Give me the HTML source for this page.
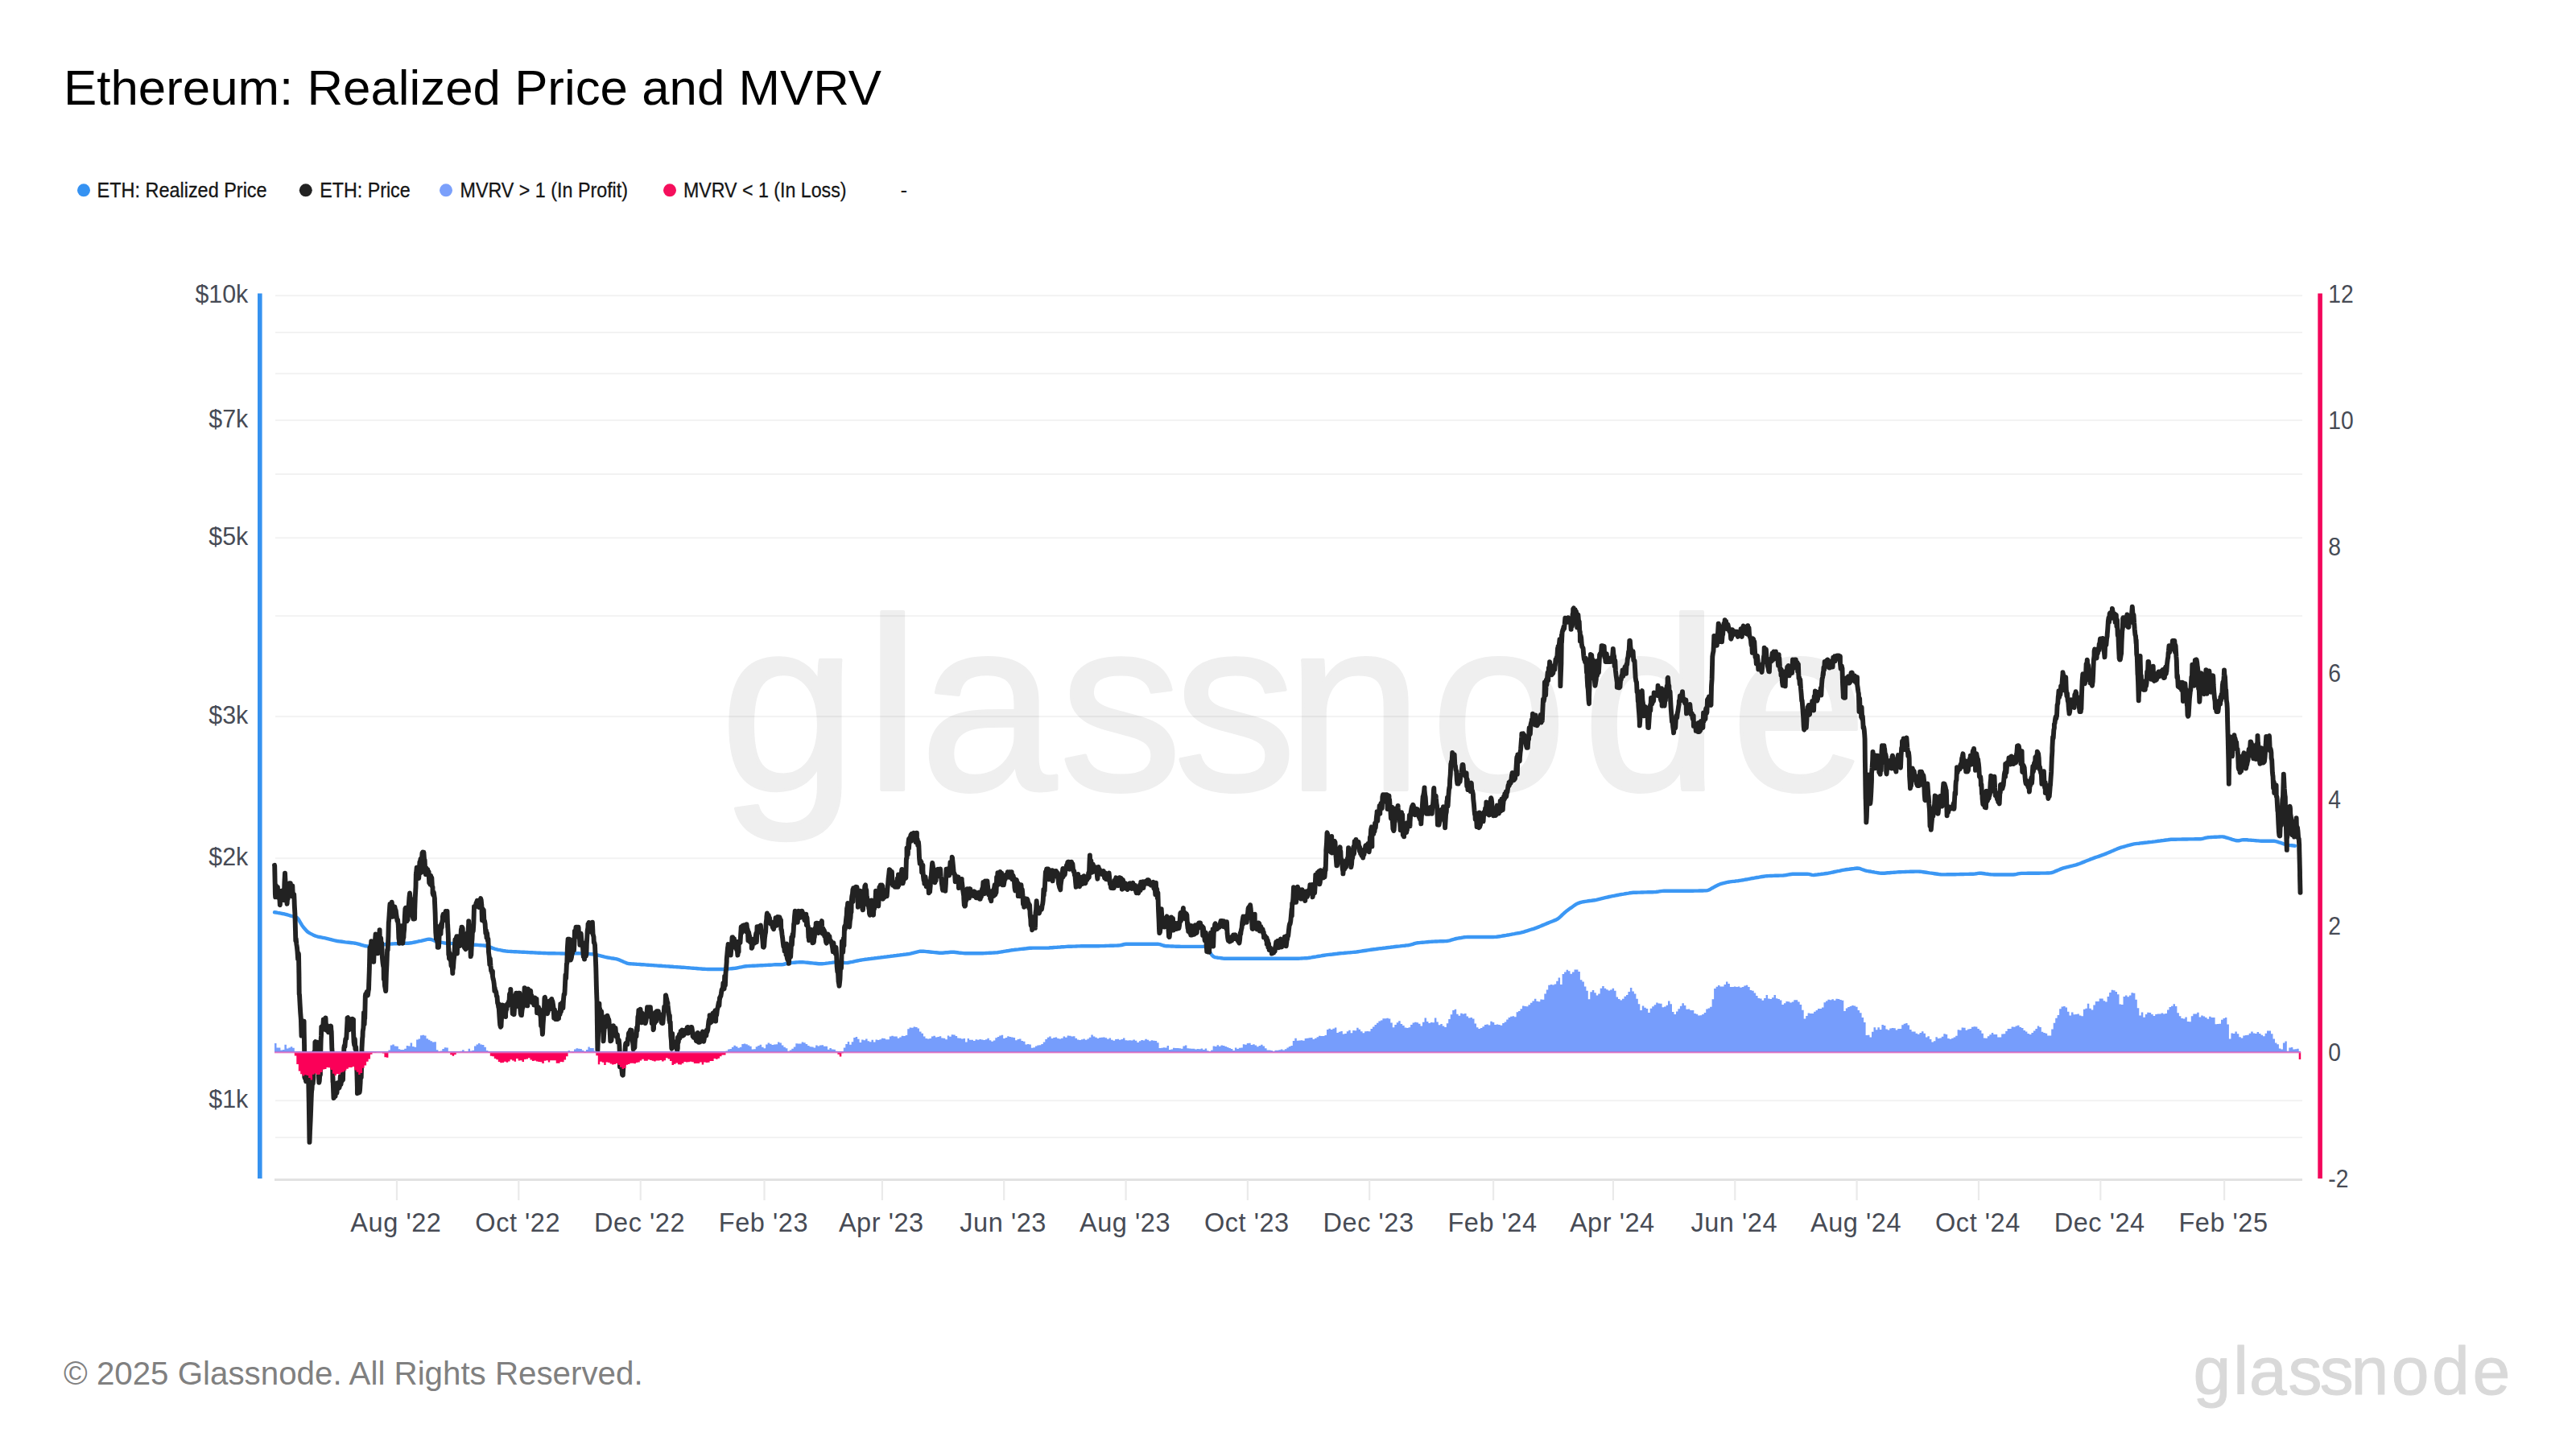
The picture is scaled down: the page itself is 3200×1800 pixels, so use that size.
<!DOCTYPE html>
<html lang="en"><head><meta charset="utf-8"><title>Ethereum: Realized Price and MVRV</title>
<style>html,body{margin:0;padding:0;background:#fff;}body{width:3200px;height:1800px;overflow:hidden;font-family:"Liberation Sans", sans-serif;}svg{display:block;}text{font-family:"Liberation Sans", sans-serif;}</style></head><body>
<svg width="3200" height="1800" viewBox="0 0 3200 1800">
<rect width="3200" height="1800" fill="#ffffff"/>
<text x="79" y="129.6" font-size="62" fill="#000" textLength="1016" lengthAdjust="spacingAndGlyphs">Ethereum: Realized Price and MVRV</text>
<circle cx="104.0" cy="236.3" r="8" fill="#3592f2"/>
<text x="120.6" y="244.9" font-size="26.5" fill="#151515" stroke="#151515" stroke-width="0.3" textLength="211.0" lengthAdjust="spacingAndGlyphs">ETH: Realized Price</text>
<circle cx="379.8" cy="236.3" r="8" fill="#222222"/>
<text x="397.3" y="244.9" font-size="26.5" fill="#151515" stroke="#151515" stroke-width="0.3" textLength="112.3" lengthAdjust="spacingAndGlyphs">ETH: Price</text>
<circle cx="554.0" cy="236.3" r="8" fill="#7ba0fb"/>
<text x="571.5" y="244.9" font-size="26.5" fill="#151515" stroke="#151515" stroke-width="0.3" textLength="208.5" lengthAdjust="spacingAndGlyphs">MVRV &gt; 1 (In Profit)</text>
<circle cx="832.0" cy="236.3" r="8" fill="#f50f5c"/>
<text x="849.0" y="244.9" font-size="26.5" fill="#151515" stroke="#151515" stroke-width="0.3" textLength="202.5" lengthAdjust="spacingAndGlyphs">MVRV &lt; 1 (In Loss)</text>
<text x="1118.5" y="245" font-size="26" fill="#1a1a1a">-</text>
<text x="894.5 1074.8 1142.8 1316 1458 1597.8 1777.2 1965.9 2149.8" y="981" font-size="305" fill="#efefef" stroke="#efefef" stroke-width="4" stroke-linejoin="round">glassnode</text>
<rect x="342" y="366.2" width="2518" height="2" fill="#000" fill-opacity="0.05"/>
<rect x="342" y="412.0" width="2518" height="2" fill="#000" fill-opacity="0.05"/>
<rect x="342" y="463.1" width="2518" height="2" fill="#000" fill-opacity="0.05"/>
<rect x="342" y="521.1" width="2518" height="2" fill="#000" fill-opacity="0.05"/>
<rect x="342" y="588.0" width="2518" height="2" fill="#000" fill-opacity="0.05"/>
<rect x="342" y="667.2" width="2518" height="2" fill="#000" fill-opacity="0.05"/>
<rect x="342" y="764.1" width="2518" height="2" fill="#000" fill-opacity="0.05"/>
<rect x="342" y="889.1" width="2518" height="2" fill="#000" fill-opacity="0.05"/>
<rect x="342" y="1065.2" width="2518" height="2" fill="#000" fill-opacity="0.05"/>
<rect x="342" y="1366.2" width="2518" height="2" fill="#000" fill-opacity="0.05"/>
<rect x="342" y="1412.0" width="2518" height="2" fill="#000" fill-opacity="0.05"/>
<rect x="341" y="1464" width="2519" height="3" fill="#e2e2e2"/>
<rect x="491.9" y="1466" width="2.2" height="25" fill="#eaeaea"/>
<text x="491.9" y="1529.8" font-size="32.5" fill="#474b55" text-anchor="middle" letter-spacing="0.55">Aug '22</text>
<rect x="643.2" y="1466" width="2.2" height="25" fill="#eaeaea"/>
<text x="643.2" y="1529.8" font-size="32.5" fill="#474b55" text-anchor="middle" letter-spacing="0.55">Oct '22</text>
<rect x="794.6" y="1466" width="2.2" height="25" fill="#eaeaea"/>
<text x="794.6" y="1529.8" font-size="32.5" fill="#474b55" text-anchor="middle" letter-spacing="0.55">Dec '22</text>
<rect x="948.4" y="1466" width="2.2" height="25" fill="#eaeaea"/>
<text x="948.4" y="1529.8" font-size="32.5" fill="#474b55" text-anchor="middle" letter-spacing="0.55">Feb '23</text>
<rect x="1094.8" y="1466" width="2.2" height="25" fill="#eaeaea"/>
<text x="1094.8" y="1529.8" font-size="32.5" fill="#474b55" text-anchor="middle" letter-spacing="0.55">Apr '23</text>
<rect x="1246.1" y="1466" width="2.2" height="25" fill="#eaeaea"/>
<text x="1246.1" y="1529.8" font-size="32.5" fill="#474b55" text-anchor="middle" letter-spacing="0.55">Jun '23</text>
<rect x="1397.5" y="1466" width="2.2" height="25" fill="#eaeaea"/>
<text x="1397.5" y="1529.8" font-size="32.5" fill="#474b55" text-anchor="middle" letter-spacing="0.55">Aug '23</text>
<rect x="1548.8" y="1466" width="2.2" height="25" fill="#eaeaea"/>
<text x="1548.8" y="1529.8" font-size="32.5" fill="#474b55" text-anchor="middle" letter-spacing="0.55">Oct '23</text>
<rect x="1700.1" y="1466" width="2.2" height="25" fill="#eaeaea"/>
<text x="1700.1" y="1529.8" font-size="32.5" fill="#474b55" text-anchor="middle" letter-spacing="0.55">Dec '23</text>
<rect x="1854.0" y="1466" width="2.2" height="25" fill="#eaeaea"/>
<text x="1854.0" y="1529.8" font-size="32.5" fill="#474b55" text-anchor="middle" letter-spacing="0.55">Feb '24</text>
<rect x="2002.8" y="1466" width="2.2" height="25" fill="#eaeaea"/>
<text x="2002.8" y="1529.8" font-size="32.5" fill="#474b55" text-anchor="middle" letter-spacing="0.55">Apr '24</text>
<rect x="2154.2" y="1466" width="2.2" height="25" fill="#eaeaea"/>
<text x="2154.2" y="1529.8" font-size="32.5" fill="#474b55" text-anchor="middle" letter-spacing="0.55">Jun '24</text>
<rect x="2305.5" y="1466" width="2.2" height="25" fill="#eaeaea"/>
<text x="2305.5" y="1529.8" font-size="32.5" fill="#474b55" text-anchor="middle" letter-spacing="0.55">Aug '24</text>
<rect x="2456.9" y="1466" width="2.2" height="25" fill="#eaeaea"/>
<text x="2456.9" y="1529.8" font-size="32.5" fill="#474b55" text-anchor="middle" letter-spacing="0.55">Oct '24</text>
<rect x="2608.2" y="1466" width="2.2" height="25" fill="#eaeaea"/>
<text x="2608.2" y="1529.8" font-size="32.5" fill="#474b55" text-anchor="middle" letter-spacing="0.55">Dec '24</text>
<rect x="2762.0" y="1466" width="2.2" height="25" fill="#eaeaea"/>
<text x="2762.0" y="1529.8" font-size="32.5" fill="#474b55" text-anchor="middle" letter-spacing="0.55">Feb '25</text>
<rect x="320" y="364.5" width="5.6" height="1099.5" fill="#3692f0"/>
<rect x="2879.3" y="364.5" width="5.6" height="1099.5" fill="#f2075b"/>
<text x="308.3" y="375.8" font-size="31.5" fill="#474b55" text-anchor="end" textLength="65.9" lengthAdjust="spacingAndGlyphs">$10k</text>
<text x="308.3" y="530.7" font-size="31.5" fill="#474b55" text-anchor="end" textLength="49.0" lengthAdjust="spacingAndGlyphs">$7k</text>
<text x="308.3" y="676.8" font-size="31.5" fill="#474b55" text-anchor="end" textLength="49.0" lengthAdjust="spacingAndGlyphs">$5k</text>
<text x="308.3" y="898.7" font-size="31.5" fill="#474b55" text-anchor="end" textLength="49.0" lengthAdjust="spacingAndGlyphs">$3k</text>
<text x="308.3" y="1074.8" font-size="31.5" fill="#474b55" text-anchor="end" textLength="49.0" lengthAdjust="spacingAndGlyphs">$2k</text>
<text x="308.3" y="1375.8" font-size="31.5" fill="#474b55" text-anchor="end" textLength="49.0" lengthAdjust="spacingAndGlyphs">$1k</text>
<text x="2892.3" y="376.1" font-size="31.5" fill="#474b55" textLength="31.4" lengthAdjust="spacingAndGlyphs">12</text>
<text x="2892.3" y="533.1" font-size="31.5" fill="#474b55" textLength="31.4" lengthAdjust="spacingAndGlyphs">10</text>
<text x="2892.3" y="690.1" font-size="31.5" fill="#474b55" textLength="15.7" lengthAdjust="spacingAndGlyphs">8</text>
<text x="2892.3" y="847.1" font-size="31.5" fill="#474b55" textLength="15.7" lengthAdjust="spacingAndGlyphs">6</text>
<text x="2892.3" y="1004.1" font-size="31.5" fill="#474b55" textLength="15.7" lengthAdjust="spacingAndGlyphs">4</text>
<text x="2892.3" y="1161.1" font-size="31.5" fill="#474b55" textLength="15.7" lengthAdjust="spacingAndGlyphs">2</text>
<text x="2892.3" y="1318.1" font-size="31.5" fill="#474b55" textLength="15.7" lengthAdjust="spacingAndGlyphs">0</text>
<text x="2892.3" y="1475.1" font-size="31.5" fill="#474b55" textLength="25.1" lengthAdjust="spacingAndGlyphs">-2</text>
<defs><filter id="soft" x="-1%" y="-1%" width="102%" height="102%"><feGaussianBlur stdDeviation="0.55"/></filter></defs><g filter="url(#soft)">
<path d="M341.0 1133.3 L343.0 1133.5 L345.0 1133.9 L347.0 1134.2 L349.0 1134.6 L351.0 1135.0 L353.0 1135.3 L355.0 1135.8 L357.0 1136.4 L359.0 1137.0 L361.0 1137.7 L363.0 1138.2 L365.0 1138.6 L367.0 1138.9 L369.0 1140.0 L371.0 1142.3 L373.0 1145.8 L375.0 1149.2 L377.0 1152.0 L379.0 1154.3 L381.0 1156.5 L383.0 1158.2 L385.0 1159.4 L387.0 1160.4 L389.0 1161.4 L391.0 1162.3 L393.0 1163.0 L395.0 1163.6 L397.0 1164.0 L399.0 1164.4 L401.0 1164.8 L403.0 1165.2 L405.0 1165.6 L407.0 1166.1 L409.0 1166.6 L411.0 1167.1 L413.0 1167.7 L415.0 1168.2 L417.0 1168.6 L419.0 1169.0 L421.0 1169.3 L423.0 1169.5 L425.0 1169.8 L427.0 1170.1 L429.0 1170.4 L431.0 1170.6 L433.0 1170.8 L435.0 1171.0 L437.0 1171.2 L439.0 1171.4 L441.0 1171.7 L443.0 1172.1 L445.0 1172.6 L447.0 1173.2 L449.0 1173.8 L451.0 1174.4 L453.0 1175.0 L455.0 1175.3 L457.0 1175.4 L459.0 1175.3 L461.0 1175.2 L463.0 1174.9 L465.0 1174.7 L467.0 1174.4 L469.0 1174.2 L471.0 1173.9 L473.0 1173.7 L475.0 1173.4 L477.0 1173.2 L479.0 1173.0 L481.0 1172.8 L483.0 1172.7 L485.0 1172.6 L487.0 1172.5 L489.0 1172.4 L491.0 1172.3 L493.0 1172.2 L495.0 1172.1 L497.0 1172.1 L499.0 1172.0 L501.0 1171.9 L503.0 1171.9 L505.0 1171.8 L507.0 1171.7 L509.0 1171.5 L511.0 1171.3 L513.0 1170.9 L515.0 1170.5 L517.0 1170.1 L519.0 1169.7 L521.0 1169.2 L523.0 1168.8 L525.0 1168.3 L527.0 1167.8 L529.0 1167.3 L531.0 1166.9 L533.0 1166.7 L535.0 1166.9 L537.0 1167.5 L539.0 1168.3 L541.0 1169.0 L543.0 1169.5 L545.0 1170.0 L547.0 1170.4 L549.0 1170.8 L551.0 1171.2 L553.0 1171.5 L555.0 1171.7 L557.0 1171.8 L559.0 1171.9 L561.0 1172.0 L563.0 1172.1 L565.0 1172.2 L567.0 1172.3 L569.0 1172.4 L571.0 1172.5 L573.0 1172.6 L575.0 1172.7 L577.0 1172.9 L579.0 1173.0 L581.0 1173.1 L583.0 1173.2 L585.0 1173.4 L587.0 1173.5 L589.0 1173.7 L591.0 1173.8 L593.0 1173.9 L595.0 1174.1 L597.0 1174.2 L599.0 1174.4 L601.0 1174.5 L603.0 1174.8 L605.0 1175.3 L607.0 1176.0 L609.0 1176.7 L611.0 1177.4 L613.0 1178.2 L615.0 1178.8 L617.0 1179.3 L619.0 1179.8 L621.0 1180.2 L623.0 1180.6 L625.0 1181.0 L627.0 1181.3 L629.0 1181.6 L631.0 1181.8 L633.0 1181.9 L635.0 1182.0 L637.0 1182.1 L639.0 1182.2 L641.0 1182.3 L643.0 1182.4 L645.0 1182.5 L647.0 1182.6 L649.0 1182.7 L651.0 1182.8 L653.0 1182.9 L655.0 1183.0 L657.0 1183.1 L659.0 1183.2 L661.0 1183.3 L663.0 1183.4 L665.0 1183.5 L667.0 1183.6 L669.0 1183.7 L671.0 1183.8 L673.0 1183.9 L675.0 1184.0 L677.0 1184.0 L679.0 1184.1 L681.0 1184.2 L683.0 1184.2 L685.0 1184.2 L687.0 1184.3 L689.0 1184.3 L691.0 1184.4 L693.0 1184.4 L695.0 1184.4 L697.0 1184.5 L699.0 1184.5 L701.0 1184.6 L703.0 1184.5 L705.0 1184.5 L707.0 1184.4 L709.0 1184.3 L711.0 1184.3 L713.0 1184.2 L715.0 1184.2 L717.0 1184.2 L719.0 1184.3 L721.0 1184.4 L723.0 1184.5 L725.0 1184.6 L727.0 1184.8 L729.0 1184.9 L731.0 1185.0 L733.0 1185.1 L735.0 1185.2 L737.0 1185.4 L739.0 1185.8 L741.0 1186.2 L743.0 1186.7 L745.0 1187.2 L747.0 1187.7 L749.0 1188.2 L751.0 1188.7 L753.0 1189.1 L755.0 1189.5 L757.0 1189.8 L759.0 1190.2 L761.0 1190.5 L763.0 1190.8 L765.0 1191.2 L767.0 1191.7 L769.0 1192.3 L771.0 1193.2 L773.0 1194.1 L775.0 1195.0 L777.0 1195.8 L779.0 1196.6 L781.0 1197.0 L783.0 1197.2 L785.0 1197.4 L787.0 1197.5 L789.0 1197.6 L791.0 1197.8 L793.0 1197.9 L795.0 1198.0 L797.0 1198.2 L799.0 1198.3 L801.0 1198.4 L803.0 1198.6 L805.0 1198.7 L807.0 1198.9 L809.0 1199.0 L811.0 1199.1 L813.0 1199.3 L815.0 1199.4 L817.0 1199.6 L819.0 1199.7 L821.0 1199.8 L823.0 1200.0 L825.0 1200.1 L827.0 1200.3 L829.0 1200.4 L831.0 1200.5 L833.0 1200.7 L835.0 1200.8 L837.0 1201.0 L839.0 1201.1 L841.0 1201.2 L843.0 1201.4 L845.0 1201.5 L847.0 1201.7 L849.0 1201.8 L851.0 1201.9 L853.0 1202.1 L855.0 1202.2 L857.0 1202.4 L859.0 1202.6 L861.0 1202.7 L863.0 1202.9 L865.0 1203.0 L867.0 1203.2 L869.0 1203.4 L871.0 1203.5 L873.0 1203.7 L875.0 1203.8 L877.0 1203.9 L879.0 1204.0 L881.0 1204.0 L883.0 1204.0 L885.0 1204.0 L887.0 1204.0 L889.0 1204.0 L891.0 1204.0 L893.0 1204.0 L895.0 1204.0 L897.0 1204.0 L899.0 1204.0 L901.0 1203.9 L903.0 1203.8 L905.0 1203.6 L907.0 1203.4 L909.0 1203.2 L911.0 1203.0 L913.0 1202.8 L915.0 1202.5 L917.0 1202.1 L919.0 1201.7 L921.0 1201.3 L923.0 1200.9 L925.0 1200.5 L927.0 1200.3 L929.0 1200.1 L931.0 1200.0 L933.0 1199.9 L935.0 1199.8 L937.0 1199.7 L939.0 1199.6 L941.0 1199.5 L943.0 1199.4 L945.0 1199.3 L947.0 1199.2 L949.0 1199.1 L951.0 1199.0 L953.0 1198.9 L955.0 1198.8 L957.0 1198.7 L959.0 1198.6 L961.0 1198.4 L963.0 1198.3 L965.0 1198.2 L967.0 1198.2 L969.0 1198.3 L971.0 1198.3 L973.0 1198.0 L975.0 1197.5 L977.0 1197.0 L979.0 1196.6 L981.0 1196.2 L983.0 1196.0 L985.0 1195.9 L987.0 1195.7 L989.0 1195.5 L991.0 1195.4 L993.0 1195.2 L995.0 1195.2 L997.0 1195.2 L999.0 1195.4 L1001.0 1195.6 L1003.0 1195.8 L1005.0 1196.0 L1007.0 1196.2 L1009.0 1196.4 L1011.0 1196.6 L1013.0 1196.8 L1015.0 1197.0 L1017.0 1197.2 L1019.0 1197.3 L1021.0 1197.3 L1023.0 1197.1 L1025.0 1196.9 L1027.0 1196.6 L1029.0 1196.4 L1031.0 1196.1 L1033.0 1195.9 L1035.0 1195.6 L1037.0 1195.4 L1039.0 1195.2 L1041.0 1195.2 L1043.0 1195.4 L1045.0 1195.6 L1047.0 1195.8 L1049.0 1196.0 L1051.0 1196.1 L1053.0 1196.0 L1055.0 1195.6 L1057.0 1195.2 L1059.0 1194.8 L1061.0 1194.3 L1063.0 1193.9 L1065.0 1193.5 L1067.0 1193.1 L1069.0 1192.7 L1071.0 1192.4 L1073.0 1192.1 L1075.0 1191.8 L1077.0 1191.6 L1079.0 1191.3 L1081.0 1191.1 L1083.0 1190.8 L1085.0 1190.6 L1087.0 1190.3 L1089.0 1190.1 L1091.0 1189.8 L1093.0 1189.6 L1095.0 1189.3 L1097.0 1189.1 L1099.0 1188.8 L1101.0 1188.6 L1103.0 1188.3 L1105.0 1188.1 L1107.0 1187.8 L1109.0 1187.6 L1111.0 1187.3 L1113.0 1187.1 L1115.0 1186.8 L1117.0 1186.6 L1119.0 1186.3 L1121.0 1186.1 L1123.0 1185.8 L1125.0 1185.6 L1127.0 1185.3 L1129.0 1185.0 L1131.0 1184.6 L1133.0 1184.1 L1135.0 1183.6 L1137.0 1183.1 L1139.0 1182.6 L1141.0 1182.1 L1143.0 1181.7 L1145.0 1181.6 L1147.0 1181.7 L1149.0 1181.9 L1151.0 1182.1 L1153.0 1182.3 L1155.0 1182.5 L1157.0 1182.7 L1159.0 1182.9 L1161.0 1183.1 L1163.0 1183.3 L1165.0 1183.5 L1167.0 1183.7 L1169.0 1183.7 L1171.0 1183.7 L1173.0 1183.5 L1175.0 1183.3 L1177.0 1183.2 L1179.0 1183.0 L1181.0 1182.8 L1183.0 1182.8 L1185.0 1182.8 L1187.0 1183.0 L1189.0 1183.2 L1191.0 1183.5 L1193.0 1183.7 L1195.0 1183.9 L1197.0 1184.1 L1199.0 1184.3 L1201.0 1184.3 L1203.0 1184.3 L1205.0 1184.3 L1207.0 1184.3 L1209.0 1184.3 L1211.0 1184.3 L1213.0 1184.3 L1215.0 1184.3 L1217.0 1184.3 L1219.0 1184.3 L1221.0 1184.2 L1223.0 1184.1 L1225.0 1184.0 L1227.0 1183.9 L1229.0 1183.8 L1231.0 1183.7 L1233.0 1183.6 L1235.0 1183.5 L1237.0 1183.4 L1239.0 1183.2 L1241.0 1182.9 L1243.0 1182.6 L1245.0 1182.3 L1247.0 1181.9 L1249.0 1181.6 L1251.0 1181.3 L1253.0 1181.0 L1255.0 1180.6 L1257.0 1180.3 L1259.0 1180.1 L1261.0 1179.8 L1263.0 1179.6 L1265.0 1179.4 L1267.0 1179.1 L1269.0 1178.9 L1271.0 1178.7 L1273.0 1178.5 L1275.0 1178.3 L1277.0 1178.0 L1279.0 1177.8 L1281.0 1177.7 L1283.0 1177.6 L1285.0 1177.6 L1287.0 1177.6 L1289.0 1177.6 L1291.0 1177.6 L1293.0 1177.6 L1295.0 1177.6 L1297.0 1177.6 L1299.0 1177.6 L1301.0 1177.6 L1303.0 1177.5 L1305.0 1177.3 L1307.0 1177.2 L1309.0 1177.0 L1311.0 1176.9 L1313.0 1176.8 L1315.0 1176.6 L1317.0 1176.5 L1319.0 1176.3 L1321.0 1176.2 L1323.0 1176.1 L1325.0 1175.9 L1327.0 1175.8 L1329.0 1175.8 L1331.0 1175.7 L1333.0 1175.6 L1335.0 1175.6 L1337.0 1175.5 L1339.0 1175.4 L1341.0 1175.4 L1343.0 1175.3 L1345.0 1175.2 L1347.0 1175.2 L1349.0 1175.2 L1351.0 1175.2 L1353.0 1175.2 L1355.0 1175.2 L1357.0 1175.2 L1359.0 1175.2 L1361.0 1175.2 L1363.0 1175.2 L1365.0 1175.2 L1367.0 1175.1 L1369.0 1175.1 L1371.0 1175.1 L1373.0 1175.0 L1375.0 1174.9 L1377.0 1174.9 L1379.0 1174.8 L1381.0 1174.8 L1383.0 1174.7 L1385.0 1174.6 L1387.0 1174.6 L1389.0 1174.5 L1391.0 1174.4 L1393.0 1174.0 L1395.0 1173.5 L1397.0 1173.0 L1399.0 1172.7 L1401.0 1172.7 L1403.0 1172.7 L1405.0 1172.7 L1407.0 1172.7 L1409.0 1172.7 L1411.0 1172.7 L1413.0 1172.7 L1415.0 1172.7 L1417.0 1172.7 L1419.0 1172.7 L1421.0 1172.7 L1423.0 1172.7 L1425.0 1172.7 L1427.0 1172.7 L1429.0 1172.7 L1431.0 1172.7 L1433.0 1172.7 L1435.0 1172.7 L1437.0 1172.7 L1439.0 1172.8 L1441.0 1173.2 L1443.0 1173.8 L1445.0 1174.5 L1447.0 1175.0 L1449.0 1175.2 L1451.0 1175.3 L1453.0 1175.4 L1455.0 1175.5 L1457.0 1175.5 L1459.0 1175.6 L1461.0 1175.7 L1463.0 1175.8 L1465.0 1175.8 L1467.0 1175.9 L1469.0 1175.9 L1471.0 1175.9 L1473.0 1175.9 L1475.0 1175.9 L1477.0 1175.9 L1479.0 1175.9 L1481.0 1175.9 L1483.0 1175.9 L1485.0 1175.9 L1487.0 1175.9 L1489.0 1175.9 L1491.0 1175.9 L1493.0 1175.9 L1495.0 1175.9 L1497.0 1175.9 L1499.0 1177.0 L1501.0 1179.3 L1503.0 1182.7 L1505.0 1185.9 L1507.0 1188.0 L1509.0 1189.1 L1511.0 1189.4 L1513.0 1189.7 L1515.0 1189.9 L1517.0 1190.2 L1519.0 1190.5 L1521.0 1190.7 L1523.0 1190.8 L1525.0 1190.8 L1527.0 1190.8 L1529.0 1190.8 L1531.0 1190.8 L1533.0 1190.8 L1535.0 1190.8 L1537.0 1190.8 L1539.0 1190.8 L1541.0 1190.8 L1543.0 1190.8 L1545.0 1190.8 L1547.0 1190.8 L1549.0 1190.8 L1551.0 1190.8 L1553.0 1190.8 L1555.0 1190.8 L1557.0 1190.8 L1559.0 1190.8 L1561.0 1190.8 L1563.0 1190.8 L1565.0 1190.8 L1567.0 1190.8 L1569.0 1190.8 L1571.0 1190.8 L1573.0 1190.8 L1575.0 1190.8 L1577.0 1190.8 L1579.0 1190.8 L1581.0 1190.8 L1583.0 1190.8 L1585.0 1190.8 L1587.0 1190.8 L1589.0 1190.8 L1591.0 1190.8 L1593.0 1190.8 L1595.0 1190.8 L1597.0 1190.8 L1599.0 1190.8 L1601.0 1190.8 L1603.0 1190.8 L1605.0 1190.8 L1607.0 1190.8 L1609.0 1190.8 L1611.0 1190.7 L1613.0 1190.7 L1615.0 1190.6 L1617.0 1190.5 L1619.0 1190.4 L1621.0 1190.3 L1623.0 1190.2 L1625.0 1190.0 L1627.0 1189.7 L1629.0 1189.4 L1631.0 1189.0 L1633.0 1188.7 L1635.0 1188.4 L1637.0 1188.0 L1639.0 1187.7 L1641.0 1187.4 L1643.0 1187.0 L1645.0 1186.7 L1647.0 1186.4 L1649.0 1186.1 L1651.0 1185.9 L1653.0 1185.7 L1655.0 1185.5 L1657.0 1185.2 L1659.0 1185.0 L1661.0 1184.8 L1663.0 1184.5 L1665.0 1184.3 L1667.0 1184.1 L1669.0 1184.0 L1671.0 1183.8 L1673.0 1183.6 L1675.0 1183.4 L1677.0 1183.3 L1679.0 1183.1 L1681.0 1182.9 L1683.0 1182.7 L1685.0 1182.5 L1687.0 1182.2 L1689.0 1181.9 L1691.0 1181.6 L1693.0 1181.3 L1695.0 1181.0 L1697.0 1180.7 L1699.0 1180.4 L1701.0 1180.1 L1703.0 1179.8 L1705.0 1179.5 L1707.0 1179.2 L1709.0 1179.0 L1711.0 1178.7 L1713.0 1178.4 L1715.0 1178.2 L1717.0 1178.0 L1719.0 1177.7 L1721.0 1177.5 L1723.0 1177.2 L1725.0 1177.0 L1727.0 1176.8 L1729.0 1176.5 L1731.0 1176.3 L1733.0 1176.0 L1735.0 1175.8 L1737.0 1175.6 L1739.0 1175.4 L1741.0 1175.1 L1743.0 1174.9 L1745.0 1174.7 L1747.0 1174.4 L1749.0 1174.2 L1751.0 1173.9 L1753.0 1173.4 L1755.0 1172.8 L1757.0 1172.1 L1759.0 1171.6 L1761.0 1171.3 L1763.0 1171.1 L1765.0 1170.9 L1767.0 1170.7 L1769.0 1170.6 L1771.0 1170.4 L1773.0 1170.2 L1775.0 1170.0 L1777.0 1169.9 L1779.0 1169.7 L1781.0 1169.6 L1783.0 1169.5 L1785.0 1169.5 L1787.0 1169.4 L1789.0 1169.3 L1791.0 1169.2 L1793.0 1169.2 L1795.0 1169.1 L1797.0 1169.0 L1799.0 1168.7 L1801.0 1168.3 L1803.0 1167.7 L1805.0 1167.1 L1807.0 1166.5 L1809.0 1166.0 L1811.0 1165.6 L1813.0 1165.3 L1815.0 1165.0 L1817.0 1164.6 L1819.0 1164.3 L1821.0 1164.1 L1823.0 1164.0 L1825.0 1164.0 L1827.0 1164.0 L1829.0 1164.0 L1831.0 1164.0 L1833.0 1164.0 L1835.0 1164.0 L1837.0 1164.0 L1839.0 1164.0 L1841.0 1164.0 L1843.0 1164.0 L1845.0 1164.0 L1847.0 1164.0 L1849.0 1164.0 L1851.0 1164.0 L1853.0 1164.0 L1855.0 1164.0 L1857.0 1163.9 L1859.0 1163.8 L1861.0 1163.5 L1863.0 1163.2 L1865.0 1162.9 L1867.0 1162.5 L1869.0 1162.2 L1871.0 1161.9 L1873.0 1161.5 L1875.0 1161.2 L1877.0 1160.8 L1879.0 1160.4 L1881.0 1160.1 L1883.0 1159.7 L1885.0 1159.3 L1887.0 1159.0 L1889.0 1158.6 L1891.0 1158.1 L1893.0 1157.6 L1895.0 1156.9 L1897.0 1156.3 L1899.0 1155.7 L1901.0 1155.0 L1903.0 1154.4 L1905.0 1153.8 L1907.0 1153.1 L1909.0 1152.4 L1911.0 1151.6 L1913.0 1150.8 L1915.0 1149.9 L1917.0 1149.1 L1919.0 1148.3 L1921.0 1147.4 L1923.0 1146.6 L1925.0 1145.8 L1927.0 1145.0 L1929.0 1144.2 L1931.0 1143.4 L1933.0 1142.6 L1935.0 1141.5 L1937.0 1140.0 L1939.0 1138.1 L1941.0 1136.1 L1943.0 1134.3 L1945.0 1132.6 L1947.0 1131.1 L1949.0 1129.6 L1951.0 1128.1 L1953.0 1126.7 L1955.0 1125.3 L1957.0 1123.9 L1959.0 1122.7 L1961.0 1121.8 L1963.0 1121.1 L1965.0 1120.6 L1967.0 1120.2 L1969.0 1119.9 L1971.0 1119.6 L1973.0 1119.3 L1975.0 1119.0 L1977.0 1118.8 L1979.0 1118.5 L1981.0 1118.2 L1983.0 1117.9 L1985.0 1117.4 L1987.0 1116.9 L1989.0 1116.4 L1991.0 1115.9 L1993.0 1115.4 L1995.0 1114.9 L1997.0 1114.5 L1999.0 1114.0 L2001.0 1113.6 L2003.0 1113.2 L2005.0 1112.8 L2007.0 1112.4 L2009.0 1112.0 L2011.0 1111.6 L2013.0 1111.2 L2015.0 1110.9 L2017.0 1110.6 L2019.0 1110.2 L2021.0 1109.9 L2023.0 1109.6 L2025.0 1109.2 L2027.0 1109.0 L2029.0 1108.8 L2031.0 1108.7 L2033.0 1108.7 L2035.0 1108.6 L2037.0 1108.6 L2039.0 1108.5 L2041.0 1108.5 L2043.0 1108.4 L2045.0 1108.4 L2047.0 1108.3 L2049.0 1108.3 L2051.0 1108.2 L2053.0 1108.2 L2055.0 1108.1 L2057.0 1108.0 L2059.0 1107.8 L2061.0 1107.4 L2063.0 1107.1 L2065.0 1106.9 L2067.0 1106.8 L2069.0 1106.8 L2071.0 1106.8 L2073.0 1106.8 L2075.0 1106.8 L2077.0 1106.8 L2079.0 1106.8 L2081.0 1106.8 L2083.0 1106.8 L2085.0 1106.8 L2087.0 1106.8 L2089.0 1106.8 L2091.0 1106.8 L2093.0 1106.8 L2095.0 1106.8 L2097.0 1106.8 L2099.0 1106.7 L2101.0 1106.7 L2103.0 1106.7 L2105.0 1106.6 L2107.0 1106.6 L2109.0 1106.6 L2111.0 1106.5 L2113.0 1106.5 L2115.0 1106.5 L2117.0 1106.4 L2119.0 1106.4 L2121.0 1106.1 L2123.0 1105.5 L2125.0 1104.4 L2127.0 1103.2 L2129.0 1102.1 L2131.0 1101.0 L2133.0 1100.0 L2135.0 1099.0 L2137.0 1098.2 L2139.0 1097.6 L2141.0 1097.1 L2143.0 1096.6 L2145.0 1096.1 L2147.0 1095.7 L2149.0 1095.4 L2151.0 1095.1 L2153.0 1094.9 L2155.0 1094.7 L2157.0 1094.4 L2159.0 1094.2 L2161.0 1093.9 L2163.0 1093.6 L2165.0 1093.3 L2167.0 1092.9 L2169.0 1092.5 L2171.0 1092.2 L2173.0 1091.8 L2175.0 1091.4 L2177.0 1091.0 L2179.0 1090.7 L2181.0 1090.3 L2183.0 1090.0 L2185.0 1089.7 L2187.0 1089.3 L2189.0 1089.0 L2191.0 1088.7 L2193.0 1088.4 L2195.0 1088.2 L2197.0 1088.1 L2199.0 1088.0 L2201.0 1088.0 L2203.0 1087.9 L2205.0 1087.8 L2207.0 1087.8 L2209.0 1087.7 L2211.0 1087.6 L2213.0 1087.6 L2215.0 1087.5 L2217.0 1087.3 L2219.0 1087.0 L2221.0 1086.6 L2223.0 1086.3 L2225.0 1086.0 L2227.0 1085.8 L2229.0 1085.7 L2231.0 1085.7 L2233.0 1085.7 L2235.0 1085.7 L2237.0 1085.7 L2239.0 1085.7 L2241.0 1085.7 L2243.0 1085.7 L2245.0 1085.7 L2247.0 1085.9 L2249.0 1086.4 L2251.0 1086.9 L2253.0 1087.1 L2255.0 1086.8 L2257.0 1086.6 L2259.0 1086.3 L2261.0 1086.1 L2263.0 1085.8 L2265.0 1085.6 L2267.0 1085.3 L2269.0 1085.0 L2271.0 1084.7 L2273.0 1084.3 L2275.0 1083.9 L2277.0 1083.5 L2279.0 1083.0 L2281.0 1082.6 L2283.0 1082.2 L2285.0 1081.8 L2287.0 1081.3 L2289.0 1080.9 L2291.0 1080.6 L2293.0 1080.3 L2295.0 1080.0 L2297.0 1079.8 L2299.0 1079.5 L2301.0 1079.2 L2303.0 1079.0 L2305.0 1078.7 L2307.0 1078.5 L2309.0 1078.7 L2311.0 1079.2 L2313.0 1080.0 L2315.0 1080.7 L2317.0 1081.3 L2319.0 1081.8 L2321.0 1082.2 L2323.0 1082.5 L2325.0 1082.9 L2327.0 1083.2 L2329.0 1083.6 L2331.0 1083.9 L2333.0 1084.3 L2335.0 1084.6 L2337.0 1084.8 L2339.0 1084.8 L2341.0 1084.7 L2343.0 1084.5 L2345.0 1084.3 L2347.0 1084.2 L2349.0 1084.0 L2351.0 1083.9 L2353.0 1083.7 L2355.0 1083.6 L2357.0 1083.4 L2359.0 1083.3 L2361.0 1083.2 L2363.0 1083.1 L2365.0 1083.1 L2367.0 1083.0 L2369.0 1082.9 L2371.0 1082.9 L2373.0 1082.8 L2375.0 1082.8 L2377.0 1082.7 L2379.0 1082.6 L2381.0 1082.6 L2383.0 1082.6 L2385.0 1082.7 L2387.0 1082.9 L2389.0 1083.2 L2391.0 1083.5 L2393.0 1083.8 L2395.0 1084.1 L2397.0 1084.4 L2399.0 1084.6 L2401.0 1084.9 L2403.0 1085.2 L2405.0 1085.5 L2407.0 1085.8 L2409.0 1086.1 L2411.0 1086.3 L2413.0 1086.4 L2415.0 1086.4 L2417.0 1086.4 L2419.0 1086.3 L2421.0 1086.3 L2423.0 1086.3 L2425.0 1086.2 L2427.0 1086.2 L2429.0 1086.2 L2431.0 1086.1 L2433.0 1086.1 L2435.0 1086.0 L2437.0 1086.0 L2439.0 1086.0 L2441.0 1085.9 L2443.0 1085.9 L2445.0 1085.9 L2447.0 1085.8 L2449.0 1085.8 L2451.0 1085.8 L2453.0 1085.6 L2455.0 1085.3 L2457.0 1084.9 L2459.0 1084.7 L2461.0 1084.8 L2463.0 1085.0 L2465.0 1085.3 L2467.0 1085.6 L2469.0 1085.8 L2471.0 1086.1 L2473.0 1086.3 L2475.0 1086.4 L2477.0 1086.5 L2479.0 1086.5 L2481.0 1086.5 L2483.0 1086.5 L2485.0 1086.5 L2487.0 1086.5 L2489.0 1086.5 L2491.0 1086.5 L2493.0 1086.5 L2495.0 1086.5 L2497.0 1086.5 L2499.0 1086.5 L2501.0 1086.5 L2503.0 1086.3 L2505.0 1085.9 L2507.0 1085.4 L2509.0 1085.1 L2511.0 1084.9 L2513.0 1084.9 L2515.0 1084.9 L2517.0 1084.9 L2519.0 1084.8 L2521.0 1084.8 L2523.0 1084.8 L2525.0 1084.8 L2527.0 1084.7 L2529.0 1084.7 L2531.0 1084.7 L2533.0 1084.7 L2535.0 1084.6 L2537.0 1084.6 L2539.0 1084.6 L2541.0 1084.6 L2543.0 1084.5 L2545.0 1084.5 L2547.0 1084.4 L2549.0 1084.0 L2551.0 1083.3 L2553.0 1082.4 L2555.0 1081.6 L2557.0 1080.8 L2559.0 1079.9 L2561.0 1079.1 L2563.0 1078.4 L2565.0 1077.8 L2567.0 1077.3 L2569.0 1076.8 L2571.0 1076.3 L2573.0 1075.8 L2575.0 1075.4 L2577.0 1074.9 L2579.0 1074.4 L2581.0 1073.7 L2583.0 1073.0 L2585.0 1072.2 L2587.0 1071.4 L2589.0 1070.6 L2591.0 1069.8 L2593.0 1069.0 L2595.0 1068.2 L2597.0 1067.4 L2599.0 1066.7 L2601.0 1065.9 L2603.0 1065.2 L2605.0 1064.5 L2607.0 1063.8 L2609.0 1063.1 L2611.0 1062.4 L2613.0 1061.7 L2615.0 1060.9 L2617.0 1060.1 L2619.0 1059.2 L2621.0 1058.4 L2623.0 1057.5 L2625.0 1056.7 L2627.0 1055.8 L2629.0 1055.0 L2631.0 1054.1 L2633.0 1053.4 L2635.0 1052.7 L2637.0 1052.2 L2639.0 1051.6 L2641.0 1051.0 L2643.0 1050.4 L2645.0 1049.9 L2647.0 1049.3 L2649.0 1048.8 L2651.0 1048.4 L2653.0 1048.1 L2655.0 1047.9 L2657.0 1047.7 L2659.0 1047.4 L2661.0 1047.2 L2663.0 1047.0 L2665.0 1046.8 L2667.0 1046.6 L2669.0 1046.3 L2671.0 1046.1 L2673.0 1045.9 L2675.0 1045.6 L2677.0 1045.4 L2679.0 1045.1 L2681.0 1044.8 L2683.0 1044.6 L2685.0 1044.3 L2687.0 1044.1 L2689.0 1043.8 L2691.0 1043.5 L2693.0 1043.3 L2695.0 1043.0 L2697.0 1042.8 L2699.0 1042.7 L2701.0 1042.7 L2703.0 1042.7 L2705.0 1042.6 L2707.0 1042.6 L2709.0 1042.6 L2711.0 1042.5 L2713.0 1042.5 L2715.0 1042.5 L2717.0 1042.5 L2719.0 1042.4 L2721.0 1042.4 L2723.0 1042.4 L2725.0 1042.4 L2727.0 1042.3 L2729.0 1042.3 L2731.0 1042.3 L2733.0 1042.2 L2735.0 1042.0 L2737.0 1041.6 L2739.0 1041.0 L2741.0 1040.6 L2743.0 1040.3 L2745.0 1040.1 L2747.0 1040.0 L2749.0 1039.9 L2751.0 1039.8 L2753.0 1039.7 L2755.0 1039.6 L2757.0 1039.5 L2759.0 1039.4 L2761.0 1039.4 L2763.0 1039.7 L2765.0 1040.3 L2767.0 1040.9 L2769.0 1041.5 L2771.0 1042.1 L2773.0 1042.8 L2775.0 1043.4 L2777.0 1044.0 L2779.0 1044.3 L2781.0 1044.3 L2783.0 1043.8 L2785.0 1043.4 L2787.0 1043.2 L2789.0 1043.2 L2791.0 1043.3 L2793.0 1043.5 L2795.0 1043.6 L2797.0 1043.8 L2799.0 1043.9 L2801.0 1044.1 L2803.0 1044.3 L2805.0 1044.4 L2807.0 1044.6 L2809.0 1044.7 L2811.0 1044.7 L2813.0 1044.7 L2815.0 1044.7 L2817.0 1044.7 L2819.0 1044.7 L2821.0 1044.7 L2823.0 1044.7 L2825.0 1044.8 L2827.0 1045.1 L2829.0 1045.6 L2831.0 1046.3 L2833.0 1046.9 L2835.0 1047.6 L2837.0 1048.3 L2839.0 1048.9 L2841.0 1049.5 L2843.0 1049.9 L2845.0 1050.1 L2847.0 1050.3 L2849.0 1050.5 L2851.0 1050.7" fill="none" stroke="#3b97f4" stroke-width="4.4" stroke-linejoin="round" stroke-linecap="round"/>
<path d="M341.0 1074.8 L341.2 1075.9 L341.6 1095.1 L341.9 1110.7 L342.2 1114.4 L342.9 1099.9 L343.5 1106.4 L344.1 1110.5 L344.7 1102.3 L344.9 1102.0 L345.3 1114.6 L346.0 1112.0 L346.6 1113.4 L347.2 1113.7 L347.8 1124.2 L347.9 1123.0 L348.4 1115.1 L349.1 1116.7 L349.7 1106.7 L350.3 1107.5 L350.9 1107.8 L351.1 1114.5 L351.5 1108.2 L352.2 1110.6 L352.8 1118.3 L353.4 1096.3 L354.0 1084.7 L354.1 1087.2 L354.6 1096.8 L355.3 1106.5 L355.9 1108.7 L356.5 1120.8 L356.6 1122.9 L357.1 1115.8 L357.7 1116.3 L358.4 1104.0 L359.0 1102.1 L359.3 1100.3 L359.6 1097.1 L360.2 1101.4 L360.8 1097.1 L361.5 1105.5 L362.1 1100.8 L362.3 1107.3 L362.7 1113.3 L363.3 1100.5 L363.9 1113.8 L364.6 1110.6 L365.2 1111.0 L365.5 1116.6 L365.8 1124.8 L366.4 1135.2 L367.0 1156.5 L367.3 1168.5 L367.7 1166.0 L368.3 1172.6 L368.9 1176.4 L369.5 1182.3 L370.1 1191.2 L370.8 1184.4 L371.0 1186.4 L371.4 1209.1 L371.7 1235.1 L372.0 1235.3 L372.6 1247.2 L373.2 1257.6 L373.9 1266.6 L374.5 1286.6 L374.7 1272.4 L375.1 1274.3 L375.7 1282.0 L376.3 1268.3 L377.0 1276.2 L377.6 1268.7 L377.7 1279.5 L378.2 1308.1 L378.3 1338.0 L378.8 1339.4 L379.4 1338.6 L380.1 1343.2 L380.4 1336.3 L380.7 1334.9 L381.3 1339.5 L381.9 1340.0 L382.5 1340.0 L383.1 1339.7 L383.2 1341.7 L383.8 1371.6 L384.4 1413.4 L384.5 1418.9 L385.0 1405.3 L385.6 1393.1 L386.3 1374.6 L386.9 1358.6 L387.3 1353.6 L387.5 1353.7 L388.1 1342.4 L388.7 1346.2 L389.4 1338.7 L389.4 1333.4 L390.0 1313.4 L390.0 1307.2 L390.6 1306.5 L391.2 1308.8 L391.4 1294.7 L391.8 1294.2 L392.5 1300.4 L393.1 1301.5 L393.7 1296.6 L393.8 1294.6 L394.3 1305.2 L394.9 1307.8 L394.9 1303.8 L395.6 1326.2 L396.2 1343.4 L396.3 1344.8 L396.8 1342.5 L397.4 1333.8 L397.9 1335.1 L398.0 1324.5 L398.3 1306.3 L398.7 1291.0 L399.0 1286.9 L399.3 1275.7 L399.9 1275.8 L400.5 1279.5 L401.1 1273.4 L401.1 1277.6 L401.8 1266.5 L402.4 1273.2 L403.0 1266.6 L403.6 1272.7 L404.2 1268.0 L404.5 1264.5 L404.9 1273.4 L405.5 1279.8 L406.1 1273.8 L406.7 1274.3 L407.3 1275.2 L407.3 1276.5 L408.0 1282.4 L408.6 1276.6 L409.2 1279.3 L409.8 1276.8 L410.4 1277.7 L411.1 1274.6 L411.4 1279.7 L411.7 1281.3 L412.3 1302.5 L412.8 1307.9 L412.9 1310.2 L413.5 1343.9 L413.5 1338.0 L414.2 1357.2 L414.5 1364.0 L414.8 1363.9 L415.4 1359.0 L416.0 1356.4 L416.6 1361.8 L417.3 1349.2 L417.7 1349.7 L417.9 1352.5 L418.5 1357.5 L419.1 1345.2 L419.7 1349.6 L420.4 1346.3 L421.0 1351.7 L421.6 1350.9 L422.2 1348.0 L422.8 1337.2 L423.2 1346.2 L423.5 1347.1 L424.1 1341.8 L424.7 1343.1 L425.3 1336.2 L425.9 1333.4 L426.0 1341.2 L426.6 1318.6 L426.6 1320.3 L427.2 1307.7 L427.3 1302.1 L427.8 1299.1 L428.4 1300.2 L429.0 1293.0 L429.4 1290.6 L429.7 1290.2 L430.3 1290.0 L430.9 1278.6 L431.5 1267.4 L431.5 1264.5 L432.1 1264.1 L432.8 1267.7 L433.4 1279.3 L434.0 1265.7 L434.6 1269.3 L434.9 1270.3 L435.2 1271.4 L435.9 1269.9 L436.5 1267.1 L437.1 1274.5 L437.7 1265.8 L438.3 1278.2 L439.0 1266.6 L439.0 1280.0 L439.6 1294.2 L440.2 1298.3 L440.4 1295.3 L440.8 1290.8 L441.4 1303.0 L442.1 1300.4 L442.5 1307.3 L442.7 1318.7 L443.3 1328.9 L443.9 1350.6 L443.9 1358.2 L444.5 1355.5 L445.2 1355.3 L445.8 1357.5 L446.4 1352.9 L446.6 1357.1 L447.0 1354.6 L447.6 1345.3 L448.3 1327.3 L448.7 1338.4 L448.9 1330.6 L449.4 1307.7 L449.5 1302.3 L450.1 1290.7 L450.5 1287.4 L450.7 1281.2 L451.4 1276.7 L452.0 1257.9 L452.6 1272.4 L453.0 1263.5 L453.2 1265.5 L453.8 1237.7 L454.2 1234.7 L454.5 1235.4 L455.1 1236.8 L455.7 1232.0 L456.3 1234.8 L456.9 1236.4 L457.6 1230.9 L458.0 1228.9 L458.2 1222.3 L458.8 1205.5 L459.2 1188.9 L459.4 1177.2 L460.0 1176.2 L460.7 1177.5 L461.3 1169.2 L461.7 1170.2 L461.9 1176.8 L462.5 1178.9 L463.1 1179.3 L463.8 1187.0 L464.2 1194.9 L464.4 1189.6 L465.0 1180.9 L465.6 1172.9 L466.2 1165.4 L466.6 1160.4 L466.9 1165.3 L467.5 1170.1 L468.1 1171.0 L468.7 1181.4 L469.1 1179.4 L469.3 1184.3 L470.0 1166.8 L470.6 1167.2 L471.2 1162.0 L471.6 1155.1 L471.8 1165.9 L472.4 1168.9 L473.1 1165.2 L473.7 1174.3 L474.1 1179.2 L474.3 1171.8 L474.9 1189.2 L475.5 1195.8 L476.2 1200.7 L476.6 1199.0 L476.8 1216.2 L477.4 1213.8 L478.0 1224.6 L478.6 1227.6 L479.1 1231.1 L479.3 1230.0 L479.9 1208.8 L480.5 1196.8 L481.1 1180.1 L481.6 1180.3 L481.7 1179.8 L482.4 1162.9 L482.8 1145.4 L483.0 1144.6 L483.6 1135.6 L484.2 1126.1 L484.5 1123.0 L484.8 1123.1 L485.5 1130.2 L486.1 1124.3 L486.7 1120.7 L487.3 1125.8 L487.8 1128.7 L487.9 1138.9 L488.6 1134.8 L489.2 1133.3 L489.8 1131.1 L490.4 1126.5 L491.0 1130.2 L491.5 1132.4 L491.7 1130.7 L492.3 1136.2 L492.9 1140.0 L493.5 1144.0 L494.0 1142.5 L494.1 1142.8 L494.8 1149.8 L495.4 1165.8 L496.0 1168.9 L496.0 1171.7 L496.6 1171.7 L497.2 1161.2 L497.9 1155.6 L498.5 1156.6 L498.9 1152.3 L499.1 1150.3 L499.7 1154.2 L500.3 1171.7 L501.0 1163.8 L501.4 1165.0 L501.6 1159.7 L502.2 1154.0 L502.8 1138.9 L503.4 1129.0 L503.9 1133.0 L504.1 1127.6 L504.7 1138.8 L505.3 1144.4 L505.9 1137.5 L506.4 1139.8 L506.5 1142.7 L507.2 1128.4 L507.8 1123.9 L508.4 1115.0 L509.0 1109.5 L509.4 1113.5 L509.6 1119.3 L510.3 1116.2 L510.9 1118.5 L511.5 1128.0 L512.1 1135.7 L512.6 1138.6 L512.7 1138.9 L513.4 1141.6 L514.0 1138.1 L514.6 1138.5 L515.1 1141.4 L515.2 1131.6 L515.8 1114.3 L516.5 1101.7 L516.8 1086.5 L517.1 1084.2 L517.7 1077.8 L518.3 1085.7 L518.9 1086.5 L519.6 1079.5 L520.1 1090.0 L520.2 1091.1 L520.8 1082.9 L521.4 1070.7 L522.0 1069.9 L522.5 1066.9 L522.7 1071.0 L523.3 1084.0 L523.9 1068.2 L524.5 1059.7 L525.1 1058.6 L525.8 1060.9 L526.3 1060.4 L526.4 1058.6 L527.0 1067.4 L527.6 1068.5 L528.2 1081.5 L528.8 1079.2 L528.9 1086.3 L529.5 1078.1 L530.1 1083.6 L530.7 1082.5 L531.2 1079.8 L531.3 1082.7 L532.0 1082.2 L532.6 1083.0 L533.2 1096.7 L533.7 1092.5 L533.8 1095.2 L534.4 1098.7 L535.1 1087.6 L535.7 1093.9 L536.3 1090.2 L536.9 1101.3 L537.5 1102.1 L537.5 1109.5 L538.2 1111.8 L538.8 1108.3 L539.4 1112.7 L539.9 1116.0 L540.0 1120.5 L540.6 1133.6 L541.2 1155.7 L541.3 1158.3 L541.9 1166.4 L542.5 1163.1 L543.1 1168.5 L543.7 1173.0 L543.7 1176.7 L544.4 1170.9 L545.0 1176.7 L545.6 1163.4 L546.2 1150.6 L546.8 1154.1 L547.4 1158.3 L547.5 1160.2 L548.1 1147.9 L548.7 1152.5 L549.3 1144.7 L549.9 1142.3 L549.9 1138.6 L550.6 1135.8 L551.2 1137.1 L551.8 1136.3 L552.4 1134.7 L553.0 1134.3 L553.6 1133.2 L553.7 1131.9 L554.3 1134.1 L554.9 1144.2 L555.5 1132.0 L556.1 1151.7 L556.1 1148.1 L556.8 1161.7 L557.3 1185.8 L557.4 1178.5 L558.0 1190.6 L558.6 1183.9 L559.2 1192.0 L559.8 1193.3 L559.9 1189.2 L560.5 1199.7 L561.1 1200.6 L561.7 1199.1 L562.3 1209.1 L562.3 1205.6 L563.0 1202.3 L563.6 1193.5 L564.2 1188.5 L564.8 1177.8 L564.8 1177.2 L565.4 1167.3 L566.1 1175.5 L566.7 1165.6 L567.3 1163.3 L567.3 1167.3 L567.9 1184.5 L568.5 1163.3 L569.2 1164.4 L569.8 1167.8 L570.4 1168.6 L571.0 1175.1 L571.0 1173.3 L571.6 1168.2 L572.3 1166.7 L572.9 1154.7 L573.5 1154.8 L573.5 1151.8 L574.1 1151.8 L574.7 1153.4 L575.4 1171.3 L576.0 1171.0 L576.0 1173.5 L576.6 1176.5 L577.2 1177.5 L577.8 1178.0 L578.4 1179.1 L578.5 1169.2 L579.1 1178.2 L579.7 1161.2 L580.3 1159.3 L580.9 1161.6 L581.6 1156.8 L582.2 1146.5 L582.2 1144.3 L582.8 1155.1 L583.4 1169.1 L584.0 1160.0 L584.7 1188.1 L584.7 1181.6 L585.3 1186.7 L585.9 1172.6 L586.5 1166.9 L587.1 1152.9 L587.1 1157.9 L587.8 1156.5 L588.4 1146.8 L589.0 1126.2 L589.6 1127.1 L589.6 1127.2 L590.2 1126.2 L590.9 1125.2 L591.5 1121.8 L592.1 1123.1 L592.7 1118.7 L593.3 1122.6 L594.0 1124.2 L594.6 1127.0 L594.6 1119.4 L595.2 1118.9 L595.8 1124.9 L596.4 1118.2 L597.1 1116.1 L597.7 1118.1 L598.3 1124.8 L598.3 1123.7 L598.9 1143.1 L599.5 1128.7 L600.2 1130.8 L600.8 1130.8 L600.8 1130.9 L601.4 1144.6 L602.0 1143.9 L602.6 1147.7 L603.3 1159.1 L603.3 1156.8 L603.9 1155.8 L604.5 1164.9 L605.1 1159.2 L605.7 1166.0 L605.8 1168.1 L606.4 1166.4 L607.0 1183.0 L607.6 1187.7 L608.2 1196.1 L608.3 1198.0 L608.8 1190.6 L609.5 1199.7 L610.1 1205.6 L610.7 1205.6 L611.3 1209.3 L611.9 1206.3 L612.0 1213.0 L612.6 1216.1 L613.2 1218.3 L613.8 1222.6 L614.4 1231.1 L614.5 1226.4 L615.0 1229.5 L615.7 1231.0 L616.3 1232.7 L616.9 1237.7 L617.0 1237.2 L617.5 1237.8 L618.1 1245.7 L618.8 1247.7 L619.4 1251.7 L619.4 1246.9 L620.0 1256.6 L620.6 1265.9 L621.2 1273.3 L621.9 1275.8 L621.9 1272.5 L622.5 1275.1 L623.1 1262.9 L623.7 1248.4 L624.3 1253.6 L624.4 1249.0 L625.0 1248.7 L625.6 1249.1 L626.2 1258.0 L626.8 1251.8 L627.4 1254.5 L628.1 1263.0 L628.1 1259.5 L628.7 1254.4 L629.3 1254.0 L629.9 1247.3 L630.5 1247.0 L630.6 1249.6 L631.2 1247.4 L631.8 1244.2 L632.4 1246.9 L633.0 1235.1 L633.6 1233.5 L634.3 1232.4 L634.3 1228.9 L634.9 1239.1 L635.5 1241.6 L636.1 1245.9 L636.7 1259.2 L636.8 1257.1 L637.4 1249.8 L638.0 1256.5 L638.6 1260.2 L639.2 1250.2 L639.8 1236.7 L640.5 1237.9 L640.6 1236.4 L641.1 1233.8 L641.7 1233.8 L642.3 1241.9 L642.9 1248.0 L643.6 1250.2 L644.2 1233.8 L644.3 1245.7 L644.8 1247.4 L645.4 1233.8 L646.0 1249.3 L646.7 1259.2 L647.3 1261.1 L647.9 1261.1 L648.0 1260.2 L648.5 1255.2 L649.1 1251.5 L649.8 1251.1 L650.4 1242.9 L651.0 1243.5 L651.6 1227.1 L652.2 1244.6 L652.9 1233.4 L653.0 1232.9 L653.5 1233.5 L654.1 1237.8 L654.7 1230.3 L655.3 1249.3 L656.0 1228.4 L656.6 1231.8 L656.7 1229.7 L657.2 1237.9 L657.8 1238.6 L658.4 1239.4 L659.1 1230.6 L659.7 1237.4 L660.3 1236.5 L660.4 1237.8 L660.9 1245.3 L661.5 1242.3 L662.2 1243.4 L662.8 1241.6 L663.4 1248.4 L664.0 1246.0 L664.2 1244.8 L664.6 1239.5 L665.3 1242.8 L665.9 1249.6 L666.5 1240.9 L667.1 1258.1 L667.7 1254.6 L667.9 1252.5 L668.4 1253.7 L669.0 1251.2 L669.6 1258.9 L670.2 1253.6 L670.8 1255.3 L671.5 1262.6 L671.6 1260.8 L672.1 1274.1 L672.7 1267.5 L673.3 1276.1 L673.9 1284.7 L674.1 1282.7 L674.6 1272.3 L675.2 1264.4 L675.8 1259.2 L676.4 1240.7 L676.6 1239.2 L677.0 1238.9 L677.7 1245.3 L678.3 1245.6 L678.9 1250.7 L679.5 1253.4 L680.1 1259.2 L680.3 1257.8 L680.8 1256.6 L681.4 1248.3 L682.0 1249.7 L682.6 1243.5 L683.2 1253.5 L683.9 1246.0 L684.5 1242.0 L685.1 1242.5 L685.3 1241.0 L685.7 1248.3 L686.3 1243.5 L687.0 1247.8 L687.6 1252.1 L688.2 1264.5 L688.8 1260.6 L689.0 1254.5 L689.4 1261.4 L690.1 1266.1 L690.7 1257.6 L691.3 1259.0 L691.9 1266.1 L692.5 1266.1 L693.2 1265.8 L693.8 1260.2 L694.0 1265.0 L694.4 1257.8 L695.0 1260.9 L695.6 1260.0 L696.3 1247.3 L696.9 1256.8 L697.5 1252.3 L697.7 1252.1 L698.1 1253.0 L698.7 1245.2 L699.4 1252.3 L700.0 1241.6 L700.6 1235.2 L701.2 1234.3 L701.4 1235.0 L701.8 1227.3 L702.5 1211.2 L703.1 1215.6 L703.7 1202.6 L703.9 1197.4 L704.3 1196.9 L704.9 1177.2 L705.6 1166.7 L705.7 1168.0 L706.2 1166.7 L706.8 1173.2 L707.4 1166.7 L708.0 1176.6 L708.7 1192.5 L708.9 1188.5 L709.3 1191.6 L709.9 1189.4 L710.5 1185.5 L711.1 1184.0 L711.4 1179.3 L711.8 1177.5 L712.4 1167.2 L713.0 1180.3 L713.6 1169.2 L713.9 1156.8 L714.2 1161.8 L714.9 1158.1 L715.5 1151.8 L716.1 1151.8 L716.7 1152.8 L717.3 1151.8 L717.6 1156.6 L718.0 1159.6 L718.6 1151.8 L719.2 1164.6 L719.8 1160.0 L720.4 1173.9 L721.1 1170.8 L721.3 1163.4 L721.7 1159.7 L722.3 1167.4 L722.9 1172.5 L723.5 1170.6 L724.2 1179.8 L724.8 1188.4 L725.0 1188.3 L725.4 1183.2 L726.0 1191.6 L726.6 1173.6 L727.3 1177.4 L727.9 1187.7 L728.5 1183.8 L728.8 1172.8 L729.1 1167.6 L729.7 1156.5 L730.4 1151.9 L730.5 1148.0 L731.0 1154.2 L731.6 1145.9 L732.2 1156.1 L732.8 1154.6 L733.5 1155.9 L733.7 1157.6 L734.1 1154.3 L734.7 1151.4 L735.3 1158.3 L735.9 1145.8 L736.6 1160.6 L737.2 1162.8 L737.5 1163.9 L737.8 1170.9 L738.4 1171.1 L739.0 1173.9 L739.4 1183.1 L739.7 1186.8 L740.3 1202.4 L740.9 1226.3 L741.2 1235.3 L741.5 1243.3 L742.1 1287.8 L742.4 1304.6 L742.8 1293.1 L743.4 1276.4 L744.0 1260.4 L744.4 1246.7 L744.6 1253.6 L745.2 1253.1 L745.9 1259.3 L746.5 1261.1 L747.1 1256.4 L747.4 1260.8 L747.7 1267.7 L748.3 1276.7 L749.0 1278.5 L749.6 1293.4 L749.9 1289.2 L750.2 1284.4 L750.8 1276.2 L751.4 1276.5 L752.1 1271.0 L752.4 1267.8 L752.7 1263.0 L753.3 1266.8 L753.9 1269.5 L754.5 1261.8 L755.2 1264.1 L755.8 1267.4 L756.1 1266.1 L756.4 1267.2 L757.0 1275.2 L757.6 1280.1 L758.3 1293.4 L758.6 1290.2 L758.9 1291.6 L759.5 1292.6 L760.1 1285.5 L760.7 1287.0 L761.4 1285.7 L762.0 1274.2 L762.3 1278.2 L762.6 1278.9 L763.2 1281.6 L763.8 1281.8 L764.5 1276.8 L765.1 1283.3 L765.7 1288.0 L766.0 1284.5 L766.3 1286.6 L766.9 1285.2 L767.6 1294.8 L768.2 1293.2 L768.8 1291.9 L769.4 1298.0 L769.8 1307.5 L770.0 1325.1 L770.7 1321.9 L771.3 1321.2 L771.9 1320.2 L772.5 1330.3 L773.1 1335.1 L773.5 1335.7 L773.8 1335.7 L774.4 1324.5 L775.0 1319.9 L775.6 1315.1 L776.2 1311.8 L776.9 1299.0 L777.2 1296.2 L777.5 1296.4 L778.1 1295.3 L778.7 1295.2 L779.3 1297.5 L780.0 1289.7 L780.6 1289.6 L780.9 1284.1 L781.2 1283.0 L781.8 1286.6 L782.4 1282.9 L783.1 1279.4 L783.7 1281.0 L784.3 1290.5 L784.7 1279.9 L784.9 1284.7 L785.5 1291.9 L786.2 1295.7 L786.8 1303.4 L787.4 1302.3 L788.0 1300.1 L788.4 1301.3 L788.6 1296.5 L789.3 1286.8 L789.9 1286.6 L790.5 1287.6 L791.1 1276.5 L791.6 1278.2 L791.7 1280.0 L792.4 1263.2 L793.0 1261.2 L793.4 1255.0 L793.6 1260.6 L794.2 1263.4 L794.8 1262.1 L795.5 1253.6 L796.1 1259.8 L796.7 1260.7 L797.1 1258.0 L797.3 1270.4 L797.9 1258.8 L798.6 1267.7 L799.2 1262.5 L799.8 1267.3 L800.4 1263.9 L800.8 1267.7 L801.0 1268.6 L801.7 1271.1 L802.3 1269.1 L802.9 1265.2 L803.5 1257.9 L804.1 1251.2 L804.8 1260.3 L805.4 1261.1 L805.8 1254.7 L806.0 1251.2 L806.6 1261.7 L807.2 1251.2 L807.9 1251.2 L808.3 1257.9 L808.5 1263.3 L809.1 1257.4 L809.7 1271.2 L810.3 1267.1 L811.0 1265.9 L811.6 1279.2 L812.0 1277.9 L812.2 1269.3 L812.8 1270.7 L813.4 1271.0 L814.1 1268.6 L814.7 1257.5 L815.3 1268.4 L815.7 1261.5 L815.9 1256.1 L816.5 1264.7 L817.2 1256.1 L817.8 1256.1 L818.4 1261.8 L819.0 1264.0 L819.4 1264.0 L819.6 1263.7 L820.3 1265.0 L820.9 1260.4 L821.5 1269.9 L822.1 1270.8 L822.7 1271.1 L823.2 1269.0 L823.4 1271.1 L824.0 1263.9 L824.6 1260.0 L825.2 1250.6 L825.8 1254.8 L826.5 1250.2 L826.9 1236.4 L827.1 1236.3 L827.7 1239.3 L828.3 1241.4 L828.9 1244.8 L829.4 1245.5 L829.6 1248.7 L830.2 1254.3 L830.8 1258.2 L831.4 1267.2 L831.9 1261.8 L832.0 1269.9 L832.7 1269.6 L833.3 1286.6 L833.9 1292.5 L834.3 1302.0 L834.5 1302.7 L835.1 1284.0 L835.8 1295.9 L836.4 1293.2 L837.0 1295.7 L837.6 1298.1 L838.1 1295.0 L838.2 1297.7 L838.9 1300.6 L839.5 1296.7 L840.1 1298.6 L840.7 1303.4 L841.3 1304.6 L841.8 1302.4 L842.0 1288.6 L842.6 1295.0 L843.2 1290.4 L843.8 1285.0 L844.4 1289.9 L845.1 1283.2 L845.5 1284.1 L845.7 1281.0 L846.3 1285.4 L846.9 1283.2 L847.5 1279.6 L848.2 1286.7 L848.8 1280.5 L849.4 1285.9 L850.0 1284.5 L850.5 1279.8 L850.6 1279.9 L851.3 1282.5 L851.9 1279.5 L852.5 1280.2 L853.1 1280.1 L853.7 1276.3 L854.2 1283.5 L854.4 1276.0 L855.0 1283.5 L855.6 1281.2 L856.2 1280.8 L856.8 1281.1 L857.5 1280.0 L858.1 1276.0 L858.7 1276.0 L859.2 1277.8 L859.3 1276.0 L859.9 1279.6 L860.6 1287.3 L861.2 1283.5 L861.8 1288.8 L862.4 1285.5 L862.9 1289.0 L863.0 1289.5 L863.7 1288.6 L864.3 1290.8 L864.9 1293.0 L865.5 1290.1 L866.1 1291.7 L866.8 1283.0 L867.4 1294.4 L867.9 1291.9 L868.0 1294.7 L868.6 1290.2 L869.2 1294.7 L869.9 1284.5 L870.5 1288.8 L871.1 1292.7 L871.7 1288.7 L872.3 1285.8 L872.9 1289.1 L873.0 1281.4 L873.6 1286.6 L874.2 1293.7 L874.8 1290.4 L875.4 1285.0 L876.1 1283.0 L876.7 1283.1 L877.3 1286.6 L877.8 1282.4 L877.9 1279.7 L878.5 1282.1 L879.2 1279.5 L879.8 1274.0 L880.4 1268.6 L881.0 1266.0 L881.6 1267.9 L881.6 1261.1 L882.3 1270.8 L882.9 1261.7 L883.5 1263.9 L884.1 1269.4 L884.7 1265.1 L885.4 1258.6 L886.0 1265.7 L886.5 1264.4 L886.6 1259.7 L887.2 1257.6 L887.8 1261.2 L888.5 1255.2 L889.1 1268.5 L889.7 1255.0 L890.2 1261.1 L890.3 1259.8 L890.9 1254.5 L891.6 1251.8 L892.2 1248.6 L892.8 1245.2 L893.4 1249.2 L894.0 1239.6 L894.0 1241.5 L894.7 1238.2 L895.3 1237.8 L895.9 1234.4 L896.5 1230.1 L897.1 1228.4 L897.7 1229.5 L897.8 1229.4 L898.4 1221.1 L899.0 1227.1 L899.6 1228.3 L900.2 1212.6 L900.2 1217.6 L900.9 1224.1 L901.5 1208.8 L902.1 1203.3 L902.7 1194.6 L902.7 1191.9 L903.3 1185.6 L904.0 1177.6 L904.4 1175.2 L904.6 1172.9 L905.2 1175.7 L905.8 1174.3 L906.4 1178.8 L907.1 1177.6 L907.6 1181.5 L907.7 1186.5 L908.3 1179.7 L908.9 1175.8 L909.5 1164.4 L910.1 1164.2 L910.2 1164.2 L910.8 1165.9 L911.4 1170.9 L912.0 1166.3 L912.6 1176.6 L913.3 1172.3 L913.9 1169.4 L913.9 1171.1 L914.5 1174.5 L915.1 1179.8 L915.7 1179.3 L916.4 1186.6 L917.0 1181.3 L917.6 1182.4 L917.6 1172.9 L918.2 1169.5 L918.8 1170.6 L919.5 1171.1 L920.1 1161.4 L920.7 1151.4 L921.3 1151.2 L921.3 1158.7 L921.9 1153.6 L922.6 1150.1 L923.2 1152.9 L923.8 1149.4 L923.8 1152.2 L924.4 1149.3 L925.0 1151.8 L925.7 1155.3 L926.3 1151.9 L926.9 1157.4 L927.5 1151.3 L927.5 1148.3 L928.1 1153.6 L928.8 1154.8 L929.4 1168.4 L930.0 1157.8 L930.6 1161.0 L931.2 1164.4 L931.2 1162.9 L931.9 1170.1 L932.5 1168.0 L933.1 1169.3 L933.7 1170.6 L933.7 1177.8 L934.3 1177.2 L935.0 1173.1 L935.6 1166.8 L936.2 1169.0 L936.8 1170.6 L937.4 1171.7 L938.1 1166.3 L938.7 1166.0 L938.7 1162.9 L939.3 1159.2 L939.9 1170.2 L940.5 1151.3 L941.2 1156.8 L941.8 1157.5 L942.4 1152.8 L943.0 1150.7 L943.6 1152.6 L943.7 1152.2 L944.3 1154.0 L944.9 1149.4 L945.5 1158.5 L946.1 1156.6 L946.7 1162.2 L947.4 1168.7 L948.0 1176.4 L948.6 1176.7 L948.6 1174.4 L949.2 1175.6 L949.8 1166.7 L950.5 1160.8 L951.1 1157.9 L951.7 1146.1 L952.3 1141.3 L952.4 1138.4 L952.9 1134.4 L953.6 1145.3 L954.2 1140.0 L954.8 1137.0 L955.4 1140.5 L956.0 1140.2 L956.1 1141.7 L956.7 1146.5 L957.3 1147.7 L957.9 1145.2 L958.5 1147.7 L959.1 1147.5 L959.8 1152.1 L960.4 1150.8 L961.0 1154.3 L961.1 1153.8 L961.6 1150.7 L962.2 1145.2 L962.9 1147.0 L963.5 1140.3 L964.1 1141.8 L964.7 1149.8 L965.3 1141.8 L966.0 1139.1 L966.0 1141.7 L966.6 1142.0 L967.2 1139.1 L967.8 1139.1 L968.4 1139.4 L969.1 1141.9 L969.7 1143.2 L970.0 1142.9 L970.3 1154.6 L970.9 1155.0 L971.5 1160.9 L972.2 1165.7 L972.5 1169.2 L972.8 1171.7 L973.4 1176.1 L974.0 1174.2 L974.6 1181.5 L975.3 1176.4 L975.9 1175.8 L976.2 1180.8 L976.5 1186.1 L977.1 1172.5 L977.7 1189.5 L978.4 1192.4 L979.0 1191.1 L979.6 1181.1 L979.9 1196.9 L980.2 1191.5 L980.8 1183.7 L981.5 1186.2 L982.1 1188.9 L982.7 1178.8 L983.3 1164.4 L983.7 1174.4 L983.9 1173.0 L984.6 1160.6 L985.2 1163.6 L985.8 1155.0 L986.1 1147.9 L986.4 1148.8 L987.0 1138.8 L987.7 1131.7 L988.3 1136.7 L988.9 1139.5 L989.4 1133.6 L989.5 1137.3 L990.1 1136.6 L990.8 1145.8 L991.4 1133.5 L992.0 1131.7 L992.6 1136.6 L993.2 1137.8 L993.6 1136.5 L993.9 1139.9 L994.5 1139.4 L995.1 1133.9 L995.7 1131.7 L996.3 1131.7 L997.0 1134.0 L997.3 1134.3 L997.6 1136.9 L998.2 1134.8 L998.8 1139.9 L999.4 1143.3 L1000.1 1141.1 L1000.7 1137.8 L1001.1 1142.7 L1001.3 1135.8 L1001.9 1149.1 L1002.5 1139.8 L1003.2 1149.5 L1003.8 1150.6 L1004.4 1164.5 L1004.8 1154.7 L1005.0 1168.1 L1005.6 1155.8 L1006.3 1155.3 L1006.9 1156.4 L1007.5 1154.8 L1007.8 1158.7 L1008.1 1167.7 L1008.7 1160.5 L1009.4 1171.4 L1010.0 1165.8 L1010.6 1170.8 L1011.0 1169.6 L1011.2 1166.0 L1011.8 1163.9 L1012.5 1153.2 L1013.1 1157.4 L1013.7 1146.9 L1014.2 1149.3 L1014.3 1146.6 L1014.9 1146.6 L1015.6 1147.6 L1016.2 1152.8 L1016.8 1159.0 L1017.2 1158.5 L1017.4 1155.7 L1018.0 1146.9 L1018.7 1157.8 L1019.3 1156.5 L1019.9 1149.5 L1020.5 1146.3 L1020.9 1144.1 L1021.1 1150.9 L1021.8 1159.8 L1022.4 1153.3 L1023.0 1157.3 L1023.6 1155.4 L1024.2 1157.2 L1024.2 1162.8 L1024.9 1158.4 L1025.5 1165.8 L1026.1 1170.2 L1026.6 1171.6 L1026.7 1166.4 L1027.3 1167.0 L1028.0 1162.2 L1028.6 1160.5 L1029.2 1165.1 L1029.8 1163.7 L1030.4 1163.1 L1030.9 1169.0 L1031.1 1169.7 L1031.7 1168.9 L1032.3 1168.9 L1032.9 1169.9 L1033.5 1173.8 L1034.2 1177.4 L1034.8 1182.3 L1035.1 1172.0 L1035.4 1171.3 L1036.0 1176.5 L1036.6 1176.3 L1037.3 1176.7 L1037.9 1184.8 L1038.3 1178.2 L1038.5 1177.0 L1039.1 1185.8 L1039.7 1200.8 L1040.3 1206.9 L1040.4 1201.3 L1041.0 1207.5 L1041.6 1219.5 L1042.2 1222.5 L1042.5 1224.8 L1042.8 1222.8 L1043.5 1215.9 L1044.1 1200.2 L1044.7 1200.5 L1045.0 1202.9 L1045.3 1194.8 L1045.9 1169.5 L1046.6 1183.0 L1047.2 1182.9 L1047.5 1176.3 L1047.8 1165.9 L1048.4 1174.7 L1049.0 1151.8 L1049.5 1150.2 L1049.7 1154.5 L1050.3 1150.5 L1050.9 1143.6 L1051.5 1138.1 L1051.5 1141.5 L1052.1 1128.6 L1052.8 1125.8 L1053.2 1121.9 L1053.4 1122.8 L1054.0 1139.8 L1054.6 1141.1 L1055.0 1150.8 L1055.2 1151.6 L1055.9 1143.3 L1056.5 1140.6 L1057.1 1132.0 L1057.5 1133.3 L1057.7 1119.9 L1058.3 1113.3 L1059.0 1110.2 L1059.4 1105.3 L1059.6 1119.8 L1060.2 1103.1 L1060.8 1112.7 L1061.4 1109.1 L1062.1 1103.3 L1062.7 1109.0 L1063.2 1103.6 L1063.3 1101.8 L1063.9 1108.5 L1064.5 1102.0 L1065.2 1107.6 L1065.7 1113.1 L1065.8 1126.7 L1066.4 1125.5 L1067.0 1106.5 L1067.4 1124.6 L1067.6 1121.4 L1068.3 1111.4 L1068.9 1106.8 L1069.4 1106.9 L1069.5 1119.6 L1070.1 1118.8 L1070.7 1118.0 L1071.4 1129.3 L1071.9 1129.1 L1072.0 1130.4 L1072.6 1121.5 L1073.2 1113.3 L1073.8 1107.7 L1074.3 1101.1 L1074.5 1100.5 L1075.1 1099.4 L1075.7 1107.9 L1076.3 1105.4 L1076.8 1116.4 L1076.9 1113.7 L1077.6 1118.0 L1078.2 1124.4 L1078.8 1119.2 L1079.3 1128.7 L1079.4 1120.6 L1080.0 1134.7 L1080.7 1136.7 L1081.3 1132.0 L1081.9 1122.5 L1082.3 1121.6 L1082.5 1118.5 L1083.1 1132.0 L1083.8 1127.6 L1084.4 1123.7 L1084.8 1136.7 L1085.0 1136.7 L1085.6 1126.4 L1086.2 1128.6 L1086.9 1122.2 L1087.5 1117.7 L1088.0 1106.8 L1088.1 1106.8 L1088.7 1110.9 L1089.3 1114.2 L1090.0 1112.6 L1090.6 1120.4 L1091.2 1125.5 L1091.7 1116.8 L1091.8 1115.1 L1092.4 1102.1 L1093.1 1104.9 L1093.7 1099.4 L1094.3 1102.1 L1094.9 1104.9 L1095.5 1101.2 L1095.5 1099.4 L1096.2 1100.4 L1096.8 1116.7 L1097.4 1105.4 L1098.0 1111.5 L1098.6 1114.9 L1099.2 1112.2 L1099.3 1109.3 L1099.9 1111.6 L1100.5 1106.2 L1101.1 1108.2 L1101.7 1113.4 L1102.4 1104.0 L1102.9 1099.2 L1103.0 1099.5 L1103.6 1091.3 L1104.2 1086.3 L1104.8 1080.2 L1105.5 1080.8 L1106.1 1081.6 L1106.1 1083.1 L1106.7 1083.9 L1107.3 1087.2 L1107.9 1082.9 L1108.6 1098.3 L1109.1 1095.2 L1109.2 1099.7 L1109.8 1095.7 L1110.4 1100.4 L1111.0 1096.5 L1111.7 1101.9 L1112.3 1101.9 L1112.9 1096.4 L1112.9 1101.9 L1113.5 1101.9 L1114.1 1100.6 L1114.8 1091.1 L1115.4 1101.9 L1116.0 1086.4 L1116.6 1099.5 L1116.6 1094.0 L1117.2 1090.4 L1117.9 1089.7 L1118.5 1090.8 L1119.1 1087.8 L1119.7 1085.6 L1120.3 1079.9 L1120.3 1086.0 L1121.0 1084.9 L1121.6 1097.3 L1122.2 1094.6 L1122.8 1084.5 L1123.4 1089.7 L1124.0 1091.7 L1124.1 1083.4 L1124.7 1088.4 L1125.3 1090.6 L1125.9 1066.7 L1126.5 1066.0 L1126.5 1053.4 L1127.2 1061.5 L1127.8 1061.5 L1128.4 1047.1 L1129.0 1042.0 L1129.0 1053.7 L1129.6 1045.3 L1130.3 1040.4 L1130.9 1041.0 L1131.5 1037.0 L1132.1 1044.8 L1132.7 1035.8 L1133.4 1041.0 L1134.0 1035.3 L1134.0 1037.6 L1134.6 1036.8 L1135.2 1034.8 L1135.8 1040.0 L1136.5 1037.3 L1137.1 1037.5 L1137.7 1046.4 L1138.3 1034.8 L1138.9 1034.8 L1138.9 1042.1 L1139.6 1042.3 L1140.2 1049.9 L1140.8 1046.0 L1140.9 1045.7 L1141.4 1050.9 L1142.0 1065.6 L1142.7 1072.7 L1142.7 1068.9 L1143.3 1069.1 L1143.9 1071.4 L1144.5 1070.9 L1145.1 1083.5 L1145.8 1078.2 L1146.4 1074.6 L1146.4 1080.8 L1147.0 1088.9 L1147.6 1093.7 L1148.2 1094.6 L1148.4 1097.9 L1148.9 1095.4 L1149.5 1089.3 L1150.1 1093.4 L1150.7 1101.2 L1151.3 1096.1 L1152.0 1097.2 L1152.6 1098.4 L1152.6 1095.2 L1153.2 1098.3 L1153.8 1109.3 L1154.4 1107.5 L1155.1 1106.5 L1155.1 1107.7 L1155.7 1100.5 L1156.3 1090.3 L1156.9 1087.2 L1157.5 1079.3 L1158.1 1072.6 L1158.2 1072.0 L1158.8 1075.3 L1159.4 1080.3 L1160.0 1080.0 L1160.6 1089.2 L1161.3 1096.3 L1161.3 1095.6 L1161.9 1090.4 L1162.5 1094.4 L1163.1 1085.5 L1163.7 1083.6 L1163.8 1083.9 L1164.4 1080.1 L1165.0 1079.9 L1165.6 1088.2 L1166.2 1083.7 L1166.8 1086.2 L1167.5 1080.9 L1167.5 1085.6 L1168.1 1079.5 L1168.7 1088.3 L1169.3 1091.3 L1169.9 1097.9 L1170.6 1102.4 L1170.7 1104.1 L1171.2 1105.8 L1171.8 1099.4 L1172.4 1101.4 L1173.0 1103.2 L1173.7 1100.8 L1174.2 1100.0 L1174.3 1106.8 L1174.9 1097.7 L1175.5 1079.8 L1176.1 1086.2 L1176.8 1079.5 L1177.4 1084.2 L1177.5 1086.9 L1178.0 1081.8 L1178.6 1083.8 L1179.2 1087.5 L1179.9 1079.9 L1180.5 1071.3 L1180.7 1076.8 L1181.1 1074.4 L1181.7 1070.5 L1182.3 1078.1 L1182.7 1064.8 L1183.0 1065.5 L1183.6 1071.6 L1184.2 1077.8 L1184.8 1085.1 L1184.9 1084.0 L1185.4 1084.9 L1186.1 1086.4 L1186.7 1095.2 L1187.3 1091.4 L1187.9 1089.9 L1188.1 1089.8 L1188.5 1089.0 L1189.2 1092.0 L1189.8 1095.0 L1190.4 1089.4 L1191.0 1103.0 L1191.1 1101.2 L1191.6 1098.2 L1192.3 1094.2 L1192.9 1093.8 L1193.5 1095.0 L1194.1 1091.9 L1194.7 1091.9 L1194.8 1094.5 L1195.4 1099.6 L1196.0 1104.7 L1196.6 1108.7 L1197.2 1112.7 L1197.3 1116.6 L1197.8 1124.2 L1198.5 1118.3 L1198.6 1125.6 L1199.1 1125.1 L1199.7 1116.6 L1200.3 1118.5 L1200.9 1107.9 L1201.6 1107.7 L1201.6 1104.3 L1202.2 1106.9 L1202.8 1105.4 L1203.4 1104.3 L1204.0 1115.6 L1204.7 1104.3 L1204.8 1106.4 L1205.3 1104.3 L1205.9 1108.5 L1206.5 1112.6 L1207.1 1108.4 L1207.8 1107.9 L1208.4 1109.0 L1208.5 1109.0 L1209.0 1113.0 L1209.6 1111.2 L1210.2 1107.3 L1210.9 1108.4 L1211.5 1108.2 L1212.1 1113.1 L1212.2 1109.2 L1212.7 1115.3 L1213.3 1112.5 L1214.0 1110.4 L1214.6 1111.8 L1215.2 1115.4 L1215.8 1114.1 L1216.0 1115.3 L1216.4 1108.5 L1217.1 1116.8 L1217.7 1116.8 L1218.3 1111.2 L1218.9 1114.2 L1219.5 1108.2 L1219.7 1106.9 L1220.2 1103.6 L1220.8 1104.2 L1221.4 1096.0 L1222.0 1103.0 L1222.6 1110.4 L1223.3 1109.0 L1223.4 1109.4 L1223.9 1094.5 L1224.5 1095.7 L1225.1 1096.1 L1225.4 1094.7 L1225.7 1094.4 L1226.4 1094.4 L1227.0 1101.0 L1227.6 1105.1 L1228.2 1111.5 L1228.4 1106.7 L1228.8 1110.1 L1229.5 1108.6 L1230.1 1116.3 L1230.7 1112.0 L1230.9 1116.2 L1231.3 1119.3 L1231.9 1107.1 L1232.6 1107.2 L1233.2 1107.5 L1233.8 1105.9 L1234.4 1113.0 L1234.6 1109.0 L1235.0 1103.5 L1235.7 1099.3 L1236.3 1111.5 L1236.9 1109.2 L1237.5 1108.9 L1237.8 1101.5 L1238.1 1089.7 L1238.8 1095.8 L1239.4 1084.1 L1239.6 1084.3 L1240.0 1092.2 L1240.6 1098.8 L1241.2 1096.3 L1241.9 1085.2 L1242.5 1083.1 L1243.1 1087.4 L1243.3 1087.9 L1243.7 1088.6 L1244.3 1084.6 L1245.0 1092.7 L1245.6 1099.4 L1246.2 1093.8 L1246.3 1095.6 L1246.8 1099.4 L1247.4 1095.9 L1248.1 1091.9 L1248.7 1092.2 L1249.3 1088.4 L1249.5 1089.7 L1249.9 1086.5 L1250.5 1088.5 L1251.2 1089.0 L1251.8 1083.2 L1252.4 1088.2 L1253.0 1089.3 L1253.2 1086.1 L1253.6 1089.9 L1254.3 1083.2 L1254.9 1083.2 L1255.5 1087.6 L1256.1 1083.2 L1256.7 1083.2 L1257.4 1092.4 L1258.0 1087.2 L1258.2 1089.2 L1258.6 1087.8 L1259.2 1091.0 L1259.8 1092.8 L1260.5 1102.7 L1261.1 1106.4 L1261.2 1104.1 L1261.7 1104.8 L1262.3 1092.7 L1262.9 1093.1 L1263.6 1103.3 L1264.2 1100.5 L1264.4 1097.0 L1264.8 1113.1 L1265.4 1098.2 L1266.0 1103.5 L1266.7 1113.2 L1267.3 1108.3 L1267.9 1102.0 L1268.1 1103.4 L1268.5 1099.2 L1269.1 1109.1 L1269.8 1104.8 L1270.4 1111.4 L1271.0 1123.2 L1271.1 1118.9 L1271.6 1117.4 L1272.2 1126.8 L1272.9 1121.6 L1273.5 1117.6 L1274.1 1116.4 L1274.3 1122.4 L1274.7 1124.4 L1275.3 1125.1 L1276.0 1116.8 L1276.6 1118.2 L1277.2 1122.7 L1277.8 1121.9 L1278.1 1125.2 L1278.4 1128.3 L1279.1 1124.1 L1279.7 1136.8 L1280.3 1141.9 L1280.6 1148.8 L1280.9 1150.0 L1281.5 1146.7 L1282.2 1155.2 L1282.8 1150.8 L1283.0 1150.3 L1283.4 1144.5 L1284.0 1144.6 L1284.6 1145.7 L1285.3 1138.4 L1285.5 1144.0 L1285.9 1152.9 L1286.5 1133.9 L1287.1 1130.0 L1287.5 1121.3 L1287.7 1119.2 L1288.4 1129.2 L1289.0 1127.1 L1289.6 1131.8 L1290.2 1130.8 L1290.5 1133.0 L1290.8 1134.5 L1291.5 1132.3 L1292.1 1130.8 L1292.7 1129.4 L1293.3 1127.6 L1293.9 1129.6 L1294.2 1128.1 L1294.6 1125.0 L1295.2 1123.0 L1295.8 1117.8 L1296.4 1105.0 L1296.7 1112.2 L1297.0 1106.3 L1297.7 1106.3 L1298.3 1092.9 L1298.9 1083.1 L1299.2 1084.1 L1299.5 1084.6 L1300.1 1079.5 L1300.8 1084.7 L1301.4 1079.5 L1302.0 1079.5 L1302.6 1084.9 L1302.9 1080.7 L1303.2 1092.5 L1303.9 1084.8 L1304.5 1091.4 L1305.1 1088.2 L1305.7 1086.7 L1306.3 1091.1 L1306.6 1091.2 L1307.0 1081.2 L1307.6 1094.4 L1308.2 1087.3 L1308.8 1083.9 L1309.4 1082.0 L1310.1 1087.0 L1310.4 1084.0 L1310.7 1085.8 L1311.3 1087.9 L1311.9 1082.0 L1312.5 1087.5 L1313.2 1083.6 L1313.8 1086.3 L1314.1 1090.9 L1314.4 1088.1 L1315.0 1097.6 L1315.6 1099.8 L1316.3 1102.7 L1316.9 1103.7 L1317.3 1105.4 L1317.5 1100.7 L1318.1 1095.7 L1318.7 1092.3 L1319.4 1084.1 L1320.0 1081.8 L1320.3 1079.0 L1320.6 1089.4 L1321.2 1087.1 L1321.8 1081.9 L1322.5 1080.8 L1322.8 1086.5 L1323.1 1083.4 L1323.7 1080.0 L1324.3 1078.7 L1324.9 1075.1 L1325.6 1078.9 L1326.2 1071.4 L1326.5 1074.5 L1326.8 1070.8 L1327.4 1072.5 L1328.0 1070.8 L1328.7 1079.8 L1329.3 1072.6 L1329.9 1072.8 L1330.2 1075.4 L1330.5 1078.2 L1331.1 1070.8 L1331.8 1074.8 L1332.4 1073.0 L1333.0 1079.6 L1333.6 1082.6 L1334.0 1082.3 L1334.2 1081.8 L1334.9 1087.2 L1335.5 1088.0 L1336.1 1095.6 L1336.7 1101.9 L1337.2 1098.1 L1337.3 1098.6 L1338.0 1098.0 L1338.6 1100.2 L1339.2 1086.0 L1339.8 1100.1 L1340.4 1097.5 L1341.1 1101.3 L1341.4 1097.8 L1341.7 1098.6 L1342.3 1098.5 L1342.9 1098.0 L1343.5 1089.7 L1344.2 1098.2 L1344.8 1094.8 L1345.2 1091.6 L1345.4 1096.8 L1346.0 1096.3 L1346.6 1088.3 L1347.3 1090.1 L1347.9 1097.4 L1348.5 1096.9 L1348.9 1093.7 L1349.1 1090.7 L1349.7 1092.3 L1350.4 1093.0 L1351.0 1088.7 L1351.6 1091.0 L1352.2 1084.5 L1352.6 1087.9 L1352.8 1090.0 L1353.5 1069.8 L1353.9 1062.5 L1354.1 1068.2 L1354.7 1070.1 L1355.3 1069.1 L1355.9 1074.4 L1356.3 1077.9 L1356.6 1083.8 L1357.2 1080.6 L1357.8 1073.8 L1358.4 1079.5 L1359.0 1081.3 L1359.7 1078.9 L1360.1 1080.6 L1360.3 1082.7 L1360.9 1077.1 L1361.5 1081.5 L1362.1 1078.6 L1362.8 1085.6 L1363.0 1089.0 L1363.4 1091.9 L1364.0 1083.5 L1364.6 1077.0 L1365.2 1081.7 L1365.9 1079.8 L1366.3 1083.8 L1366.5 1082.1 L1367.1 1083.0 L1367.7 1085.5 L1368.3 1083.5 L1369.0 1082.5 L1369.6 1086.2 L1370.0 1085.6 L1370.2 1083.8 L1370.8 1082.0 L1371.4 1085.5 L1372.1 1090.6 L1372.7 1084.2 L1373.3 1090.4 L1373.7 1092.0 L1373.9 1090.7 L1374.5 1091.2 L1375.2 1086.3 L1375.8 1092.5 L1376.4 1089.6 L1377.0 1085.7 L1377.5 1084.5 L1377.6 1084.5 L1378.3 1091.1 L1378.9 1098.0 L1379.5 1097.4 L1380.1 1103.0 L1380.4 1100.1 L1380.7 1100.4 L1381.4 1102.0 L1382.0 1103.1 L1382.6 1098.3 L1383.2 1102.2 L1383.8 1103.1 L1384.5 1093.6 L1384.9 1095.7 L1385.1 1096.8 L1385.7 1093.1 L1386.3 1090.3 L1386.9 1097.4 L1387.6 1093.9 L1388.2 1092.2 L1388.8 1100.3 L1389.4 1093.2 L1389.9 1093.0 L1390.0 1093.3 L1390.7 1090.2 L1391.3 1090.9 L1391.9 1092.1 L1392.5 1090.9 L1393.1 1092.1 L1393.8 1104.7 L1394.4 1094.8 L1394.8 1092.8 L1395.0 1093.4 L1395.6 1096.3 L1396.2 1100.6 L1396.9 1097.8 L1397.5 1103.6 L1398.1 1097.2 L1398.7 1101.5 L1399.3 1103.7 L1399.3 1103.3 L1400.0 1104.0 L1400.6 1105.0 L1401.2 1098.9 L1401.8 1101.2 L1402.4 1100.0 L1403.1 1097.6 L1403.5 1098.6 L1403.7 1099.6 L1404.3 1097.3 L1404.9 1103.4 L1405.5 1103.8 L1406.2 1100.2 L1406.8 1097.7 L1407.4 1096.9 L1408.0 1103.8 L1408.5 1100.4 L1408.6 1103.2 L1409.3 1102.2 L1409.9 1100.5 L1410.5 1100.2 L1411.1 1107.1 L1411.7 1109.2 L1412.4 1104.7 L1413.0 1106.8 L1413.5 1107.6 L1413.6 1108.5 L1414.2 1109.3 L1414.8 1102.8 L1415.5 1103.6 L1416.1 1099.0 L1416.7 1106.0 L1417.2 1099.3 L1417.3 1095.8 L1417.9 1098.5 L1418.6 1096.8 L1419.2 1100.1 L1419.8 1095.3 L1420.4 1103.1 L1420.9 1096.1 L1421.0 1100.2 L1421.7 1095.6 L1422.3 1098.2 L1422.9 1097.9 L1423.5 1094.8 L1424.1 1096.3 L1424.8 1095.6 L1425.4 1093.2 L1426.0 1097.8 L1426.6 1093.2 L1427.1 1098.0 L1427.2 1093.7 L1427.9 1096.4 L1428.5 1095.7 L1429.1 1096.6 L1429.7 1099.7 L1430.3 1099.3 L1431.0 1097.0 L1431.6 1099.8 L1432.1 1098.1 L1432.2 1097.8 L1432.8 1095.8 L1433.4 1103.4 L1434.1 1104.6 L1434.7 1103.5 L1435.3 1111.4 L1435.8 1106.2 L1435.9 1096.7 L1436.5 1111.5 L1437.2 1104.4 L1437.8 1115.9 L1438.3 1116.6 L1438.4 1109.1 L1439.0 1129.8 L1439.6 1143.2 L1440.1 1156.5 L1440.3 1159.0 L1440.9 1158.1 L1441.5 1153.3 L1442.1 1150.7 L1442.7 1129.1 L1443.3 1138.6 L1443.4 1144.0 L1444.0 1144.3 L1444.6 1140.0 L1445.2 1142.1 L1445.8 1147.2 L1446.5 1151.5 L1447.0 1148.6 L1447.1 1144.8 L1447.7 1145.6 L1448.3 1141.2 L1448.9 1140.1 L1449.6 1138.4 L1450.0 1139.8 L1450.2 1140.2 L1450.8 1147.8 L1451.4 1152.8 L1452.0 1163.3 L1452.5 1160.0 L1452.7 1164.0 L1453.3 1157.4 L1453.9 1155.0 L1454.5 1146.9 L1455.1 1139.4 L1455.7 1141.5 L1455.8 1140.6 L1456.4 1148.4 L1457.0 1140.9 L1457.6 1155.6 L1458.2 1150.7 L1458.9 1149.2 L1459.4 1149.4 L1459.5 1147.4 L1460.1 1147.0 L1460.7 1154.1 L1461.3 1154.1 L1462.0 1150.5 L1462.6 1147.3 L1463.2 1148.9 L1463.2 1146.7 L1463.8 1150.9 L1464.4 1153.2 L1465.1 1149.5 L1465.7 1142.9 L1466.3 1134.8 L1466.9 1143.9 L1466.9 1133.6 L1467.5 1142.8 L1468.2 1134.9 L1468.8 1136.2 L1469.4 1131.5 L1469.9 1127.9 L1470.0 1139.1 L1470.6 1132.6 L1471.3 1134.2 L1471.9 1133.8 L1472.5 1141.6 L1473.1 1138.5 L1473.1 1136.0 L1473.7 1135.2 L1474.4 1136.7 L1475.0 1148.1 L1475.6 1153.4 L1475.6 1147.0 L1476.2 1157.1 L1476.8 1156.4 L1477.5 1155.4 L1478.1 1157.6 L1478.1 1158.8 L1478.7 1155.5 L1479.3 1161.5 L1479.9 1149.9 L1480.6 1161.5 L1481.2 1159.0 L1481.8 1153.5 L1481.8 1154.6 L1482.4 1158.9 L1483.0 1159.7 L1483.7 1160.7 L1484.3 1159.3 L1484.9 1149.2 L1485.5 1159.0 L1486.1 1159.0 L1486.8 1158.5 L1486.8 1157.3 L1487.4 1151.3 L1488.0 1152.9 L1488.6 1147.8 L1489.2 1146.6 L1489.9 1148.2 L1490.5 1146.6 L1490.5 1148.3 L1491.1 1146.6 L1491.7 1150.4 L1492.3 1152.9 L1493.0 1151.1 L1493.6 1150.8 L1494.2 1162.0 L1494.2 1153.2 L1494.8 1152.3 L1495.4 1156.3 L1496.1 1162.9 L1496.7 1168.3 L1497.3 1162.0 L1497.9 1158.7 L1498.0 1159.6 L1498.5 1170.9 L1499.2 1182.1 L1499.8 1179.5 L1500.4 1182.4 L1500.4 1174.4 L1501.0 1179.6 L1501.6 1181.8 L1502.2 1182.7 L1502.3 1175.1 L1502.9 1177.2 L1503.5 1167.1 L1504.1 1158.6 L1504.2 1161.8 L1504.7 1161.8 L1505.4 1159.1 L1506.0 1168.9 L1506.6 1154.3 L1507.2 1175.5 L1507.8 1157.3 L1507.9 1153.9 L1508.5 1156.8 L1509.1 1148.6 L1509.7 1147.3 L1510.3 1152.9 L1510.9 1151.1 L1511.6 1151.7 L1512.2 1154.1 L1512.8 1153.1 L1512.9 1150.6 L1513.4 1152.0 L1514.0 1149.6 L1514.7 1151.9 L1515.3 1149.1 L1515.9 1146.8 L1516.5 1144.1 L1517.1 1146.9 L1517.8 1144.1 L1517.8 1146.2 L1518.4 1144.1 L1519.0 1148.7 L1519.6 1151.0 L1520.2 1144.1 L1520.9 1145.4 L1521.5 1147.3 L1522.1 1149.6 L1522.7 1150.4 L1522.8 1151.1 L1523.3 1153.6 L1524.0 1145.3 L1524.6 1159.8 L1525.2 1165.1 L1525.8 1168.4 L1526.4 1166.4 L1526.5 1167.5 L1527.1 1165.8 L1527.7 1169.7 L1528.3 1165.8 L1528.9 1164.6 L1529.5 1164.1 L1530.2 1163.7 L1530.2 1168.6 L1530.8 1165.0 L1531.4 1163.8 L1532.0 1161.5 L1532.6 1161.5 L1533.3 1161.5 L1533.9 1161.5 L1534.0 1163.7 L1534.5 1161.5 L1535.1 1166.3 L1535.7 1163.1 L1536.4 1164.8 L1537.0 1167.2 L1537.6 1167.1 L1537.7 1168.5 L1538.2 1166.3 L1538.8 1170.2 L1539.5 1171.4 L1540.1 1167.3 L1540.7 1159.1 L1541.3 1160.1 L1541.4 1158.2 L1541.9 1155.3 L1542.6 1152.6 L1543.2 1145.6 L1543.8 1141.7 L1544.4 1138.6 L1544.4 1147.5 L1545.0 1139.8 L1545.7 1138.8 L1546.3 1143.8 L1546.9 1142.1 L1547.5 1139.9 L1548.1 1137.9 L1548.8 1145.7 L1548.9 1141.8 L1549.4 1141.8 L1550.0 1135.0 L1550.6 1128.6 L1551.2 1127.0 L1551.9 1128.4 L1552.5 1125.9 L1552.6 1126.5 L1553.1 1124.2 L1553.7 1128.8 L1554.3 1137.2 L1555.0 1136.4 L1555.1 1144.8 L1555.6 1153.9 L1556.2 1154.0 L1556.8 1148.2 L1557.4 1145.4 L1558.1 1145.1 L1558.7 1135.7 L1558.8 1148.4 L1559.3 1146.8 L1559.9 1153.1 L1560.5 1153.4 L1561.2 1154.4 L1561.8 1151.9 L1562.4 1151.7 L1562.5 1154.3 L1563.0 1146.4 L1563.6 1146.6 L1564.3 1147.2 L1564.9 1156.5 L1565.5 1154.6 L1566.1 1153.9 L1566.3 1150.9 L1566.7 1154.4 L1567.4 1153.5 L1568.0 1156.2 L1568.6 1154.4 L1569.2 1159.6 L1569.8 1158.0 L1570.0 1164.4 L1570.5 1162.7 L1571.1 1162.2 L1571.7 1162.9 L1572.3 1164.0 L1572.9 1168.1 L1573.6 1164.8 L1573.7 1172.8 L1574.2 1167.6 L1574.8 1168.1 L1575.4 1176.8 L1576.0 1171.9 L1576.7 1180.1 L1577.3 1179.9 L1577.5 1177.8 L1577.9 1177.3 L1578.5 1181.0 L1579.1 1181.4 L1579.8 1180.0 L1579.9 1184.6 L1580.4 1182.1 L1581.0 1183.9 L1581.6 1180.5 L1582.2 1183.7 L1582.9 1178.7 L1583.5 1180.5 L1583.7 1181.8 L1584.1 1177.3 L1584.7 1174.3 L1585.3 1170.0 L1586.0 1173.5 L1586.6 1174.4 L1587.2 1170.0 L1587.4 1168.8 L1587.8 1172.8 L1588.4 1177.4 L1589.1 1169.4 L1589.7 1171.0 L1590.3 1170.6 L1590.9 1166.4 L1591.1 1173.5 L1591.5 1172.4 L1592.2 1176.4 L1592.8 1174.3 L1593.4 1173.3 L1594.0 1174.7 L1594.6 1174.5 L1594.8 1171.7 L1595.3 1171.9 L1595.9 1163.8 L1596.5 1170.8 L1597.1 1171.1 L1597.7 1175.3 L1598.4 1169.6 L1598.6 1162.6 L1599.0 1167.4 L1599.6 1163.1 L1600.2 1162.8 L1600.8 1156.9 L1601.5 1150.6 L1602.1 1147.6 L1602.3 1148.6 L1602.7 1147.5 L1603.3 1144.0 L1603.9 1137.5 L1604.6 1129.2 L1604.8 1137.7 L1605.2 1122.3 L1605.8 1123.0 L1606.4 1115.3 L1607.0 1102.3 L1607.3 1105.2 L1607.7 1108.4 L1608.3 1109.1 L1608.9 1116.8 L1609.5 1120.7 L1610.0 1117.2 L1610.1 1120.8 L1610.8 1114.9 L1611.4 1111.4 L1612.0 1101.8 L1612.5 1105.1 L1612.6 1104.3 L1613.2 1104.3 L1613.9 1106.7 L1614.5 1108.7 L1615.1 1105.6 L1615.7 1106.9 L1616.2 1116.6 L1616.3 1113.0 L1617.0 1113.8 L1617.6 1105.2 L1618.2 1108.8 L1618.8 1110.0 L1619.4 1110.8 L1619.9 1112.0 L1620.1 1112.8 L1620.7 1109.4 L1621.3 1119.1 L1621.9 1107.4 L1622.5 1110.9 L1623.2 1107.8 L1623.7 1110.6 L1623.8 1114.1 L1624.4 1112.0 L1625.0 1107.6 L1625.6 1106.0 L1626.3 1106.1 L1626.9 1104.8 L1627.4 1099.2 L1627.5 1105.7 L1628.1 1105.0 L1628.7 1109.7 L1629.4 1105.8 L1630.0 1099.0 L1630.6 1114.3 L1631.1 1111.5 L1631.2 1104.2 L1631.8 1100.1 L1632.5 1100.9 L1633.1 1109.2 L1633.7 1100.3 L1634.3 1086.7 L1634.8 1097.5 L1634.9 1095.7 L1635.6 1089.1 L1636.2 1093.4 L1636.8 1083.9 L1637.4 1090.6 L1638.0 1086.1 L1638.6 1087.3 L1638.7 1082.3 L1639.3 1098.4 L1639.9 1095.7 L1640.5 1081.1 L1641.1 1089.9 L1641.8 1081.6 L1642.3 1087.0 L1642.4 1084.6 L1643.0 1086.1 L1643.6 1090.6 L1644.2 1090.2 L1644.9 1087.3 L1645.5 1089.4 L1646.0 1083.6 L1646.1 1078.4 L1646.7 1081.2 L1647.3 1059.5 L1647.3 1055.9 L1648.0 1047.6 L1648.5 1034.7 L1648.6 1034.4 L1649.2 1036.2 L1649.8 1040.9 L1650.4 1048.8 L1651.0 1054.5 L1651.1 1050.7 L1651.7 1057.2 L1652.3 1056.7 L1652.9 1051.3 L1653.5 1058.7 L1654.2 1038.9 L1654.7 1059.5 L1654.8 1059.4 L1655.4 1055.4 L1656.0 1048.2 L1656.6 1050.5 L1657.3 1045.5 L1657.7 1046.0 L1657.9 1044.9 L1658.5 1046.2 L1659.1 1058.8 L1659.7 1065.5 L1660.4 1075.4 L1660.9 1074.4 L1661.0 1075.4 L1661.6 1071.2 L1662.2 1068.8 L1662.8 1062.0 L1663.5 1069.6 L1664.1 1055.6 L1664.7 1052.3 L1664.7 1060.7 L1665.3 1057.1 L1665.9 1069.1 L1666.6 1067.4 L1667.2 1073.4 L1667.8 1079.7 L1668.4 1082.9 L1668.4 1085.4 L1669.0 1078.8 L1669.7 1073.5 L1670.3 1079.8 L1670.9 1073.7 L1671.5 1072.5 L1672.1 1069.3 L1672.1 1077.2 L1672.8 1072.2 L1673.4 1068.9 L1674.0 1065.8 L1674.6 1064.9 L1675.1 1053.2 L1675.2 1059.0 L1675.9 1056.1 L1676.5 1059.8 L1677.1 1068.1 L1677.7 1070.7 L1678.3 1074.1 L1678.3 1077.3 L1679.0 1074.0 L1679.6 1065.6 L1680.2 1065.6 L1680.8 1060.0 L1680.8 1055.1 L1681.4 1051.9 L1682.1 1060.5 L1682.7 1045.2 L1683.3 1048.5 L1683.9 1051.9 L1684.5 1043.7 L1684.5 1042.9 L1685.2 1046.5 L1685.8 1049.1 L1686.4 1051.4 L1687.0 1045.8 L1687.6 1045.9 L1688.3 1054.1 L1688.9 1057.4 L1689.0 1052.0 L1689.5 1053.9 L1690.1 1060.1 L1690.7 1058.2 L1691.4 1062.7 L1692.0 1056.0 L1692.6 1062.8 L1693.2 1065.5 L1693.2 1064.4 L1693.8 1062.5 L1694.5 1061.4 L1695.1 1056.5 L1695.7 1056.5 L1696.3 1050.5 L1696.9 1050.0 L1697.0 1053.1 L1697.6 1054.2 L1698.2 1056.7 L1698.8 1049.8 L1699.4 1048.0 L1700.0 1054.6 L1700.7 1058.3 L1700.7 1057.5 L1701.3 1053.1 L1701.9 1040.1 L1702.5 1041.4 L1703.1 1030.7 L1703.8 1027.3 L1704.4 1051.6 L1704.4 1033.2 L1705.0 1035.6 L1705.6 1032.9 L1706.2 1036.2 L1706.9 1030.3 L1707.5 1032.9 L1708.1 1022.6 L1708.1 1024.7 L1708.7 1028.4 L1709.3 1022.5 L1710.0 1014.6 L1710.6 1009.6 L1710.6 1008.2 L1711.2 1019.9 L1711.8 1012.1 L1712.4 1008.4 L1713.1 1008.8 L1713.7 1001.0 L1714.3 1010.7 L1714.3 1006.3 L1714.9 1006.2 L1715.5 998.0 L1716.2 1000.5 L1716.8 1004.1 L1717.4 989.6 L1718.0 987.2 L1718.1 990.9 L1718.6 996.2 L1719.3 993.4 L1719.9 987.2 L1720.5 987.2 L1721.1 987.2 L1721.7 989.8 L1721.8 991.7 L1722.4 991.3 L1723.0 987.2 L1723.6 1005.0 L1724.2 994.6 L1724.8 993.6 L1725.5 988.5 L1725.5 992.2 L1726.1 993.4 L1726.7 1002.3 L1727.3 1006.1 L1727.9 1016.3 L1728.0 1016.7 L1728.6 1016.2 L1729.2 1002.6 L1729.8 1018.3 L1730.4 1029.6 L1731.0 1031.0 L1731.2 1032.0 L1731.7 1030.8 L1732.3 1021.9 L1732.9 1020.6 L1733.5 1006.3 L1734.1 1004.4 L1734.2 1009.5 L1734.8 1008.1 L1735.4 1004.9 L1736.0 1010.7 L1736.6 1000.9 L1736.7 1003.2 L1737.2 1009.9 L1737.9 1011.2 L1738.5 1012.6 L1739.1 1021.3 L1739.7 1031.4 L1740.3 1022.2 L1740.4 1021.7 L1741.0 1009.3 L1741.6 1025.9 L1742.2 1012.3 L1742.8 1037.1 L1743.4 1030.0 L1744.1 1039.4 L1744.2 1035.6 L1744.7 1034.3 L1745.3 1026.4 L1745.9 1027.3 L1746.5 1030.2 L1747.2 1034.2 L1747.8 1022.1 L1747.9 1031.0 L1748.4 1023.0 L1749.0 1023.2 L1749.6 1024.7 L1750.3 1022.6 L1750.9 1012.7 L1751.5 1026.2 L1751.6 1020.7 L1752.1 1013.8 L1752.7 1008.7 L1753.4 1004.4 L1754.0 1001.8 L1754.6 1010.0 L1755.2 1001.9 L1755.3 999.7 L1755.8 1000.8 L1756.5 1008.8 L1757.1 1003.6 L1757.7 1012.4 L1758.3 1010.9 L1758.9 1011.0 L1759.1 1006.6 L1759.6 1006.0 L1760.2 1005.1 L1760.8 1005.3 L1761.4 1008.8 L1762.0 1011.7 L1762.7 1015.3 L1762.8 1012.0 L1763.3 1014.9 L1763.9 1017.8 L1764.5 1015.4 L1765.1 1016.2 L1765.3 1023.3 L1765.8 1014.7 L1766.4 1008.8 L1767.0 999.1 L1767.6 989.7 L1767.8 992.1 L1768.2 987.8 L1768.9 984.5 L1769.5 978.5 L1769.5 981.1 L1770.1 987.0 L1770.7 990.2 L1771.3 998.8 L1772.0 1010.8 L1772.6 1009.7 L1772.7 1010.6 L1773.2 1010.8 L1773.8 1010.8 L1774.4 1008.4 L1775.1 1010.8 L1775.7 1008.8 L1776.3 1004.3 L1776.5 1003.0 L1776.9 1005.5 L1777.5 1005.0 L1778.2 1006.0 L1778.8 1010.8 L1778.9 1008.7 L1779.4 1000.9 L1780.0 999.4 L1780.6 990.6 L1780.9 982.3 L1781.3 978.9 L1781.9 999.2 L1782.5 989.2 L1783.1 998.3 L1783.7 988.6 L1783.9 991.8 L1784.4 997.6 L1785.0 1000.7 L1785.6 1014.1 L1785.9 1024.5 L1786.2 1022.1 L1786.8 1018.3 L1787.5 1024.8 L1788.1 1022.0 L1788.7 1020.0 L1789.3 1008.1 L1789.4 1007.8 L1789.9 1009.4 L1790.6 1005.8 L1791.2 1005.8 L1791.8 1012.0 L1792.4 1014.1 L1792.6 1011.5 L1793.0 1002.1 L1793.7 1010.2 L1794.3 1017.9 L1794.9 1021.2 L1795.1 1028.2 L1795.5 1021.8 L1796.1 1011.9 L1796.8 1008.4 L1797.4 995.4 L1797.6 997.2 L1798.0 990.7 L1798.6 1001.4 L1799.2 990.9 L1799.9 981.4 L1800.5 977.5 L1800.8 978.6 L1801.1 969.0 L1801.7 962.6 L1802.3 949.1 L1802.5 949.4 L1803.0 945.7 L1803.6 945.5 L1804.2 935.0 L1804.8 940.4 L1805.4 942.0 L1806.1 937.7 L1806.3 938.0 L1806.7 937.3 L1807.3 950.1 L1807.9 951.6 L1808.5 956.6 L1808.8 956.7 L1809.2 957.9 L1809.8 969.1 L1810.4 973.6 L1811.0 973.6 L1811.6 973.6 L1811.7 971.3 L1812.3 969.6 L1812.9 964.9 L1813.5 971.2 L1814.1 966.3 L1814.7 963.1 L1815.0 962.8 L1815.4 960.1 L1816.0 955.0 L1816.6 949.9 L1817.2 957.6 L1817.5 949.9 L1817.8 953.4 L1818.5 961.8 L1819.1 962.7 L1819.7 959.7 L1820.3 964.2 L1820.7 962.4 L1820.9 962.2 L1821.6 960.2 L1822.2 976.4 L1822.8 968.1 L1823.4 981.0 L1823.7 978.2 L1824.0 978.0 L1824.7 978.1 L1825.3 980.2 L1825.9 980.9 L1826.5 982.9 L1827.1 979.5 L1827.4 974.8 L1827.8 972.6 L1828.4 982.7 L1829.0 982.4 L1829.6 985.1 L1829.9 986.5 L1830.2 992.6 L1830.9 998.9 L1831.5 1006.6 L1832.1 1012.2 L1832.4 1009.4 L1832.7 1017.7 L1833.3 1010.6 L1834.0 1015.4 L1834.6 1027.1 L1834.8 1022.8 L1835.2 1020.7 L1835.8 1026.3 L1836.4 1016.2 L1837.1 1028.2 L1837.7 1009.4 L1838.3 1027.0 L1838.6 1024.4 L1838.9 1025.1 L1839.5 1021.7 L1840.2 1020.1 L1840.8 1014.3 L1841.4 1020.6 L1842.0 1012.5 L1842.3 1014.1 L1842.6 1020.3 L1843.3 1008.9 L1843.9 1010.5 L1844.5 1011.7 L1845.1 1004.1 L1845.7 1010.9 L1846.0 1005.5 L1846.4 996.5 L1847.0 1002.3 L1847.6 1003.3 L1848.2 1004.1 L1848.8 1009.1 L1849.5 1009.1 L1849.8 1012.5 L1850.1 1007.8 L1850.7 1010.3 L1851.3 997.5 L1851.9 993.4 L1852.2 991.1 L1852.6 992.3 L1853.2 996.4 L1853.8 1007.2 L1854.4 1011.6 L1855.0 1013.3 L1855.7 1013.3 L1856.0 1010.9 L1856.3 1007.4 L1856.9 1010.1 L1857.5 1006.3 L1858.1 1013.1 L1858.8 1011.2 L1859.4 1002.1 L1859.7 1000.6 L1860.0 1007.7 L1860.6 1005.5 L1861.2 1004.4 L1861.9 1010.6 L1862.5 1006.3 L1863.1 1008.3 L1863.4 1004.7 L1863.7 995.0 L1864.3 1007.5 L1865.0 1000.2 L1865.6 992.5 L1866.2 1001.9 L1866.8 1006.2 L1867.1 1000.9 L1867.4 998.5 L1868.1 989.4 L1868.7 993.2 L1869.3 986.2 L1869.9 991.3 L1870.5 985.8 L1870.9 983.2 L1871.2 989.6 L1871.8 984.9 L1872.4 984.2 L1873.0 979.8 L1873.6 975.3 L1874.3 976.6 L1874.6 972.0 L1874.9 975.8 L1875.5 972.5 L1876.1 970.6 L1876.7 972.8 L1877.4 968.5 L1878.0 962.8 L1878.3 962.6 L1878.6 959.9 L1879.2 968.6 L1879.8 961.9 L1880.5 969.3 L1881.1 968.5 L1881.7 964.1 L1882.1 967.2 L1882.3 963.4 L1882.9 961.9 L1883.6 951.9 L1884.2 942.0 L1884.5 940.0 L1884.8 961.7 L1885.4 937.4 L1886.0 947.2 L1886.7 942.2 L1887.3 941.6 L1887.8 945.4 L1887.9 941.8 L1888.5 935.1 L1889.1 930.3 L1889.8 920.9 L1890.2 916.0 L1890.4 911.4 L1891.0 911.4 L1891.6 911.8 L1892.2 911.4 L1892.9 918.3 L1893.5 913.1 L1893.7 918.2 L1894.1 918.6 L1894.7 919.4 L1895.3 922.7 L1896.0 926.5 L1896.6 928.8 L1897.0 928.1 L1897.2 928.8 L1897.8 928.8 L1898.4 920.1 L1899.1 918.3 L1899.4 908.3 L1899.7 904.2 L1900.3 912.7 L1900.9 911.7 L1901.5 900.5 L1902.2 897.5 L1902.7 895.9 L1902.8 894.3 L1903.4 899.4 L1904.0 886.6 L1904.6 893.6 L1905.3 898.7 L1905.7 888.9 L1905.9 889.6 L1906.5 893.5 L1907.1 900.6 L1907.7 888.4 L1908.4 896.0 L1909.0 896.2 L1909.4 901.3 L1909.6 900.4 L1910.2 900.3 L1910.8 894.4 L1911.5 895.7 L1912.1 892.6 L1912.6 891.8 L1912.7 897.4 L1913.3 896.0 L1913.9 887.9 L1914.6 897.6 L1915.2 889.4 L1915.6 890.0 L1915.8 895.4 L1916.4 880.9 L1917.0 868.8 L1917.7 871.0 L1918.3 868.0 L1918.6 862.2 L1918.9 847.4 L1919.5 859.4 L1920.1 863.6 L1920.8 844.6 L1921.4 850.8 L1921.8 845.8 L1922.0 842.6 L1922.6 835.4 L1923.2 845.2 L1923.9 829.7 L1924.5 832.8 L1925.0 823.8 L1925.1 822.1 L1925.7 826.4 L1926.3 832.6 L1927.0 835.7 L1927.6 838.3 L1928.0 835.4 L1928.2 836.4 L1928.8 836.9 L1929.4 836.1 L1930.1 827.2 L1930.7 827.3 L1931.3 831.9 L1931.7 826.8 L1931.9 826.3 L1932.5 819.1 L1933.2 819.4 L1933.8 816.3 L1934.4 815.4 L1935.0 805.4 L1935.0 815.7 L1935.6 802.9 L1936.3 811.6 L1936.9 800.1 L1937.5 794.2 L1937.5 794.5 L1938.1 823.8 L1938.4 852.1 L1938.7 842.6 L1939.4 824.7 L1939.9 788.9 L1940.0 798.0 L1940.6 785.4 L1941.2 783.5 L1941.7 781.4 L1941.8 783.1 L1942.5 778.5 L1943.1 781.0 L1943.7 775.2 L1944.3 767.8 L1944.9 773.3 L1945.4 770.0 L1945.6 767.9 L1946.2 771.7 L1946.8 772.7 L1947.4 768.6 L1948.0 767.3 L1948.7 770.9 L1949.1 773.0 L1949.3 770.0 L1949.9 771.3 L1950.5 771.5 L1951.1 773.5 L1951.6 781.9 L1951.8 774.9 L1952.4 769.6 L1953.0 777.8 L1953.6 763.0 L1954.1 761.3 L1954.2 756.6 L1954.9 755.4 L1955.5 760.3 L1956.1 761.8 L1956.6 757.2 L1956.7 759.8 L1957.3 760.5 L1958.0 759.6 L1958.6 769.8 L1959.2 779.6 L1959.8 774.6 L1960.3 763.5 L1960.4 763.7 L1961.1 772.3 L1961.7 772.0 L1962.3 784.6 L1962.8 784.8 L1962.9 796.5 L1963.5 789.2 L1964.2 792.2 L1964.8 799.9 L1965.4 803.4 L1966.0 804.3 L1966.5 804.9 L1966.6 805.6 L1967.3 814.5 L1967.9 819.2 L1968.5 819.1 L1969.0 822.2 L1969.1 818.8 L1969.7 817.4 L1970.4 823.9 L1971.0 835.3 L1971.5 832.8 L1971.6 841.7 L1972.2 852.5 L1972.8 856.7 L1973.5 869.7 L1974.0 874.2 L1974.1 865.1 L1974.7 847.5 L1975.3 826.9 L1975.7 816.9 L1975.9 813.0 L1976.6 817.1 L1977.2 813.6 L1977.8 824.3 L1978.4 819.2 L1978.9 820.4 L1979.0 824.0 L1979.7 829.3 L1980.3 842.8 L1980.9 845.2 L1981.4 851.3 L1981.5 851.8 L1982.1 848.3 L1982.8 844.1 L1983.4 821.2 L1984.0 839.4 L1984.6 834.0 L1985.2 831.9 L1985.2 832.0 L1985.9 835.5 L1986.5 825.7 L1987.1 813.4 L1987.6 814.4 L1987.7 812.1 L1988.3 811.6 L1989.0 810.6 L1989.6 802.1 L1990.1 804.5 L1990.2 811.7 L1990.8 802.1 L1991.4 804.2 L1992.1 803.9 L1992.7 802.8 L1993.3 816.7 L1993.9 817.3 L1993.9 815.9 L1994.5 822.0 L1995.2 822.0 L1995.8 812.1 L1996.4 821.5 L1997.0 822.0 L1997.6 820.5 L1997.6 822.0 L1998.3 822.0 L1998.9 822.0 L1999.5 822.0 L2000.1 819.6 L2000.7 822.0 L2001.3 816.9 L2001.4 820.6 L2002.0 819.5 L2002.6 821.7 L2003.2 814.1 L2003.8 806.4 L2003.8 806.0 L2004.5 813.5 L2005.1 815.2 L2005.7 827.7 L2006.3 827.6 L2006.3 820.6 L2006.9 833.0 L2007.6 839.2 L2008.2 843.3 L2008.8 848.0 L2008.8 853.7 L2009.4 845.7 L2010.0 844.0 L2010.7 854.3 L2011.3 849.3 L2011.9 854.3 L2012.5 853.1 L2012.5 852.9 L2013.1 844.6 L2013.8 844.5 L2014.4 839.3 L2015.0 840.2 L2015.6 832.4 L2016.2 838.7 L2016.2 840.0 L2016.9 834.0 L2017.5 836.6 L2018.1 830.3 L2018.7 828.2 L2019.3 831.5 L2019.9 832.9 L2020.0 836.8 L2020.6 825.3 L2021.2 825.6 L2021.8 818.4 L2022.4 816.0 L2022.4 816.8 L2023.1 809.7 L2023.7 807.8 L2024.3 795.9 L2024.4 797.5 L2024.9 795.9 L2025.5 804.4 L2026.2 807.5 L2026.8 809.2 L2027.4 811.5 L2027.4 813.9 L2028.0 809.3 L2028.6 809.2 L2029.3 820.1 L2029.9 821.3 L2029.9 820.5 L2030.5 820.7 L2031.1 831.5 L2031.7 842.0 L2032.4 846.4 L2032.4 846.4 L2033.0 847.3 L2033.6 859.7 L2034.2 857.9 L2034.8 871.0 L2034.8 864.2 L2035.5 878.6 L2036.1 885.7 L2036.7 895.3 L2036.8 901.4 L2037.3 894.7 L2037.9 881.5 L2038.6 876.6 L2039.2 864.6 L2039.3 859.2 L2039.8 858.2 L2040.4 869.6 L2041.0 873.7 L2041.7 888.2 L2042.3 889.2 L2042.3 889.4 L2042.9 885.1 L2043.5 877.8 L2044.1 882.2 L2044.8 878.7 L2044.8 879.7 L2045.4 883.3 L2046.0 883.4 L2046.6 887.6 L2047.2 903.6 L2047.8 900.8 L2047.9 904.0 L2048.5 895.1 L2049.1 886.0 L2049.7 879.3 L2050.2 874.9 L2050.3 882.7 L2051.0 866.9 L2051.6 874.9 L2052.2 874.4 L2052.8 872.8 L2053.4 869.9 L2053.5 868.6 L2054.1 870.8 L2054.7 860.4 L2055.3 861.9 L2055.9 863.2 L2056.5 862.5 L2057.2 863.0 L2057.2 863.4 L2057.8 862.2 L2058.4 863.7 L2059.0 863.9 L2059.6 851.8 L2060.3 859.2 L2060.9 856.0 L2060.9 855.3 L2061.5 857.1 L2062.1 857.9 L2062.7 867.9 L2063.4 870.6 L2064.0 855.3 L2064.6 876.7 L2064.7 870.4 L2065.2 873.5 L2065.8 876.7 L2066.5 871.8 L2067.1 870.6 L2067.7 876.7 L2068.3 870.0 L2068.4 869.9 L2068.9 870.1 L2069.6 856.2 L2070.2 856.3 L2070.8 851.6 L2071.4 854.1 L2071.6 842.4 L2072.0 841.8 L2072.7 850.6 L2073.3 852.0 L2073.9 862.5 L2074.5 862.0 L2074.6 859.2 L2075.1 869.0 L2075.8 881.0 L2076.4 889.1 L2077.0 896.6 L2077.1 896.5 L2077.6 895.3 L2078.2 902.8 L2078.9 908.1 L2079.1 910.4 L2079.5 904.2 L2080.1 896.8 L2080.7 904.9 L2081.3 903.9 L2082.0 891.3 L2082.1 892.9 L2082.6 888.6 L2083.2 891.8 L2083.8 885.9 L2084.4 883.1 L2085.1 878.1 L2085.7 874.8 L2085.8 870.9 L2086.3 871.6 L2086.9 864.4 L2087.5 870.1 L2088.2 866.4 L2088.8 866.3 L2089.4 861.4 L2090.0 862.1 L2090.0 859.2 L2090.6 867.9 L2091.3 867.6 L2091.9 871.1 L2092.5 871.7 L2093.1 873.6 L2093.2 871.1 L2093.7 873.4 L2094.4 869.5 L2095.0 886.4 L2095.6 875.3 L2096.2 877.8 L2096.8 876.9 L2097.0 885.4 L2097.5 877.5 L2098.1 883.2 L2098.7 880.1 L2099.3 875.0 L2099.9 881.9 L2100.6 887.5 L2100.7 885.8 L2101.2 887.7 L2101.8 886.3 L2102.4 891.4 L2103.0 893.6 L2103.7 888.9 L2103.9 901.9 L2104.3 900.7 L2104.9 899.9 L2105.5 899.5 L2106.1 900.9 L2106.8 907.9 L2107.4 899.1 L2108.0 900.9 L2108.1 905.9 L2108.6 904.0 L2109.2 909.0 L2109.9 898.0 L2110.5 906.6 L2111.1 909.0 L2111.7 902.1 L2111.9 906.0 L2112.3 907.2 L2113.0 896.0 L2113.6 899.2 L2114.2 895.4 L2114.8 904.2 L2115.4 904.0 L2115.6 898.1 L2116.1 885.4 L2116.7 895.8 L2117.3 885.9 L2117.9 887.7 L2118.5 893.2 L2118.8 883.2 L2119.2 880.0 L2119.8 886.4 L2120.4 884.9 L2121.0 869.2 L2121.6 868.0 L2121.8 873.2 L2122.3 868.4 L2122.9 865.5 L2123.5 872.3 L2124.1 873.7 L2124.7 875.7 L2125.4 876.0 L2125.5 875.8 L2126.0 852.4 L2126.6 843.9 L2127.2 819.5 L2127.3 815.7 L2127.8 812.0 L2128.5 808.6 L2129.1 796.3 L2129.3 789.9 L2129.7 794.7 L2130.3 794.9 L2130.9 798.1 L2131.6 797.4 L2132.2 793.9 L2132.8 801.9 L2133.0 796.7 L2133.4 788.6 L2134.0 786.8 L2134.7 774.8 L2134.7 777.4 L2135.3 776.0 L2135.9 778.4 L2136.5 793.4 L2137.1 797.1 L2137.2 795.9 L2137.8 792.6 L2138.4 797.2 L2139.0 797.2 L2139.6 789.8 L2140.2 788.1 L2140.4 784.4 L2140.9 781.4 L2141.5 774.8 L2142.1 777.0 L2142.7 770.2 L2143.3 780.3 L2144.0 773.6 L2144.2 771.8 L2144.6 779.5 L2145.2 775.8 L2145.8 781.5 L2146.4 775.6 L2147.1 778.9 L2147.7 780.3 L2147.9 781.1 L2148.3 784.1 L2148.9 785.0 L2149.5 785.1 L2150.2 793.5 L2150.4 793.7 L2150.8 791.3 L2151.4 791.2 L2152.0 782.3 L2152.6 788.1 L2153.3 785.2 L2153.9 783.9 L2154.1 787.0 L2154.5 787.8 L2155.1 784.7 L2155.7 784.7 L2156.4 784.7 L2157.0 787.3 L2157.6 784.7 L2158.2 788.2 L2158.8 790.9 L2159.1 788.5 L2159.5 789.8 L2160.1 787.9 L2160.7 786.0 L2161.3 789.4 L2161.9 789.1 L2162.6 781.1 L2163.2 788.4 L2163.8 790.9 L2164.0 789.1 L2164.4 780.3 L2165.0 779.9 L2165.7 777.5 L2166.3 782.6 L2166.9 780.2 L2167.5 781.3 L2167.8 780.7 L2168.1 778.7 L2168.8 786.0 L2169.4 787.3 L2170.0 786.1 L2170.6 787.6 L2171.2 777.3 L2171.5 786.8 L2171.9 780.9 L2172.5 779.8 L2173.1 788.7 L2173.7 790.9 L2174.3 792.2 L2175.0 795.4 L2175.2 798.6 L2175.6 801.7 L2176.2 798.1 L2176.8 810.9 L2177.4 793.3 L2178.1 793.9 L2178.7 798.2 L2178.9 800.5 L2179.3 797.0 L2179.9 807.1 L2180.5 816.3 L2181.2 816.1 L2181.8 824.5 L2182.4 819.9 L2182.7 819.4 L2183.0 814.6 L2183.6 819.9 L2184.3 831.6 L2184.9 830.8 L2185.2 826.5 L2185.5 831.4 L2186.1 829.0 L2186.7 826.2 L2187.4 828.8 L2188.0 833.2 L2188.4 834.4 L2188.6 835.0 L2189.2 828.7 L2189.8 824.2 L2190.5 822.9 L2191.1 815.3 L2191.4 818.6 L2191.7 804.6 L2192.3 811.7 L2192.9 812.2 L2193.6 809.7 L2193.9 806.6 L2194.2 812.2 L2194.8 821.2 L2195.4 820.6 L2196.0 827.9 L2196.7 830.8 L2196.8 831.2 L2197.3 834.4 L2197.9 834.4 L2198.5 820.0 L2199.1 818.8 L2199.8 820.9 L2200.1 819.6 L2200.4 821.7 L2201.0 817.3 L2201.6 811.5 L2202.2 820.1 L2202.9 814.9 L2203.3 812.6 L2203.5 809.5 L2204.1 811.2 L2204.7 812.2 L2205.3 814.7 L2206.0 809.5 L2206.3 818.1 L2206.6 815.4 L2207.2 813.4 L2207.8 816.7 L2208.4 819.3 L2209.1 826.8 L2209.7 813.1 L2210.0 823.8 L2210.3 817.6 L2210.9 827.2 L2211.5 832.7 L2212.2 831.5 L2212.5 838.8 L2212.8 831.6 L2213.4 837.8 L2214.0 847.6 L2214.6 851.6 L2215.0 850.5 L2215.3 844.3 L2215.9 848.3 L2216.5 839.8 L2217.1 835.2 L2217.7 852.4 L2218.2 833.9 L2218.4 840.1 L2219.0 836.2 L2219.6 835.4 L2220.2 828.7 L2220.8 831.8 L2221.5 826.9 L2222.1 834.6 L2222.4 831.0 L2222.7 839.4 L2223.3 832.4 L2223.9 830.9 L2224.6 831.6 L2225.2 834.1 L2225.8 832.6 L2226.1 836.1 L2226.4 831.2 L2227.0 819.5 L2227.7 826.8 L2228.3 829.5 L2228.9 829.6 L2229.5 819.5 L2229.9 819.9 L2230.1 824.1 L2230.8 819.5 L2231.4 829.9 L2232.0 825.4 L2232.6 822.8 L2233.2 834.0 L2233.6 833.7 L2233.9 825.1 L2234.5 842.4 L2235.1 841.5 L2235.7 849.8 L2236.1 847.1 L2236.3 844.1 L2237.0 855.3 L2237.6 861.8 L2238.2 870.4 L2238.6 870.1 L2238.8 872.3 L2239.4 880.5 L2240.1 890.1 L2240.7 901.9 L2241.1 906.3 L2241.3 906.5 L2241.9 891.1 L2242.5 897.0 L2243.2 896.0 L2243.8 904.0 L2244.4 894.7 L2244.8 883.0 L2245.0 889.1 L2245.6 878.4 L2246.3 881.7 L2246.9 875.9 L2247.5 888.0 L2248.1 887.4 L2248.7 875.8 L2249.4 880.9 L2250.0 882.3 L2250.0 878.9 L2250.6 878.3 L2251.2 870.9 L2251.8 871.9 L2252.5 872.7 L2253.1 882.5 L2253.7 865.3 L2253.7 867.7 L2254.3 870.3 L2254.9 858.5 L2255.6 868.5 L2256.2 866.6 L2256.8 869.2 L2257.4 870.5 L2257.5 865.7 L2258.0 868.8 L2258.7 859.7 L2259.3 859.7 L2259.9 859.9 L2260.5 862.5 L2261.1 862.8 L2261.2 860.6 L2261.8 854.7 L2262.4 863.6 L2263.0 850.3 L2263.6 843.2 L2264.2 840.9 L2264.9 834.7 L2264.9 838.0 L2265.5 829.1 L2266.1 832.0 L2266.7 822.0 L2267.3 828.2 L2267.4 823.5 L2268.0 826.4 L2268.6 821.2 L2269.2 820.5 L2269.8 826.0 L2270.4 819.5 L2271.1 826.0 L2271.1 826.8 L2271.7 829.1 L2272.3 829.5 L2272.9 829.5 L2273.5 822.5 L2274.2 827.5 L2274.8 821.2 L2274.8 821.4 L2275.4 821.6 L2276.0 821.1 L2276.6 828.6 L2277.3 816.6 L2277.9 822.0 L2278.5 820.4 L2278.6 817.8 L2279.1 815.2 L2279.7 821.2 L2280.4 816.4 L2281.0 817.1 L2281.6 817.9 L2282.2 814.5 L2282.3 815.6 L2282.8 814.5 L2283.5 817.2 L2284.1 814.5 L2284.7 818.1 L2285.3 819.9 L2285.9 815.2 L2286.0 824.4 L2286.6 830.7 L2287.2 831.1 L2287.8 827.1 L2288.4 830.8 L2288.5 829.9 L2289.0 848.7 L2289.7 862.4 L2289.8 866.1 L2290.3 866.7 L2290.9 866.7 L2291.5 860.9 L2292.1 866.7 L2292.2 856.2 L2292.8 842.6 L2293.4 848.6 L2294.0 848.2 L2294.6 841.6 L2294.7 845.8 L2295.2 841.7 L2295.9 840.3 L2296.5 847.4 L2297.1 843.5 L2297.2 848.6 L2297.7 843.5 L2298.3 847.5 L2299.0 840.8 L2299.6 835.6 L2300.2 839.2 L2300.8 835.6 L2300.9 838.3 L2301.4 840.2 L2302.1 845.0 L2302.7 843.0 L2303.3 839.5 L2303.9 839.4 L2304.2 841.7 L2304.5 846.8 L2305.2 842.4 L2305.8 848.2 L2306.4 846.7 L2307.0 841.1 L2307.1 850.4 L2307.6 853.5 L2308.3 858.7 L2308.9 862.0 L2309.5 884.0 L2309.6 870.2 L2310.1 867.4 L2310.7 882.7 L2311.4 881.0 L2312.0 883.8 L2312.1 890.4 L2312.6 878.6 L2313.2 892.8 L2313.8 889.6 L2314.5 900.9 L2314.6 903.9 L2315.1 902.7 L2315.7 906.1 L2316.3 913.3 L2316.6 918.3 L2316.9 947.2 L2317.6 992.1 L2317.6 989.7 L2318.2 1013.3 L2318.3 1021.5 L2318.8 1015.1 L2319.4 995.7 L2320.0 983.0 L2320.7 978.6 L2320.8 962.5 L2321.3 975.2 L2321.9 977.5 L2322.5 987.4 L2323.1 988.4 L2323.3 998.3 L2323.8 993.7 L2324.4 983.0 L2325.0 969.2 L2325.0 960.7 L2325.6 954.0 L2326.2 944.1 L2326.5 934.0 L2326.9 940.0 L2327.5 938.9 L2328.1 946.1 L2328.7 947.0 L2329.3 938.1 L2329.5 954.4 L2330.0 946.7 L2330.6 941.8 L2331.2 950.0 L2331.8 941.4 L2332.4 938.7 L2333.1 942.8 L2333.2 940.7 L2333.7 944.9 L2334.3 959.4 L2334.9 960.3 L2335.5 960.3 L2335.7 961.8 L2336.2 949.7 L2336.8 957.0 L2337.4 935.7 L2337.5 932.8 L2338.0 926.3 L2338.6 931.6 L2339.3 946.9 L2339.9 936.2 L2340.5 926.3 L2340.7 930.1 L2341.1 930.1 L2341.7 937.0 L2342.4 937.2 L2343.0 940.6 L2343.2 959.3 L2343.6 961.6 L2344.2 953.0 L2344.8 948.4 L2345.5 952.6 L2346.1 954.1 L2346.7 946.3 L2346.9 947.5 L2347.3 945.0 L2347.9 947.0 L2348.6 945.9 L2349.2 948.5 L2349.8 954.5 L2350.4 940.4 L2350.6 943.0 L2351.0 938.7 L2351.7 944.3 L2352.3 950.5 L2352.9 950.9 L2353.5 951.9 L2354.1 948.5 L2354.3 956.0 L2354.8 947.0 L2355.4 958.6 L2356.0 945.7 L2356.6 947.0 L2357.2 941.9 L2357.9 938.1 L2358.1 941.7 L2358.5 942.2 L2359.1 939.6 L2359.7 948.5 L2360.3 946.0 L2360.6 950.2 L2361.0 953.7 L2361.6 939.1 L2362.2 929.2 L2362.8 931.2 L2363.0 920.7 L2363.4 920.5 L2364.1 925.2 L2364.7 917.5 L2365.3 924.8 L2365.5 918.7 L2365.9 928.4 L2366.5 931.3 L2367.2 924.2 L2367.8 924.2 L2368.4 916.4 L2369.0 924.0 L2369.3 928.8 L2369.6 930.3 L2370.3 939.1 L2370.9 934.4 L2371.5 939.2 L2371.7 942.2 L2372.1 964.2 L2372.7 973.5 L2373.0 979.3 L2373.4 976.3 L2374.0 976.1 L2374.6 958.6 L2375.2 957.1 L2375.5 958.1 L2375.8 954.5 L2376.5 958.3 L2377.1 964.7 L2377.7 958.0 L2378.3 962.6 L2378.9 968.5 L2379.2 968.6 L2379.6 969.6 L2380.2 970.0 L2380.8 973.6 L2381.4 974.6 L2382.0 976.0 L2382.7 976.0 L2382.9 974.2 L2383.3 963.9 L2383.9 976.0 L2384.5 970.3 L2385.1 958.6 L2385.4 958.7 L2385.8 962.1 L2386.4 964.7 L2387.0 958.6 L2387.6 960.4 L2388.2 974.9 L2388.9 965.2 L2389.1 962.6 L2389.5 964.3 L2390.1 969.7 L2390.7 987.0 L2391.3 993.8 L2391.6 994.1 L2392.0 984.9 L2392.6 986.7 L2393.2 992.9 L2393.8 985.9 L2394.4 973.5 L2395.1 983.1 L2395.3 986.9 L2395.7 989.2 L2396.3 998.7 L2396.9 1005.4 L2397.1 1010.5 L2397.5 1026.3 L2398.2 1019.6 L2398.6 1028.0 L2398.8 1030.7 L2399.4 1024.1 L2400.0 1017.4 L2400.6 1009.4 L2401.3 1014.2 L2401.6 1011.5 L2401.9 1011.2 L2402.5 1002.8 L2403.1 999.6 L2403.7 988.4 L2404.0 990.8 L2404.4 988.8 L2405.0 994.7 L2405.6 1000.5 L2406.2 1005.2 L2406.8 1001.7 L2407.5 1010.8 L2407.8 1008.8 L2408.1 1004.8 L2408.7 1001.4 L2409.3 989.8 L2409.9 992.2 L2410.2 988.9 L2410.6 990.8 L2411.2 1000.2 L2411.8 996.3 L2412.4 1000.8 L2412.7 1001.5 L2413.0 994.4 L2413.7 980.9 L2414.3 973.5 L2414.5 975.5 L2414.9 978.3 L2415.5 973.7 L2416.1 976.0 L2416.8 978.2 L2417.4 982.1 L2417.7 981.4 L2418.0 987.5 L2418.6 1013.3 L2419.2 1001.0 L2419.9 1005.6 L2420.2 1009.2 L2420.5 1003.1 L2421.1 1002.4 L2421.7 1005.3 L2422.3 1005.1 L2423.0 1004.2 L2423.6 1002.9 L2423.9 1003.5 L2424.2 1003.9 L2424.8 1002.2 L2425.4 1004.0 L2426.1 1001.0 L2426.7 998.1 L2427.3 1004.9 L2427.6 1003.3 L2427.9 995.4 L2428.5 984.6 L2429.2 986.8 L2429.4 976.3 L2429.8 970.4 L2430.4 969.0 L2431.0 953.1 L2431.4 956.1 L2431.6 959.8 L2432.3 953.8 L2432.9 955.5 L2433.5 956.0 L2434.1 953.4 L2434.7 955.4 L2435.1 951.3 L2435.4 949.8 L2436.0 949.8 L2436.6 948.0 L2437.2 941.8 L2437.8 939.9 L2438.5 936.3 L2438.8 940.3 L2439.1 952.5 L2439.7 951.3 L2440.3 945.6 L2440.9 944.8 L2441.6 952.4 L2441.8 952.9 L2442.2 958.6 L2442.8 952.0 L2443.4 958.6 L2444.0 958.6 L2444.7 945.4 L2445.0 956.8 L2445.3 951.6 L2445.9 945.2 L2446.5 944.9 L2447.1 941.9 L2447.5 944.3 L2447.8 938.7 L2448.4 948.5 L2449.0 949.7 L2449.6 942.7 L2450.2 938.4 L2450.7 933.5 L2450.9 932.6 L2451.5 939.9 L2452.1 930.0 L2452.7 942.0 L2453.3 950.2 L2453.7 941.7 L2454.0 956.9 L2454.6 946.2 L2455.2 936.1 L2455.8 939.2 L2456.4 942.6 L2457.1 943.0 L2457.5 946.9 L2457.7 947.6 L2458.3 953.2 L2458.9 964.6 L2459.5 965.7 L2460.2 964.8 L2460.7 969.6 L2460.8 975.4 L2461.4 974.4 L2462.0 986.5 L2462.4 986.6 L2462.6 992.5 L2463.3 999.3 L2463.9 999.8 L2464.5 991.6 L2464.9 1000.1 L2465.1 996.3 L2465.7 1002.6 L2466.4 997.7 L2467.0 1003.4 L2467.6 982.8 L2468.1 992.7 L2468.2 991.4 L2468.8 995.0 L2469.5 991.8 L2470.1 984.1 L2470.7 991.7 L2471.1 984.5 L2471.3 988.7 L2471.9 986.4 L2472.6 972.1 L2473.1 967.3 L2473.2 963.6 L2473.8 966.9 L2474.4 964.3 L2475.0 968.8 L2475.7 972.0 L2476.1 974.0 L2476.3 982.8 L2476.9 969.5 L2477.5 964.6 L2478.1 978.4 L2478.8 988.2 L2479.1 985.4 L2479.4 986.2 L2480.0 984.7 L2480.6 991.4 L2481.2 993.2 L2481.9 991.8 L2482.3 996.2 L2482.5 989.3 L2483.1 994.5 L2483.7 998.4 L2484.3 984.9 L2484.8 984.7 L2485.0 974.9 L2485.6 974.5 L2486.2 975.1 L2486.8 978.7 L2487.4 979.7 L2488.1 977.1 L2488.5 975.9 L2488.7 975.0 L2489.3 968.4 L2489.9 961.5 L2490.5 958.7 L2491.0 965.0 L2491.2 949.0 L2491.8 953.5 L2492.4 959.7 L2493.0 951.9 L2493.5 947.2 L2493.6 947.2 L2494.3 948.3 L2494.9 948.4 L2495.5 941.5 L2496.1 947.4 L2496.7 942.7 L2497.2 946.8 L2497.4 949.5 L2498.0 939.9 L2498.6 939.5 L2499.2 942.6 L2499.8 946.7 L2500.5 945.1 L2500.9 943.7 L2501.1 949.0 L2501.7 940.9 L2502.3 946.3 L2502.9 942.2 L2503.6 945.2 L2504.2 947.4 L2504.7 943.1 L2504.8 937.6 L2505.4 935.3 L2506.0 926.6 L2506.7 933.7 L2507.1 926.2 L2507.3 930.2 L2507.9 927.0 L2508.5 931.7 L2509.1 942.4 L2509.8 943.9 L2510.4 947.0 L2510.4 948.7 L2511.0 947.0 L2511.6 933.3 L2512.2 958.6 L2512.9 956.0 L2513.4 959.5 L2513.5 950.5 L2514.1 952.0 L2514.7 953.8 L2515.3 962.2 L2516.0 970.3 L2516.6 973.4 L2517.1 969.5 L2517.2 970.6 L2517.8 974.4 L2518.4 970.5 L2519.1 976.4 L2519.7 978.2 L2520.3 971.9 L2520.8 981.3 L2520.9 983.5 L2521.5 976.3 L2522.2 975.7 L2522.8 969.1 L2523.4 966.1 L2524.0 972.9 L2524.5 967.4 L2524.6 962.4 L2525.3 951.9 L2525.9 958.4 L2526.5 951.4 L2527.1 947.6 L2527.7 954.4 L2527.8 953.7 L2528.4 940.6 L2529.0 948.0 L2529.6 945.3 L2530.2 938.0 L2530.7 937.1 L2530.8 933.8 L2531.5 935.0 L2532.1 936.2 L2532.7 941.8 L2533.3 955.2 L2533.7 954.5 L2533.9 952.4 L2534.6 956.7 L2535.2 960.3 L2535.8 961.0 L2536.4 973.9 L2537.0 964.8 L2537.0 960.8 L2537.7 964.5 L2538.3 970.2 L2538.9 958.3 L2539.5 972.0 L2540.1 978.4 L2540.7 972.2 L2540.8 985.0 L2541.4 979.1 L2542.0 975.5 L2542.6 976.6 L2543.2 979.8 L2543.9 987.3 L2544.4 992.0 L2544.5 989.6 L2545.1 986.9 L2545.7 989.4 L2546.3 982.8 L2546.9 974.5 L2547.0 975.8 L2547.6 966.2 L2548.2 958.4 L2548.8 942.3 L2549.4 932.9 L2549.4 929.1 L2550.1 915.7 L2550.7 916.9 L2551.3 907.0 L2551.9 904.3 L2551.9 899.6 L2552.5 898.6 L2553.2 892.8 L2553.8 890.3 L2554.3 892.5 L2554.4 890.7 L2555.0 889.7 L2555.6 875.9 L2556.3 873.6 L2556.8 865.2 L2556.9 866.1 L2557.5 858.1 L2558.1 866.4 L2558.7 858.4 L2559.4 863.0 L2560.0 856.5 L2560.1 852.5 L2560.6 856.5 L2561.2 852.7 L2561.8 845.2 L2562.5 836.7 L2562.5 835.3 L2563.1 838.4 L2563.7 857.3 L2564.3 852.6 L2564.9 854.0 L2565.5 849.9 L2565.6 845.3 L2566.2 841.2 L2566.8 858.1 L2567.4 864.4 L2568.0 861.2 L2568.0 862.8 L2568.7 870.7 L2569.3 872.6 L2569.9 881.2 L2570.5 886.0 L2570.5 886.6 L2571.1 884.5 L2571.8 877.9 L2572.4 869.8 L2573.0 871.4 L2573.0 869.1 L2573.6 873.4 L2574.2 870.2 L2574.9 875.6 L2575.5 875.6 L2576.1 875.7 L2576.7 879.1 L2576.7 876.0 L2577.3 862.9 L2578.0 862.7 L2578.6 859.2 L2579.2 860.8 L2579.2 865.3 L2579.8 868.2 L2580.4 865.4 L2581.1 873.5 L2581.7 872.8 L2582.3 871.9 L2582.9 878.7 L2582.9 878.7 L2583.5 884.1 L2584.2 879.4 L2584.8 884.1 L2585.4 870.6 L2585.4 880.6 L2586.0 861.5 L2586.6 846.3 L2587.3 837.7 L2587.4 837.3 L2587.9 837.5 L2588.5 845.7 L2589.1 847.8 L2589.7 849.1 L2589.9 849.2 L2590.4 844.9 L2591.0 840.0 L2591.6 824.9 L2592.2 827.2 L2592.8 819.6 L2592.9 820.1 L2593.5 834.2 L2594.1 826.2 L2594.7 833.1 L2595.3 844.6 L2595.9 839.1 L2596.6 848.5 L2596.6 845.9 L2597.2 845.0 L2597.8 849.4 L2598.4 849.5 L2599.0 851.8 L2599.1 850.7 L2599.7 846.5 L2600.3 834.2 L2600.9 819.5 L2601.5 814.8 L2601.6 808.8 L2602.1 806.4 L2602.8 817.3 L2603.4 814.6 L2604.0 812.0 L2604.0 813.7 L2604.6 817.5 L2605.2 807.2 L2605.9 811.8 L2606.5 805.8 L2607.1 808.4 L2607.7 800.4 L2607.8 799.7 L2608.3 799.9 L2609.0 793.4 L2609.6 797.4 L2610.2 793.4 L2610.8 797.4 L2611.4 799.8 L2611.5 796.5 L2612.1 792.9 L2612.7 799.9 L2613.3 807.7 L2613.9 810.1 L2614.5 816.4 L2614.7 813.2 L2615.2 799.1 L2615.8 799.7 L2616.4 801.2 L2617.0 793.8 L2617.6 790.5 L2617.7 788.2 L2618.3 780.7 L2618.9 771.5 L2619.5 767.2 L2620.1 772.8 L2620.2 770.0 L2620.7 762.3 L2621.4 761.3 L2622.0 761.9 L2622.6 768.1 L2623.2 762.5 L2623.8 761.7 L2623.9 755.9 L2624.5 759.2 L2625.1 763.9 L2625.7 763.7 L2626.3 765.4 L2626.9 762.5 L2627.6 773.1 L2627.6 768.4 L2628.2 766.2 L2628.8 763.9 L2629.4 778.2 L2630.0 770.1 L2630.1 773.3 L2630.7 789.1 L2631.3 787.3 L2631.9 802.9 L2632.5 814.3 L2632.6 817.7 L2633.1 819.5 L2633.8 819.5 L2634.4 815.8 L2635.0 812.1 L2635.1 812.5 L2635.6 797.9 L2636.2 784.7 L2636.9 779.6 L2637.1 768.4 L2637.5 767.3 L2638.1 769.2 L2638.7 767.3 L2639.3 767.3 L2640.0 776.9 L2640.1 775.1 L2640.6 768.7 L2641.2 771.5 L2641.8 766.8 L2642.4 763.4 L2643.1 770.6 L2643.7 779.1 L2643.8 778.5 L2644.3 779.1 L2644.9 769.0 L2645.5 772.6 L2646.2 765.3 L2646.8 770.4 L2647.0 765.5 L2647.4 767.1 L2648.0 764.0 L2648.6 756.3 L2648.8 753.6 L2649.3 760.4 L2649.9 773.5 L2650.5 763.8 L2651.1 773.3 L2651.2 774.3 L2651.7 781.3 L2652.4 788.5 L2653.0 790.1 L2653.6 799.0 L2653.7 795.2 L2654.2 812.5 L2654.8 816.3 L2655.5 837.8 L2655.5 834.4 L2656.1 849.2 L2656.7 870.2 L2656.7 868.3 L2657.3 855.5 L2657.9 844.3 L2658.6 814.9 L2658.7 820.5 L2659.2 837.7 L2659.8 839.3 L2660.4 853.3 L2661.0 854.5 L2661.2 852.5 L2661.7 850.2 L2662.3 856.5 L2662.9 856.8 L2663.5 853.7 L2664.1 852.4 L2664.8 856.8 L2664.9 847.9 L2665.4 845.8 L2666.0 852.4 L2666.6 848.3 L2667.2 834.5 L2667.9 838.0 L2668.5 822.0 L2668.6 823.1 L2669.1 822.0 L2669.7 828.1 L2670.3 828.1 L2671.0 837.3 L2671.6 841.2 L2672.2 843.8 L2672.4 842.4 L2672.8 837.3 L2673.4 842.5 L2674.1 842.6 L2674.7 827.8 L2675.3 845.0 L2675.9 845.8 L2676.5 839.0 L2677.2 842.6 L2677.3 842.5 L2677.8 845.1 L2678.4 841.3 L2679.0 844.3 L2679.6 837.3 L2680.3 836.1 L2680.9 836.6 L2681.5 834.4 L2682.1 840.6 L2682.3 837.1 L2682.7 837.2 L2683.4 836.9 L2684.0 834.4 L2684.6 833.8 L2685.2 836.5 L2685.8 836.9 L2686.5 831.9 L2687.1 836.4 L2687.3 840.2 L2687.7 841.9 L2688.3 839.5 L2688.9 841.9 L2689.6 830.5 L2690.2 828.6 L2690.8 836.9 L2691.0 834.8 L2691.4 833.8 L2692.0 825.1 L2692.7 819.3 L2693.3 816.1 L2693.5 811.7 L2693.9 808.8 L2694.5 802.2 L2695.1 810.4 L2695.8 807.7 L2696.4 806.6 L2697.0 804.5 L2697.2 805.4 L2697.6 806.6 L2698.2 803.2 L2698.9 795.9 L2699.5 795.9 L2700.1 795.9 L2700.7 796.3 L2700.9 801.0 L2701.3 795.9 L2702.0 810.0 L2702.6 801.8 L2703.2 812.0 L2703.4 815.5 L2703.8 820.3 L2704.4 841.3 L2704.7 838.3 L2705.1 840.7 L2705.7 852.5 L2706.3 846.8 L2706.9 853.5 L2707.1 851.6 L2707.5 850.0 L2708.2 854.5 L2708.8 853.8 L2709.4 850.9 L2710.0 856.9 L2710.6 847.6 L2710.9 855.4 L2711.3 848.0 L2711.9 871.0 L2712.5 849.3 L2713.1 850.5 L2713.7 849.3 L2714.4 849.3 L2714.6 851.8 L2715.0 857.9 L2715.6 856.3 L2716.2 865.6 L2716.8 875.9 L2717.1 875.8 L2717.5 888.4 L2718.1 889.8 L2718.3 889.7 L2718.7 888.4 L2719.3 877.6 L2719.9 867.8 L2720.6 861.3 L2720.8 858.8 L2721.2 857.7 L2721.8 850.8 L2722.4 840.6 L2723.0 840.5 L2723.3 825.6 L2723.7 831.1 L2724.3 845.1 L2724.9 842.0 L2725.5 845.3 L2725.8 851.7 L2726.1 851.1 L2726.8 820.2 L2727.4 835.9 L2728.0 819.5 L2728.3 819.9 L2728.6 819.7 L2729.2 822.7 L2729.9 829.2 L2730.5 833.7 L2730.7 837.7 L2731.1 855.4 L2731.7 855.0 L2732.3 871.7 L2732.5 869.4 L2733.0 856.8 L2733.6 845.3 L2734.2 836.8 L2734.5 836.3 L2734.8 842.1 L2735.4 837.7 L2736.1 848.3 L2736.7 841.2 L2737.3 851.6 L2737.9 862.2 L2738.2 852.0 L2738.5 851.9 L2739.2 837.4 L2739.8 853.4 L2740.4 832.3 L2741.0 854.4 L2741.4 859.4 L2741.6 861.8 L2742.3 854.3 L2742.9 845.5 L2743.5 839.0 L2744.1 841.1 L2744.4 833.4 L2744.7 836.9 L2745.4 845.3 L2746.0 845.3 L2746.6 859.7 L2746.9 858.4 L2747.2 854.7 L2747.8 850.7 L2748.5 842.5 L2749.1 839.3 L2749.4 842.6 L2749.7 851.0 L2750.3 859.6 L2750.9 866.8 L2751.6 871.2 L2751.9 879.6 L2752.2 873.6 L2752.8 879.4 L2753.4 884.1 L2754.0 884.1 L2754.3 881.4 L2754.7 880.1 L2755.3 884.1 L2755.9 879.8 L2756.5 870.7 L2757.1 872.5 L2757.8 874.8 L2758.1 874.7 L2758.4 866.0 L2759.0 870.5 L2759.6 862.6 L2760.2 866.8 L2760.6 857.0 L2760.9 851.1 L2761.5 847.0 L2762.1 848.7 L2762.7 839.7 L2763.0 832.4 L2763.3 837.7 L2764.0 840.8 L2764.6 853.0 L2764.8 857.5 L2765.2 857.0 L2765.8 869.8 L2766.4 873.7 L2766.8 879.9 L2767.1 895.0 L2767.7 917.4 L2768.3 943.7 L2768.8 973.8 L2768.9 960.0 L2769.5 937.3 L2770.2 926.3 L2770.5 915.3 L2770.8 917.4 L2771.4 922.5 L2772.0 924.9 L2772.6 934.5 L2773.0 939.4 L2773.3 932.0 L2773.9 928.7 L2774.5 920.3 L2775.1 915.0 L2775.5 913.2 L2775.7 916.7 L2776.4 917.0 L2777.0 919.5 L2777.6 924.2 L2778.0 929.4 L2778.2 922.3 L2778.8 930.9 L2779.5 930.5 L2780.1 938.3 L2780.7 953.9 L2781.2 955.6 L2781.3 939.2 L2781.9 954.4 L2782.6 959.7 L2783.2 953.6 L2783.8 952.6 L2784.2 958.0 L2784.4 953.2 L2785.0 952.1 L2785.7 948.4 L2786.3 938.8 L2786.9 937.9 L2787.1 936.6 L2787.5 935.3 L2788.1 941.2 L2788.8 950.4 L2789.4 941.7 L2790.0 954.6 L2790.4 952.7 L2790.6 951.0 L2791.2 950.0 L2791.9 945.9 L2792.5 944.4 L2793.1 934.6 L2793.6 931.8 L2793.7 930.6 L2794.3 935.0 L2795.0 930.4 L2795.6 921.4 L2796.2 921.4 L2796.6 922.9 L2796.8 923.3 L2797.4 927.6 L2798.1 939.3 L2798.7 925.9 L2799.3 942.2 L2799.6 937.6 L2799.9 937.2 L2800.5 940.3 L2801.2 938.7 L2801.8 940.1 L2802.4 943.1 L2802.8 939.0 L2803.0 940.9 L2803.6 924.2 L2804.3 923.5 L2804.5 913.9 L2804.9 922.4 L2805.5 927.4 L2806.1 938.9 L2806.7 943.1 L2807.0 945.4 L2807.4 948.7 L2808.0 945.5 L2808.6 948.2 L2809.2 929.2 L2809.8 933.8 L2810.2 938.8 L2810.5 934.2 L2811.1 937.3 L2811.7 947.5 L2812.3 944.6 L2812.7 942.0 L2812.9 946.2 L2813.6 940.3 L2814.2 931.8 L2814.8 922.2 L2815.2 915.0 L2815.4 915.1 L2816.0 915.6 L2816.7 920.0 L2817.3 916.0 L2817.9 921.5 L2818.5 914.4 L2818.9 914.1 L2819.1 915.6 L2819.8 932.3 L2820.4 929.9 L2821.0 931.9 L2821.4 934.8 L2821.6 941.8 L2822.2 944.3 L2822.9 959.4 L2823.4 964.1 L2823.5 963.7 L2824.1 979.0 L2824.7 971.4 L2825.2 985.0 L2825.3 983.6 L2826.0 979.0 L2826.6 974.8 L2827.2 976.6 L2827.6 975.3 L2827.8 989.4 L2828.4 989.7 L2829.1 1002.1 L2829.4 1007.4 L2829.7 1008.2 L2830.3 1022.5 L2830.9 1033.4 L2831.4 1038.0 L2831.5 1020.0 L2832.2 1038.5 L2832.8 1022.5 L2833.4 1025.0 L2833.9 1025.3 L2834.0 1004.3 L2834.6 1009.2 L2835.3 993.6 L2835.8 990.6 L2835.9 991.9 L2836.5 972.5 L2836.8 961.8 L2837.1 966.7 L2837.7 979.2 L2838.4 987.7 L2838.8 990.0 L2839.0 1002.9 L2839.6 1014.8 L2840.2 1038.1 L2840.8 1055.9 L2840.8 1042.3 L2841.5 1038.4 L2842.1 1033.1 L2842.5 1022.0 L2842.7 1019.2 L2843.3 1020.7 L2843.9 1013.4 L2844.6 1001.8 L2845.0 1004.3 L2845.2 1011.1 L2845.8 1014.4 L2846.4 1018.4 L2847.0 1035.4 L2847.5 1037.2 L2847.7 1035.1 L2848.3 1033.7 L2848.9 1030.5 L2849.5 1033.4 L2850.0 1028.6 L2850.1 1039.6 L2850.8 1027.5 L2851.4 1020.0 L2852.0 1021.4 L2852.5 1019.1 L2852.6 1016.3 L2853.2 1036.1 L2853.9 1027.6 L2854.5 1032.4 L2855.0 1039.2 L2855.1 1041.5 L2855.7 1041.7 L2856.2 1049.7 L2856.3 1056.3 L2857.0 1083.0 L2857.0 1087.7 L2857.5 1108.7 L2857.5 1108.7" fill="none" stroke="#222222" stroke-width="5.9" stroke-linejoin="round" stroke-linecap="round"/>
<path d="M341.0 1306.8 L341.0 1296.1 L343.5 1296.1 L343.5 1301.4 L346.0 1301.4 L346.0 1301.4 L348.4 1301.4 L348.4 1304.5 L350.9 1304.5 L350.9 1303.9 L353.4 1303.9 L353.4 1297.8 L355.9 1297.8 L355.9 1302.5 L358.4 1302.5 L358.4 1301.4 L360.8 1301.4 L360.8 1300.3 L363.3 1300.3 L363.3 1301.8 L365.8 1301.8 L365.8 1306.8 L368.3 1306.8 L368.3 1306.8 L370.8 1306.8 L370.8 1306.8 L373.2 1306.8 L373.2 1306.8 L375.7 1306.8 L375.7 1306.8 L378.2 1306.8 L378.2 1306.8 L380.7 1306.8 L380.7 1306.8 L383.2 1306.8 L383.2 1306.8 L385.6 1306.8 L385.6 1306.8 L388.1 1306.8 L388.1 1306.8 L390.6 1306.8 L390.6 1306.8 L393.1 1306.8 L393.1 1306.8 L395.6 1306.8 L395.6 1306.8 L398.0 1306.8 L398.0 1306.8 L400.5 1306.8 L400.5 1306.8 L403.0 1306.8 L403.0 1306.8 L405.5 1306.8 L405.5 1306.8 L408.0 1306.8 L408.0 1306.8 L410.4 1306.8 L410.4 1306.8 L412.9 1306.8 L412.9 1306.8 L415.4 1306.8 L415.4 1306.8 L417.9 1306.8 L417.9 1306.8 L420.4 1306.8 L420.4 1306.8 L422.8 1306.8 L422.8 1306.8 L425.3 1306.8 L425.3 1306.8 L427.8 1306.8 L427.8 1306.8 L430.3 1306.8 L430.3 1306.8 L432.8 1306.8 L432.8 1306.8 L435.2 1306.8 L435.2 1306.8 L437.7 1306.8 L437.7 1306.8 L440.2 1306.8 L440.2 1306.8 L442.7 1306.8 L442.7 1306.8 L445.2 1306.8 L445.2 1306.8 L447.6 1306.8 L447.6 1306.8 L450.1 1306.8 L450.1 1306.8 L452.6 1306.8 L452.6 1306.8 L455.1 1306.8 L455.1 1306.8 L457.6 1306.8 L457.6 1306.8 L460.0 1306.8 L460.0 1306.8 L462.5 1306.8 L462.5 1306.8 L465.0 1306.8 L465.0 1306.8 L467.5 1306.8 L467.5 1305.9 L470.0 1305.9 L470.0 1306.0 L472.4 1306.0 L472.4 1306.2 L474.9 1306.2 L474.9 1306.8 L477.4 1306.8 L477.4 1306.8 L479.9 1306.8 L479.9 1306.8 L482.4 1306.8 L482.4 1304.4 L484.8 1304.4 L484.8 1298.4 L487.3 1298.4 L487.3 1297.5 L489.8 1297.5 L489.8 1299.6 L492.3 1299.6 L492.3 1299.7 L494.8 1299.7 L494.8 1303.2 L497.2 1303.2 L497.2 1303.9 L499.7 1303.9 L499.7 1304.1 L502.2 1304.1 L502.2 1302.8 L504.7 1302.8 L504.7 1299.1 L507.2 1299.1 L507.2 1299.6 L509.6 1299.6 L509.6 1295.6 L512.1 1295.6 L512.1 1300.1 L514.6 1300.1 L514.6 1300.7 L517.1 1300.7 L517.1 1291.6 L519.6 1291.6 L519.6 1290.6 L522.0 1290.6 L522.0 1286.3 L524.5 1286.3 L524.5 1285.7 L527.0 1285.7 L527.0 1286.5 L529.5 1286.5 L529.5 1290.3 L532.0 1290.3 L532.0 1291.8 L534.4 1291.8 L534.4 1293.2 L536.9 1293.2 L536.9 1294.6 L539.4 1294.6 L539.4 1294.3 L541.9 1294.3 L541.9 1304.2 L544.4 1304.2 L544.4 1305.9 L546.8 1305.9 L546.8 1305.6 L549.3 1305.6 L549.3 1303.0 L551.8 1303.0 L551.8 1301.3 L554.3 1301.3 L554.3 1301.6 L556.8 1301.6 L556.8 1306.7 L559.2 1306.7 L559.2 1306.8 L561.7 1306.8 L561.7 1306.8 L564.2 1306.8 L564.2 1306.8 L566.7 1306.8 L566.7 1306.2 L569.2 1306.2 L569.2 1306.8 L571.6 1306.8 L571.6 1305.7 L574.1 1305.7 L574.1 1304.3 L576.6 1304.3 L576.6 1306.0 L579.1 1306.0 L579.1 1306.8 L581.6 1306.8 L581.6 1302.8 L584.0 1302.8 L584.0 1305.4 L586.5 1305.4 L586.5 1304.7 L589.0 1304.7 L589.0 1299.5 L591.5 1299.5 L591.5 1297.5 L594.0 1297.5 L594.0 1295.9 L596.4 1295.9 L596.4 1297.6 L598.9 1297.6 L598.9 1297.9 L601.4 1297.9 L601.4 1300.8 L603.9 1300.8 L603.9 1305.1 L606.4 1305.1 L606.4 1306.8 L608.8 1306.8 L608.8 1306.8 L611.3 1306.8 L611.3 1306.8 L613.8 1306.8 L613.8 1306.8 L616.3 1306.8 L616.3 1306.8 L618.8 1306.8 L618.8 1306.8 L621.2 1306.8 L621.2 1306.8 L623.7 1306.8 L623.7 1306.8 L626.2 1306.8 L626.2 1306.8 L628.7 1306.8 L628.7 1306.8 L631.2 1306.8 L631.2 1306.8 L633.6 1306.8 L633.6 1306.8 L636.1 1306.8 L636.1 1306.8 L638.6 1306.8 L638.6 1306.8 L641.1 1306.8 L641.1 1306.8 L643.6 1306.8 L643.6 1306.8 L646.0 1306.8 L646.0 1306.8 L648.5 1306.8 L648.5 1306.8 L651.0 1306.8 L651.0 1306.8 L653.5 1306.8 L653.5 1306.8 L656.0 1306.8 L656.0 1306.8 L658.4 1306.8 L658.4 1306.8 L660.9 1306.8 L660.9 1306.8 L663.4 1306.8 L663.4 1306.8 L665.9 1306.8 L665.9 1306.8 L668.4 1306.8 L668.4 1306.8 L670.8 1306.8 L670.8 1306.8 L673.3 1306.8 L673.3 1306.8 L675.8 1306.8 L675.8 1306.8 L678.3 1306.8 L678.3 1306.8 L680.8 1306.8 L680.8 1306.8 L683.2 1306.8 L683.2 1306.8 L685.7 1306.8 L685.7 1306.8 L688.2 1306.8 L688.2 1306.8 L690.7 1306.8 L690.7 1306.8 L693.2 1306.8 L693.2 1306.8 L695.6 1306.8 L695.6 1306.8 L698.1 1306.8 L698.1 1306.8 L700.6 1306.8 L700.6 1306.8 L703.1 1306.8 L703.1 1306.8 L705.6 1306.8 L705.6 1304.9 L708.0 1304.9 L708.0 1306.2 L710.5 1306.2 L710.5 1306.8 L713.0 1306.8 L713.0 1303.6 L715.5 1303.6 L715.5 1302.3 L718.0 1302.3 L718.0 1302.7 L720.4 1302.7 L720.4 1303.0 L722.9 1303.0 L722.9 1304.7 L725.4 1304.7 L725.4 1306.8 L727.9 1306.8 L727.9 1303.9 L730.4 1303.9 L730.4 1300.6 L732.8 1300.6 L732.8 1301.9 L735.3 1301.9 L735.3 1302.0 L737.8 1302.0 L737.8 1305.5 L740.3 1305.5 L740.3 1306.8 L742.8 1306.8 L742.8 1306.8 L745.2 1306.8 L745.2 1306.8 L747.7 1306.8 L747.7 1306.8 L750.2 1306.8 L750.2 1306.8 L752.7 1306.8 L752.7 1306.8 L755.2 1306.8 L755.2 1306.8 L757.6 1306.8 L757.6 1306.8 L760.1 1306.8 L760.1 1306.8 L762.6 1306.8 L762.6 1306.8 L765.1 1306.8 L765.1 1306.8 L767.6 1306.8 L767.6 1306.8 L770.0 1306.8 L770.0 1306.8 L772.5 1306.8 L772.5 1306.8 L775.0 1306.8 L775.0 1306.8 L777.5 1306.8 L777.5 1306.8 L780.0 1306.8 L780.0 1306.8 L782.4 1306.8 L782.4 1306.8 L784.9 1306.8 L784.9 1306.8 L787.4 1306.8 L787.4 1306.8 L789.9 1306.8 L789.9 1306.8 L792.4 1306.8 L792.4 1306.8 L794.8 1306.8 L794.8 1306.8 L797.3 1306.8 L797.3 1306.8 L799.8 1306.8 L799.8 1306.8 L802.3 1306.8 L802.3 1306.8 L804.8 1306.8 L804.8 1306.8 L807.2 1306.8 L807.2 1306.8 L809.7 1306.8 L809.7 1306.8 L812.2 1306.8 L812.2 1306.8 L814.7 1306.8 L814.7 1306.8 L817.2 1306.8 L817.2 1306.8 L819.6 1306.8 L819.6 1306.8 L822.1 1306.8 L822.1 1306.8 L824.6 1306.8 L824.6 1306.8 L827.1 1306.8 L827.1 1306.8 L829.6 1306.8 L829.6 1306.8 L832.0 1306.8 L832.0 1306.8 L834.5 1306.8 L834.5 1306.8 L837.0 1306.8 L837.0 1306.8 L839.5 1306.8 L839.5 1306.8 L842.0 1306.8 L842.0 1306.8 L844.4 1306.8 L844.4 1306.8 L846.9 1306.8 L846.9 1306.8 L849.4 1306.8 L849.4 1306.8 L851.9 1306.8 L851.9 1306.8 L854.4 1306.8 L854.4 1306.8 L856.8 1306.8 L856.8 1306.8 L859.3 1306.8 L859.3 1306.8 L861.8 1306.8 L861.8 1306.8 L864.3 1306.8 L864.3 1306.8 L866.8 1306.8 L866.8 1306.8 L869.2 1306.8 L869.2 1306.8 L871.7 1306.8 L871.7 1306.8 L874.2 1306.8 L874.2 1306.8 L876.7 1306.8 L876.7 1306.8 L879.2 1306.8 L879.2 1306.8 L881.6 1306.8 L881.6 1306.8 L884.1 1306.8 L884.1 1306.8 L886.6 1306.8 L886.6 1306.8 L889.1 1306.8 L889.1 1306.8 L891.6 1306.8 L891.6 1306.8 L894.0 1306.8 L894.0 1306.8 L896.5 1306.8 L896.5 1306.8 L899.0 1306.8 L899.0 1306.8 L901.5 1306.8 L901.5 1305.6 L904.0 1305.6 L904.0 1303.4 L906.4 1303.4 L906.4 1302.9 L908.9 1302.9 L908.9 1300.8 L911.4 1300.8 L911.4 1298.8 L913.9 1298.8 L913.9 1300.1 L916.4 1300.1 L916.4 1301.8 L918.8 1301.8 L918.8 1300.7 L921.3 1300.7 L921.3 1296.9 L923.8 1296.9 L923.8 1296.6 L926.3 1296.6 L926.3 1297.3 L928.8 1297.3 L928.8 1298.5 L931.2 1298.5 L931.2 1299.7 L933.7 1299.7 L933.7 1303.6 L936.2 1303.6 L936.2 1303.2 L938.7 1303.2 L938.7 1300.2 L941.2 1300.2 L941.2 1298.9 L943.6 1298.9 L943.6 1297.8 L946.1 1297.8 L946.1 1300.7 L948.6 1300.7 L948.6 1302.2 L951.1 1302.2 L951.1 1297.6 L953.6 1297.6 L953.6 1295.4 L956.0 1295.4 L956.0 1296.7 L958.5 1296.7 L958.5 1297.9 L961.0 1297.9 L961.0 1297.4 L963.5 1297.4 L963.5 1297.3 L966.0 1297.3 L966.0 1294.6 L968.4 1294.6 L968.4 1295.6 L970.9 1295.6 L970.9 1298.6 L973.4 1298.6 L973.4 1300.8 L975.9 1300.8 L975.9 1302.2 L978.4 1302.2 L978.4 1305.7 L980.8 1305.7 L980.8 1304.4 L983.3 1304.4 L983.3 1302.8 L985.8 1302.8 L985.8 1300.4 L988.3 1300.4 L988.3 1296.3 L990.8 1296.3 L990.8 1296.5 L993.2 1296.5 L993.2 1296.4 L995.7 1296.4 L995.7 1294.5 L998.2 1294.5 L998.2 1295.3 L1000.7 1295.3 L1000.7 1297.0 L1003.2 1297.0 L1003.2 1298.9 L1005.6 1298.9 L1005.6 1300.2 L1008.1 1300.2 L1008.1 1300.6 L1010.6 1300.6 L1010.6 1301.4 L1013.1 1301.4 L1013.1 1298.4 L1015.6 1298.4 L1015.6 1299.4 L1018.0 1299.4 L1018.0 1298.4 L1020.5 1298.4 L1020.5 1298.3 L1023.0 1298.3 L1023.0 1299.8 L1025.5 1299.8 L1025.5 1299.7 L1028.0 1299.7 L1028.0 1303.7 L1030.4 1303.7 L1030.4 1302.1 L1032.9 1302.1 L1032.9 1303.4 L1035.4 1303.4 L1035.4 1303.7 L1037.9 1303.7 L1037.9 1305.8 L1040.4 1305.8 L1040.4 1306.8 L1042.8 1306.8 L1042.8 1306.8 L1045.3 1306.8 L1045.3 1306.8 L1047.8 1306.8 L1047.8 1301.5 L1050.3 1301.5 L1050.3 1297.0 L1052.8 1297.0 L1052.8 1293.9 L1055.2 1293.9 L1055.2 1297.8 L1057.7 1297.8 L1057.7 1294.2 L1060.2 1294.2 L1060.2 1288.9 L1062.7 1288.9 L1062.7 1288.0 L1065.2 1288.0 L1065.2 1290.8 L1067.6 1290.8 L1067.6 1295.1 L1070.1 1295.1 L1070.1 1291.6 L1072.6 1291.6 L1072.6 1292.2 L1075.1 1292.2 L1075.1 1290.6 L1077.6 1290.6 L1077.6 1293.3 L1080.0 1293.3 L1080.0 1294.2 L1082.5 1294.2 L1082.5 1291.7 L1085.0 1291.7 L1085.0 1294.6 L1087.5 1294.6 L1087.5 1291.4 L1090.0 1291.4 L1090.0 1292.1 L1092.4 1292.1 L1092.4 1291.2 L1094.9 1291.2 L1094.9 1289.8 L1097.4 1289.8 L1097.4 1290.1 L1099.9 1290.1 L1099.9 1291.3 L1102.4 1291.3 L1102.4 1291.3 L1104.8 1291.3 L1104.8 1287.5 L1107.3 1287.5 L1107.3 1286.8 L1109.8 1286.8 L1109.8 1287.4 L1112.3 1287.4 L1112.3 1287.6 L1114.8 1287.6 L1114.8 1289.8 L1117.2 1289.8 L1117.2 1288.5 L1119.7 1288.5 L1119.7 1286.8 L1122.2 1286.8 L1122.2 1286.9 L1124.7 1286.9 L1124.7 1286.0 L1127.2 1286.0 L1127.2 1278.3 L1129.6 1278.3 L1129.6 1276.6 L1132.1 1276.6 L1132.1 1276.8 L1134.6 1276.8 L1134.6 1275.6 L1137.1 1275.6 L1137.1 1276.0 L1139.6 1276.0 L1139.6 1277.5 L1142.0 1277.5 L1142.0 1281.5 L1144.5 1281.5 L1144.5 1283.7 L1147.0 1283.7 L1147.0 1287.5 L1149.5 1287.5 L1149.5 1289.9 L1152.0 1289.9 L1152.0 1290.4 L1154.4 1290.4 L1154.4 1290.0 L1156.9 1290.0 L1156.9 1287.4 L1159.4 1287.4 L1159.4 1286.7 L1161.9 1286.7 L1161.9 1288.5 L1164.4 1288.5 L1164.4 1288.0 L1166.8 1288.0 L1166.8 1287.2 L1169.3 1287.2 L1169.3 1289.6 L1171.8 1289.6 L1171.8 1289.7 L1174.3 1289.7 L1174.3 1291.2 L1176.8 1291.2 L1176.8 1286.6 L1179.2 1286.6 L1179.2 1287.8 L1181.7 1287.8 L1181.7 1285.2 L1184.2 1285.2 L1184.2 1285.6 L1186.7 1285.6 L1186.7 1286.9 L1189.2 1286.9 L1189.2 1289.6 L1191.6 1289.6 L1191.6 1289.8 L1194.1 1289.8 L1194.1 1290.6 L1196.6 1290.6 L1196.6 1289.9 L1199.1 1289.9 L1199.1 1294.4 L1201.6 1294.4 L1201.6 1290.1 L1204.0 1290.1 L1204.0 1291.7 L1206.5 1291.7 L1206.5 1291.7 L1209.0 1291.7 L1209.0 1293.1 L1211.5 1293.1 L1211.5 1291.3 L1214.0 1291.3 L1214.0 1291.7 L1216.4 1291.7 L1216.4 1291.1 L1218.9 1291.1 L1218.9 1291.5 L1221.4 1291.5 L1221.4 1291.9 L1223.9 1291.9 L1223.9 1291.2 L1226.4 1291.2 L1226.4 1289.7 L1228.8 1289.7 L1228.8 1292.2 L1231.3 1292.2 L1231.3 1293.8 L1233.8 1293.8 L1233.8 1292.4 L1236.3 1292.4 L1236.3 1289.2 L1238.8 1289.2 L1238.8 1288.0 L1241.2 1288.0 L1241.2 1286.5 L1243.7 1286.5 L1243.7 1285.7 L1246.2 1285.7 L1246.2 1290.0 L1248.7 1290.0 L1248.7 1288.9 L1251.2 1288.9 L1251.2 1287.2 L1253.6 1287.2 L1253.6 1288.1 L1256.1 1288.1 L1256.1 1288.4 L1258.6 1288.4 L1258.6 1288.9 L1261.1 1288.9 L1261.1 1292.3 L1263.6 1292.3 L1263.6 1290.9 L1266.0 1290.9 L1266.0 1290.4 L1268.5 1290.4 L1268.5 1293.0 L1271.0 1293.0 L1271.0 1293.8 L1273.5 1293.8 L1273.5 1297.6 L1276.0 1297.6 L1276.0 1296.9 L1278.4 1296.9 L1278.4 1297.5 L1280.9 1297.5 L1280.9 1301.7 L1283.4 1301.7 L1283.4 1301.2 L1285.9 1301.2 L1285.9 1299.4 L1288.4 1299.4 L1288.4 1298.5 L1290.8 1298.5 L1290.8 1298.2 L1293.3 1298.2 L1293.3 1297.0 L1295.8 1297.0 L1295.8 1294.5 L1298.3 1294.5 L1298.3 1291.0 L1300.8 1291.0 L1300.8 1288.7 L1303.2 1288.7 L1303.2 1287.6 L1305.7 1287.6 L1305.7 1290.1 L1308.2 1290.1 L1308.2 1289.1 L1310.7 1289.1 L1310.7 1288.4 L1313.2 1288.4 L1313.2 1290.1 L1315.6 1290.1 L1315.6 1290.5 L1318.1 1290.5 L1318.1 1289.7 L1320.6 1289.7 L1320.6 1287.6 L1323.1 1287.6 L1323.1 1288.7 L1325.6 1288.7 L1325.6 1286.4 L1328.0 1286.4 L1328.0 1286.8 L1330.5 1286.8 L1330.5 1287.4 L1333.0 1287.4 L1333.0 1287.3 L1335.5 1287.3 L1335.5 1289.7 L1338.0 1289.7 L1338.0 1291.4 L1340.4 1291.4 L1340.4 1291.9 L1342.9 1291.9 L1342.9 1291.2 L1345.4 1291.2 L1345.4 1290.5 L1347.9 1290.5 L1347.9 1291.7 L1350.4 1291.7 L1350.4 1290.6 L1352.8 1290.6 L1352.8 1288.7 L1355.3 1288.7 L1355.3 1285.6 L1357.8 1285.6 L1357.8 1287.4 L1360.3 1287.4 L1360.3 1288.8 L1362.8 1288.8 L1362.8 1289.9 L1365.2 1289.9 L1365.2 1289.1 L1367.7 1289.1 L1367.7 1288.8 L1370.2 1288.8 L1370.2 1288.5 L1372.7 1288.5 L1372.7 1289.3 L1375.2 1289.3 L1375.2 1290.7 L1377.6 1290.7 L1377.6 1289.6 L1380.1 1289.6 L1380.1 1291.8 L1382.6 1291.8 L1382.6 1292.8 L1385.1 1292.8 L1385.1 1291.1 L1387.6 1291.1 L1387.6 1290.7 L1390.0 1290.7 L1390.0 1291.8 L1392.5 1291.8 L1392.5 1291.1 L1395.0 1291.1 L1395.0 1289.5 L1397.5 1289.5 L1397.5 1292.3 L1400.0 1292.3 L1400.0 1292.6 L1402.4 1292.6 L1402.4 1292.3 L1404.9 1292.3 L1404.9 1292.4 L1407.4 1292.4 L1407.4 1291.5 L1409.9 1291.5 L1409.9 1292.7 L1412.4 1292.7 L1412.4 1295.1 L1414.8 1295.1 L1414.8 1293.2 L1417.3 1293.2 L1417.3 1292.0 L1419.8 1292.0 L1419.8 1292.6 L1422.3 1292.6 L1422.3 1290.7 L1424.8 1290.7 L1424.8 1291.8 L1427.2 1291.8 L1427.2 1293.2 L1429.7 1293.2 L1429.7 1292.3 L1432.2 1292.3 L1432.2 1292.7 L1434.7 1292.7 L1434.7 1293.0 L1437.2 1293.0 L1437.2 1295.3 L1439.6 1295.3 L1439.6 1302.0 L1442.1 1302.0 L1442.1 1301.7 L1444.6 1301.7 L1444.6 1301.2 L1447.1 1301.2 L1447.1 1301.6 L1449.6 1301.6 L1449.6 1299.0 L1452.0 1299.0 L1452.0 1304.0 L1454.5 1304.0 L1454.5 1303.4 L1457.0 1303.4 L1457.0 1301.8 L1459.5 1301.8 L1459.5 1302.0 L1462.0 1302.0 L1462.0 1301.9 L1464.4 1301.9 L1464.4 1302.3 L1466.9 1302.3 L1466.9 1302.7 L1469.4 1302.7 L1469.4 1299.5 L1471.9 1299.5 L1471.9 1298.5 L1474.4 1298.5 L1474.4 1302.3 L1476.8 1302.3 L1476.8 1302.4 L1479.3 1302.4 L1479.3 1302.8 L1481.8 1302.8 L1481.8 1302.7 L1484.3 1302.7 L1484.3 1303.5 L1486.8 1303.5 L1486.8 1303.0 L1489.2 1303.0 L1489.2 1303.2 L1491.7 1303.2 L1491.7 1302.5 L1494.2 1302.5 L1494.2 1304.0 L1496.7 1304.0 L1496.7 1302.4 L1499.2 1302.4 L1499.2 1305.2 L1501.6 1305.2 L1501.6 1306.8 L1504.1 1306.8 L1504.1 1304.4 L1506.6 1304.4 L1506.6 1299.4 L1509.1 1299.4 L1509.1 1300.0 L1511.6 1300.0 L1511.6 1298.2 L1514.0 1298.2 L1514.0 1299.7 L1516.5 1299.7 L1516.5 1298.4 L1519.0 1298.4 L1519.0 1299.0 L1521.5 1299.0 L1521.5 1300.0 L1524.0 1300.0 L1524.0 1301.1 L1526.4 1301.1 L1526.4 1302.0 L1528.9 1302.0 L1528.9 1303.1 L1531.4 1303.1 L1531.4 1304.9 L1533.9 1304.9 L1533.9 1301.6 L1536.4 1301.6 L1536.4 1302.9 L1538.8 1302.9 L1538.8 1301.8 L1541.3 1301.8 L1541.3 1301.5 L1543.8 1301.5 L1543.8 1297.3 L1546.3 1297.3 L1546.3 1297.7 L1548.8 1297.7 L1548.8 1296.1 L1551.2 1296.1 L1551.2 1295.8 L1553.7 1295.8 L1553.7 1298.1 L1556.2 1298.1 L1556.2 1297.2 L1558.7 1297.2 L1558.7 1298.5 L1561.2 1298.5 L1561.2 1300.3 L1563.6 1300.3 L1563.6 1298.9 L1566.1 1298.9 L1566.1 1297.7 L1568.6 1297.7 L1568.6 1299.4 L1571.1 1299.4 L1571.1 1302.3 L1573.6 1302.3 L1573.6 1304.5 L1576.0 1304.5 L1576.0 1304.4 L1578.5 1304.4 L1578.5 1305.1 L1581.0 1305.1 L1581.0 1306.2 L1583.5 1306.2 L1583.5 1304.7 L1586.0 1304.7 L1586.0 1304.7 L1588.4 1304.7 L1588.4 1304.3 L1590.9 1304.3 L1590.9 1303.4 L1593.4 1303.4 L1593.4 1304.5 L1595.9 1304.5 L1595.9 1303.3 L1598.4 1303.3 L1598.4 1301.4 L1600.8 1301.4 L1600.8 1299.9 L1603.3 1299.9 L1603.3 1298.9 L1605.8 1298.9 L1605.8 1293.1 L1608.3 1293.1 L1608.3 1289.8 L1610.8 1289.8 L1610.8 1292.8 L1613.2 1292.8 L1613.2 1292.4 L1615.7 1292.4 L1615.7 1292.2 L1618.2 1292.2 L1618.2 1292.7 L1620.7 1292.7 L1620.7 1290.1 L1623.2 1290.1 L1623.2 1289.8 L1625.6 1289.8 L1625.6 1289.2 L1628.1 1289.2 L1628.1 1289.0 L1630.6 1289.0 L1630.6 1291.1 L1633.1 1291.1 L1633.1 1289.7 L1635.6 1289.7 L1635.6 1288.3 L1638.0 1288.3 L1638.0 1286.8 L1640.5 1286.8 L1640.5 1286.9 L1643.0 1286.9 L1643.0 1287.0 L1645.5 1287.0 L1645.5 1286.0 L1648.0 1286.0 L1648.0 1278.9 L1650.4 1278.9 L1650.4 1277.8 L1652.9 1277.8 L1652.9 1279.0 L1655.4 1279.0 L1655.4 1277.8 L1657.9 1277.8 L1657.9 1276.6 L1660.4 1276.6 L1660.4 1282.9 L1662.8 1282.9 L1662.8 1281.8 L1665.3 1281.8 L1665.3 1280.9 L1667.8 1280.9 L1667.8 1284.6 L1670.3 1284.6 L1670.3 1284.0 L1672.8 1284.0 L1672.8 1281.2 L1675.2 1281.2 L1675.2 1279.7 L1677.7 1279.7 L1677.7 1283.2 L1680.2 1283.2 L1680.2 1280.0 L1682.7 1280.0 L1682.7 1280.2 L1685.2 1280.2 L1685.2 1276.8 L1687.6 1276.8 L1687.6 1278.8 L1690.1 1278.8 L1690.1 1281.2 L1692.6 1281.2 L1692.6 1283.3 L1695.1 1283.3 L1695.1 1281.2 L1697.6 1281.2 L1697.6 1281.0 L1700.0 1281.0 L1700.0 1281.2 L1702.5 1281.2 L1702.5 1278.1 L1705.0 1278.1 L1705.0 1275.5 L1707.5 1275.5 L1707.5 1273.1 L1710.0 1273.1 L1710.0 1270.7 L1712.4 1270.7 L1712.4 1268.4 L1714.9 1268.4 L1714.9 1267.6 L1717.4 1267.6 L1717.4 1265.3 L1719.9 1265.3 L1719.9 1265.3 L1722.4 1265.3 L1722.4 1264.7 L1724.8 1264.7 L1724.8 1265.5 L1727.3 1265.5 L1727.3 1270.5 L1729.8 1270.5 L1729.8 1276.3 L1732.3 1276.3 L1732.3 1273.1 L1734.8 1273.1 L1734.8 1270.2 L1737.2 1270.2 L1737.2 1268.2 L1739.7 1268.2 L1739.7 1272.0 L1742.2 1272.0 L1742.2 1274.0 L1744.7 1274.0 L1744.7 1276.6 L1747.2 1276.6 L1747.2 1276.9 L1749.6 1276.9 L1749.6 1276.3 L1752.1 1276.3 L1752.1 1273.0 L1754.6 1273.0 L1754.6 1270.4 L1757.1 1270.4 L1757.1 1269.8 L1759.6 1269.8 L1759.6 1270.2 L1762.0 1270.2 L1762.0 1271.7 L1764.5 1271.7 L1764.5 1274.4 L1767.0 1274.4 L1767.0 1269.8 L1769.5 1269.8 L1769.5 1264.4 L1772.0 1264.4 L1772.0 1269.0 L1774.4 1269.0 L1774.4 1271.1 L1776.9 1271.1 L1776.9 1270.1 L1779.4 1270.1 L1779.4 1270.3 L1781.9 1270.3 L1781.9 1264.5 L1784.4 1264.5 L1784.4 1269.6 L1786.8 1269.6 L1786.8 1273.2 L1789.3 1273.2 L1789.3 1271.9 L1791.8 1271.9 L1791.8 1274.5 L1794.3 1274.5 L1794.3 1275.9 L1796.8 1275.9 L1796.8 1271.2 L1799.2 1271.2 L1799.2 1265.9 L1801.7 1265.9 L1801.7 1260.3 L1804.2 1260.3 L1804.2 1255.1 L1806.7 1255.1 L1806.7 1253.8 L1809.2 1253.8 L1809.2 1259.8 L1811.6 1259.8 L1811.6 1261.8 L1814.1 1261.8 L1814.1 1258.8 L1816.6 1258.8 L1816.6 1259.6 L1819.1 1259.6 L1819.1 1258.9 L1821.6 1258.9 L1821.6 1262.6 L1824.0 1262.6 L1824.0 1264.5 L1826.5 1264.5 L1826.5 1263.9 L1829.0 1263.9 L1829.0 1265.4 L1831.5 1265.4 L1831.5 1271.6 L1834.0 1271.6 L1834.0 1276.3 L1836.4 1276.3 L1836.4 1278.1 L1838.9 1278.1 L1838.9 1277.1 L1841.4 1277.1 L1841.4 1275.3 L1843.9 1275.3 L1843.9 1273.1 L1846.4 1273.1 L1846.4 1272.6 L1848.8 1272.6 L1848.8 1273.5 L1851.3 1273.5 L1851.3 1268.8 L1853.8 1268.8 L1853.8 1270.1 L1856.3 1270.1 L1856.3 1273.0 L1858.8 1273.0 L1858.8 1272.5 L1861.2 1272.5 L1861.2 1272.9 L1863.7 1272.9 L1863.7 1273.8 L1866.2 1273.8 L1866.2 1271.0 L1868.7 1271.0 L1868.7 1269.6 L1871.2 1269.6 L1871.2 1266.4 L1873.6 1266.4 L1873.6 1263.9 L1876.1 1263.9 L1876.1 1262.7 L1878.6 1262.7 L1878.6 1262.2 L1881.1 1262.2 L1881.1 1263.3 L1883.6 1263.3 L1883.6 1257.3 L1886.0 1257.3 L1886.0 1255.9 L1888.5 1255.9 L1888.5 1253.3 L1891.0 1253.3 L1891.0 1249.4 L1893.5 1249.4 L1893.5 1250.0 L1896.0 1250.0 L1896.0 1250.3 L1898.4 1250.3 L1898.4 1248.3 L1900.9 1248.3 L1900.9 1245.8 L1903.4 1245.8 L1903.4 1243.5 L1905.9 1243.5 L1905.9 1240.8 L1908.4 1240.8 L1908.4 1243.7 L1910.8 1243.7 L1910.8 1244.3 L1913.3 1244.3 L1913.3 1241.6 L1915.8 1241.6 L1915.8 1241.8 L1918.3 1241.8 L1918.3 1234.4 L1920.8 1234.4 L1920.8 1229.6 L1923.2 1229.6 L1923.2 1223.7 L1925.7 1223.7 L1925.7 1222.9 L1928.2 1222.9 L1928.2 1223.5 L1930.7 1223.5 L1930.7 1222.6 L1933.2 1222.6 L1933.2 1218.7 L1935.6 1218.7 L1935.6 1214.4 L1938.1 1214.4 L1938.1 1222.9 L1940.6 1222.9 L1940.6 1210.1 L1943.1 1210.1 L1943.1 1207.5 L1945.6 1207.5 L1945.6 1204.8 L1948.0 1204.8 L1948.0 1206.2 L1950.5 1206.2 L1950.5 1209.8 L1953.0 1209.8 L1953.0 1207.6 L1955.5 1207.6 L1955.5 1204.4 L1958.0 1204.4 L1958.0 1204.4 L1960.4 1204.4 L1960.4 1207.0 L1962.9 1207.0 L1962.9 1217.3 L1965.4 1217.3 L1965.4 1219.6 L1967.9 1219.6 L1967.9 1225.4 L1970.4 1225.4 L1970.4 1230.8 L1972.8 1230.8 L1972.8 1241.3 L1975.3 1241.3 L1975.3 1232.2 L1977.8 1232.2 L1977.8 1229.9 L1980.3 1229.9 L1980.3 1233.3 L1982.8 1233.3 L1982.8 1236.5 L1985.2 1236.5 L1985.2 1234.5 L1987.7 1234.5 L1987.7 1227.7 L1990.2 1227.7 L1990.2 1225.0 L1992.7 1225.0 L1992.7 1227.7 L1995.2 1227.7 L1995.2 1229.2 L1997.6 1229.2 L1997.6 1230.5 L2000.1 1230.5 L2000.1 1229.6 L2002.6 1229.6 L2002.6 1227.7 L2005.1 1227.7 L2005.1 1230.8 L2007.6 1230.8 L2007.6 1238.4 L2010.0 1238.4 L2010.0 1241.0 L2012.5 1241.0 L2012.5 1242.6 L2015.0 1242.6 L2015.0 1240.8 L2017.5 1240.8 L2017.5 1237.8 L2020.0 1237.8 L2020.0 1236.0 L2022.4 1236.0 L2022.4 1232.0 L2024.9 1232.0 L2024.9 1227.1 L2027.4 1227.1 L2027.4 1231.6 L2029.9 1231.6 L2029.9 1234.5 L2032.4 1234.5 L2032.4 1240.7 L2034.8 1240.7 L2034.8 1247.2 L2037.3 1247.2 L2037.3 1255.1 L2039.8 1255.1 L2039.8 1249.4 L2042.3 1249.4 L2042.3 1251.8 L2044.8 1251.8 L2044.8 1252.9 L2047.2 1252.9 L2047.2 1258.1 L2049.7 1258.1 L2049.7 1252.8 L2052.2 1252.8 L2052.2 1250.2 L2054.7 1250.2 L2054.7 1248.3 L2057.2 1248.3 L2057.2 1245.6 L2059.6 1245.6 L2059.6 1246.4 L2062.1 1246.4 L2062.1 1246.8 L2064.6 1246.8 L2064.6 1251.2 L2067.1 1251.2 L2067.1 1250.5 L2069.6 1250.5 L2069.6 1248.8 L2072.0 1248.8 L2072.0 1243.4 L2074.5 1243.4 L2074.5 1247.3 L2077.0 1247.3 L2077.0 1257.0 L2079.5 1257.0 L2079.5 1260.1 L2082.0 1260.1 L2082.0 1256.4 L2084.4 1256.4 L2084.4 1253.3 L2086.9 1253.3 L2086.9 1249.7 L2089.4 1249.7 L2089.4 1246.3 L2091.9 1246.3 L2091.9 1249.0 L2094.4 1249.0 L2094.4 1253.7 L2096.8 1253.7 L2096.8 1253.6 L2099.3 1253.6 L2099.3 1255.0 L2101.8 1255.0 L2101.8 1255.1 L2104.3 1255.1 L2104.3 1259.0 L2106.8 1259.0 L2106.8 1259.7 L2109.2 1259.7 L2109.2 1261.5 L2111.7 1261.5 L2111.7 1261.3 L2114.2 1261.3 L2114.2 1260.0 L2116.7 1260.0 L2116.7 1258.1 L2119.2 1258.1 L2119.2 1253.6 L2121.6 1253.6 L2121.6 1252.4 L2124.1 1252.4 L2124.1 1250.8 L2126.6 1250.8 L2126.6 1241.2 L2129.1 1241.2 L2129.1 1227.9 L2131.6 1227.9 L2131.6 1225.7 L2134.0 1225.7 L2134.0 1224.1 L2136.5 1224.1 L2136.5 1225.4 L2139.0 1225.4 L2139.0 1225.6 L2141.5 1225.6 L2141.5 1222.9 L2144.0 1222.9 L2144.0 1219.5 L2146.4 1219.5 L2146.4 1222.0 L2148.9 1222.0 L2148.9 1225.9 L2151.4 1225.9 L2151.4 1225.9 L2153.9 1225.9 L2153.9 1225.6 L2156.4 1225.6 L2156.4 1225.9 L2158.8 1225.9 L2158.8 1225.5 L2161.3 1225.5 L2161.3 1226.8 L2163.8 1226.8 L2163.8 1226.0 L2166.3 1226.0 L2166.3 1224.4 L2168.8 1224.4 L2168.8 1223.8 L2171.2 1223.8 L2171.2 1226.1 L2173.7 1226.1 L2173.7 1230.1 L2176.2 1230.1 L2176.2 1230.8 L2178.7 1230.8 L2178.7 1233.6 L2181.2 1233.6 L2181.2 1237.0 L2183.6 1237.0 L2183.6 1239.9 L2186.1 1239.9 L2186.1 1240.5 L2188.6 1240.5 L2188.6 1242.8 L2191.1 1242.8 L2191.1 1240.1 L2193.6 1240.1 L2193.6 1236.1 L2196.0 1236.1 L2196.0 1240.6 L2198.5 1240.6 L2198.5 1240.9 L2201.0 1240.9 L2201.0 1239.3 L2203.5 1239.3 L2203.5 1236.1 L2206.0 1236.1 L2206.0 1240.2 L2208.4 1240.2 L2208.4 1241.0 L2210.9 1241.0 L2210.9 1242.6 L2213.4 1242.6 L2213.4 1248.0 L2215.9 1248.0 L2215.9 1246.2 L2218.4 1246.2 L2218.4 1244.0 L2220.8 1244.0 L2220.8 1244.3 L2223.3 1244.3 L2223.3 1245.4 L2225.8 1245.4 L2225.8 1244.6 L2228.3 1244.6 L2228.3 1242.3 L2230.8 1242.3 L2230.8 1242.2 L2233.2 1242.2 L2233.2 1244.4 L2235.7 1244.4 L2235.7 1248.1 L2238.2 1248.1 L2238.2 1254.7 L2240.7 1254.7 L2240.7 1265.6 L2243.2 1265.6 L2243.2 1262.0 L2245.6 1262.0 L2245.6 1258.5 L2248.1 1258.5 L2248.1 1258.9 L2250.6 1258.9 L2250.6 1259.0 L2253.1 1259.0 L2253.1 1256.8 L2255.6 1256.8 L2255.6 1255.0 L2258.0 1255.0 L2258.0 1253.1 L2260.5 1253.1 L2260.5 1253.0 L2263.0 1253.0 L2263.0 1251.6 L2265.5 1251.6 L2265.5 1245.3 L2268.0 1245.3 L2268.0 1243.4 L2270.4 1243.4 L2270.4 1241.7 L2272.9 1241.7 L2272.9 1242.2 L2275.4 1242.2 L2275.4 1241.3 L2277.9 1241.3 L2277.9 1242.8 L2280.4 1242.8 L2280.4 1240.8 L2282.8 1240.8 L2282.8 1241.0 L2285.3 1241.0 L2285.3 1241.9 L2287.8 1241.9 L2287.8 1242.8 L2290.3 1242.8 L2290.3 1255.9 L2292.8 1255.9 L2292.8 1252.4 L2295.2 1252.4 L2295.2 1250.9 L2297.7 1250.9 L2297.7 1250.0 L2300.2 1250.0 L2300.2 1248.9 L2302.7 1248.9 L2302.7 1249.4 L2305.2 1249.4 L2305.2 1250.8 L2307.6 1250.8 L2307.6 1254.9 L2310.1 1254.9 L2310.1 1258.3 L2312.6 1258.3 L2312.6 1264.0 L2315.1 1264.0 L2315.1 1269.9 L2317.6 1269.9 L2317.6 1286.1 L2320.0 1286.1 L2320.0 1285.7 L2322.5 1285.7 L2322.5 1288.5 L2325.0 1288.5 L2325.0 1281.8 L2327.5 1281.8 L2327.5 1276.2 L2330.0 1276.2 L2330.0 1279.3 L2332.4 1279.3 L2332.4 1276.2 L2334.9 1276.2 L2334.9 1279.1 L2337.4 1279.1 L2337.4 1272.9 L2339.9 1272.9 L2339.9 1274.1 L2342.4 1274.1 L2342.4 1278.5 L2344.8 1278.5 L2344.8 1279.5 L2347.3 1279.5 L2347.3 1277.4 L2349.8 1277.4 L2349.8 1276.9 L2352.3 1276.9 L2352.3 1277.3 L2354.8 1277.3 L2354.8 1279.4 L2357.2 1279.4 L2357.2 1278.0 L2359.7 1278.0 L2359.7 1278.1 L2362.2 1278.1 L2362.2 1273.3 L2364.7 1273.3 L2364.7 1271.7 L2367.2 1271.7 L2367.2 1271.0 L2369.6 1271.0 L2369.6 1273.6 L2372.1 1273.6 L2372.1 1278.9 L2374.6 1278.9 L2374.6 1281.4 L2377.1 1281.4 L2377.1 1281.6 L2379.6 1281.6 L2379.6 1283.8 L2382.0 1283.8 L2382.0 1284.8 L2384.5 1284.8 L2384.5 1283.0 L2387.0 1283.0 L2387.0 1281.2 L2389.5 1281.2 L2389.5 1283.7 L2392.0 1283.7 L2392.0 1288.5 L2394.4 1288.5 L2394.4 1287.3 L2396.9 1287.3 L2396.9 1290.9 L2399.4 1290.9 L2399.4 1294.4 L2401.9 1294.4 L2401.9 1293.2 L2404.4 1293.2 L2404.4 1288.2 L2406.8 1288.2 L2406.8 1290.1 L2409.3 1290.1 L2409.3 1289.4 L2411.8 1289.4 L2411.8 1287.8 L2414.3 1287.8 L2414.3 1284.2 L2416.8 1284.2 L2416.8 1285.1 L2419.2 1285.1 L2419.2 1289.9 L2421.7 1289.9 L2421.7 1290.8 L2424.2 1290.8 L2424.2 1289.8 L2426.7 1289.8 L2426.7 1288.6 L2429.2 1288.6 L2429.2 1286.7 L2431.6 1286.7 L2431.6 1279.2 L2434.1 1279.2 L2434.1 1279.7 L2436.6 1279.7 L2436.6 1276.4 L2439.1 1276.4 L2439.1 1276.7 L2441.6 1276.7 L2441.6 1279.8 L2444.0 1279.8 L2444.0 1278.4 L2446.5 1278.4 L2446.5 1278.1 L2449.0 1278.1 L2449.0 1275.8 L2451.5 1275.8 L2451.5 1275.3 L2454.0 1275.3 L2454.0 1275.6 L2456.4 1275.6 L2456.4 1278.0 L2458.9 1278.0 L2458.9 1280.1 L2461.4 1280.1 L2461.4 1283.8 L2463.9 1283.8 L2463.9 1289.4 L2466.4 1289.4 L2466.4 1289.8 L2468.8 1289.8 L2468.8 1287.2 L2471.3 1287.2 L2471.3 1285.3 L2473.8 1285.3 L2473.8 1283.1 L2476.3 1283.1 L2476.3 1285.1 L2478.8 1285.1 L2478.8 1285.0 L2481.2 1285.0 L2481.2 1288.6 L2483.7 1288.6 L2483.7 1288.6 L2486.2 1288.6 L2486.2 1284.5 L2488.7 1284.5 L2488.7 1284.2 L2491.2 1284.2 L2491.2 1280.9 L2493.6 1280.9 L2493.6 1278.0 L2496.1 1278.0 L2496.1 1278.1 L2498.6 1278.1 L2498.6 1275.4 L2501.1 1275.4 L2501.1 1275.8 L2503.6 1275.8 L2503.6 1274.6 L2506.0 1274.6 L2506.0 1273.7 L2508.5 1273.7 L2508.5 1276.1 L2511.0 1276.1 L2511.0 1277.0 L2513.5 1277.0 L2513.5 1280.0 L2516.0 1280.0 L2516.0 1281.5 L2518.4 1281.5 L2518.4 1284.1 L2520.9 1284.1 L2520.9 1285.0 L2523.4 1285.0 L2523.4 1283.0 L2525.9 1283.0 L2525.9 1280.6 L2528.4 1280.6 L2528.4 1278.1 L2530.8 1278.1 L2530.8 1274.4 L2533.3 1274.4 L2533.3 1276.1 L2535.8 1276.1 L2535.8 1281.8 L2538.3 1281.8 L2538.3 1282.9 L2540.8 1282.9 L2540.8 1283.7 L2543.2 1283.7 L2543.2 1286.5 L2545.7 1286.5 L2545.7 1286.5 L2548.2 1286.5 L2548.2 1278.5 L2550.7 1278.5 L2550.7 1270.7 L2553.2 1270.7 L2553.2 1264.7 L2555.6 1264.7 L2555.6 1261.1 L2558.1 1261.1 L2558.1 1253.3 L2560.6 1253.3 L2560.6 1250.5 L2563.1 1250.5 L2563.1 1250.1 L2565.6 1250.1 L2565.6 1251.6 L2568.0 1251.6 L2568.0 1256.7 L2570.5 1256.7 L2570.5 1261.4 L2573.0 1261.4 L2573.0 1257.5 L2575.5 1257.5 L2575.5 1260.3 L2578.0 1260.3 L2578.0 1259.9 L2580.4 1259.9 L2580.4 1259.5 L2582.9 1259.5 L2582.9 1261.4 L2585.4 1261.4 L2585.4 1262.3 L2587.9 1262.3 L2587.9 1253.8 L2590.4 1253.8 L2590.4 1252.7 L2592.8 1252.7 L2592.8 1246.8 L2595.3 1246.8 L2595.3 1252.7 L2597.8 1252.7 L2597.8 1254.5 L2600.3 1254.5 L2600.3 1248.5 L2602.8 1248.5 L2602.8 1243.9 L2605.2 1243.9 L2605.2 1244.0 L2607.7 1244.0 L2607.7 1240.4 L2610.2 1240.4 L2610.2 1240.4 L2612.7 1240.4 L2612.7 1243.3 L2615.2 1243.3 L2615.2 1244.4 L2617.6 1244.4 L2617.6 1238.1 L2620.1 1238.1 L2620.1 1233.0 L2622.6 1233.0 L2622.6 1229.8 L2625.1 1229.8 L2625.1 1230.2 L2627.6 1230.2 L2627.6 1232.1 L2630.0 1232.1 L2630.0 1235.2 L2632.5 1235.2 L2632.5 1247.4 L2635.0 1247.4 L2635.0 1248.1 L2637.5 1248.1 L2637.5 1237.9 L2640.0 1237.9 L2640.0 1236.5 L2642.4 1236.5 L2642.4 1238.3 L2644.9 1238.3 L2644.9 1236.6 L2647.4 1236.6 L2647.4 1233.2 L2649.9 1233.2 L2649.9 1233.7 L2652.4 1233.7 L2652.4 1241.8 L2654.8 1241.8 L2654.8 1252.3 L2657.3 1252.3 L2657.3 1261.4 L2659.8 1261.4 L2659.8 1257.6 L2662.3 1257.6 L2662.3 1263.7 L2664.8 1263.7 L2664.8 1260.1 L2667.2 1260.1 L2667.2 1257.8 L2669.7 1257.8 L2669.7 1258.1 L2672.2 1258.1 L2672.2 1260.0 L2674.7 1260.0 L2674.7 1261.9 L2677.2 1261.9 L2677.2 1259.9 L2679.6 1259.9 L2679.6 1259.4 L2682.1 1259.4 L2682.1 1259.4 L2684.6 1259.4 L2684.6 1258.5 L2687.1 1258.5 L2687.1 1259.5 L2689.6 1259.5 L2689.6 1259.0 L2692.0 1259.0 L2692.0 1254.6 L2694.5 1254.6 L2694.5 1250.9 L2697.0 1250.9 L2697.0 1249.7 L2699.5 1249.7 L2699.5 1247.2 L2702.0 1247.2 L2702.0 1250.0 L2704.4 1250.0 L2704.4 1258.2 L2706.9 1258.2 L2706.9 1262.3 L2709.4 1262.3 L2709.4 1265.1 L2711.9 1265.1 L2711.9 1265.5 L2714.4 1265.5 L2714.4 1263.6 L2716.8 1263.6 L2716.8 1269.0 L2719.3 1269.0 L2719.3 1269.3 L2721.8 1269.3 L2721.8 1262.3 L2724.3 1262.3 L2724.3 1259.6 L2726.8 1259.6 L2726.8 1259.4 L2729.2 1259.4 L2729.2 1257.8 L2731.7 1257.8 L2731.7 1263.6 L2734.2 1263.6 L2734.2 1261.4 L2736.7 1261.4 L2736.7 1262.6 L2739.2 1262.6 L2739.2 1264.0 L2741.6 1264.0 L2741.6 1265.7 L2744.1 1265.7 L2744.1 1262.8 L2746.6 1262.8 L2746.6 1264.0 L2749.1 1264.0 L2749.1 1263.9 L2751.6 1263.9 L2751.6 1272.2 L2754.0 1272.2 L2754.0 1271.9 L2756.5 1271.9 L2756.5 1271.8 L2759.0 1271.8 L2759.0 1266.8 L2761.5 1266.8 L2761.5 1264.9 L2764.0 1264.9 L2764.0 1264.0 L2766.4 1264.0 L2766.4 1272.4 L2768.9 1272.4 L2768.9 1290.5 L2771.4 1290.5 L2771.4 1283.6 L2773.9 1283.6 L2773.9 1283.9 L2776.4 1283.9 L2776.4 1281.4 L2778.8 1281.4 L2778.8 1284.2 L2781.3 1284.2 L2781.3 1288.3 L2783.8 1288.3 L2783.8 1289.5 L2786.3 1289.5 L2786.3 1286.5 L2788.8 1286.5 L2788.8 1286.0 L2791.2 1286.0 L2791.2 1285.8 L2793.7 1285.8 L2793.7 1283.7 L2796.2 1283.7 L2796.2 1281.6 L2798.7 1281.6 L2798.7 1283.6 L2801.2 1283.6 L2801.2 1284.0 L2803.6 1284.0 L2803.6 1281.9 L2806.1 1281.9 L2806.1 1283.9 L2808.6 1283.9 L2808.6 1285.7 L2811.1 1285.7 L2811.1 1287.2 L2813.6 1287.2 L2813.6 1283.7 L2816.0 1283.7 L2816.0 1280.6 L2818.5 1280.6 L2818.5 1280.4 L2821.0 1280.4 L2821.0 1284.2 L2823.5 1284.2 L2823.5 1290.5 L2826.0 1290.5 L2826.0 1295.5 L2828.4 1295.5 L2828.4 1297.2 L2830.9 1297.2 L2830.9 1302.4 L2833.4 1302.4 L2833.4 1303.4 L2835.9 1303.4 L2835.9 1295.4 L2838.4 1295.4 L2838.4 1293.6 L2840.8 1293.6 L2840.8 1305.8 L2843.3 1305.8 L2843.3 1301.4 L2845.8 1301.4 L2845.8 1301.1 L2848.3 1301.1 L2848.3 1303.5 L2850.8 1303.5 L2850.8 1303.2 L2853.2 1303.2 L2853.2 1302.8 L2855.7 1302.8 L2855.7 1306.8 L2858.2 1306.8 L2858.2 1306.8 Z" fill="#769dfc" stroke="none"/>
<path d="M341.0 1306.8 L341.0 1306.8 L343.5 1306.8 L343.5 1306.8 L346.0 1306.8 L346.0 1306.8 L348.4 1306.8 L348.4 1306.8 L350.9 1306.8 L350.9 1306.8 L353.4 1306.8 L353.4 1306.8 L355.9 1306.8 L355.9 1306.8 L358.4 1306.8 L358.4 1306.8 L360.8 1306.8 L360.8 1306.8 L363.3 1306.8 L363.3 1306.8 L365.8 1306.8 L365.8 1311.5 L368.3 1311.5 L368.3 1321.9 L370.8 1321.9 L370.8 1330.4 L373.2 1330.4 L373.2 1334.3 L375.7 1334.3 L375.7 1336.5 L378.2 1336.5 L378.2 1335.2 L380.7 1335.2 L380.7 1335.9 L383.2 1335.9 L383.2 1338.9 L385.6 1338.9 L385.6 1341.4 L388.1 1341.4 L388.1 1334.7 L390.6 1334.7 L390.6 1333.5 L393.1 1333.5 L393.1 1335.1 L395.6 1335.1 L395.6 1334.7 L398.0 1334.7 L398.0 1331.9 L400.5 1331.9 L400.5 1328.5 L403.0 1328.5 L403.0 1328.0 L405.5 1328.0 L405.5 1326.0 L408.0 1326.0 L408.0 1326.2 L410.4 1326.2 L410.4 1328.9 L412.9 1328.9 L412.9 1333.7 L415.4 1333.7 L415.4 1335.9 L417.9 1335.9 L417.9 1334.1 L420.4 1334.1 L420.4 1334.7 L422.8 1334.7 L422.8 1332.2 L425.3 1332.2 L425.3 1331.4 L427.8 1331.4 L427.8 1329.7 L430.3 1329.7 L430.3 1327.7 L432.8 1327.7 L432.8 1326.1 L435.2 1326.1 L435.2 1325.9 L437.7 1325.9 L437.7 1325.0 L440.2 1325.0 L440.2 1329.5 L442.7 1329.5 L442.7 1331.8 L445.2 1331.8 L445.2 1335.1 L447.6 1335.1 L447.6 1333.1 L450.1 1333.1 L450.1 1326.7 L452.6 1326.7 L452.6 1323.6 L455.1 1323.6 L455.1 1318.8 L457.6 1318.8 L457.6 1315.6 L460.0 1315.6 L460.0 1309.7 L462.5 1309.7 L462.5 1307.4 L465.0 1307.4 L465.0 1307.8 L467.5 1307.8 L467.5 1306.8 L470.0 1306.8 L470.0 1306.8 L472.4 1306.8 L472.4 1306.8 L474.9 1306.8 L474.9 1308.5 L477.4 1308.5 L477.4 1313.3 L479.9 1313.3 L479.9 1313.7 L482.4 1313.7 L482.4 1306.8 L484.8 1306.8 L484.8 1306.8 L487.3 1306.8 L487.3 1306.8 L489.8 1306.8 L489.8 1306.8 L492.3 1306.8 L492.3 1306.8 L494.8 1306.8 L494.8 1306.8 L497.2 1306.8 L497.2 1306.8 L499.7 1306.8 L499.7 1306.8 L502.2 1306.8 L502.2 1306.8 L504.7 1306.8 L504.7 1306.8 L507.2 1306.8 L507.2 1306.8 L509.6 1306.8 L509.6 1306.8 L512.1 1306.8 L512.1 1306.8 L514.6 1306.8 L514.6 1306.8 L517.1 1306.8 L517.1 1306.8 L519.6 1306.8 L519.6 1306.8 L522.0 1306.8 L522.0 1306.8 L524.5 1306.8 L524.5 1306.8 L527.0 1306.8 L527.0 1306.8 L529.5 1306.8 L529.5 1306.8 L532.0 1306.8 L532.0 1306.8 L534.4 1306.8 L534.4 1306.8 L536.9 1306.8 L536.9 1306.8 L539.4 1306.8 L539.4 1306.8 L541.9 1306.8 L541.9 1306.8 L544.4 1306.8 L544.4 1306.8 L546.8 1306.8 L546.8 1306.8 L549.3 1306.8 L549.3 1306.8 L551.8 1306.8 L551.8 1306.8 L554.3 1306.8 L554.3 1306.8 L556.8 1306.8 L556.8 1306.8 L559.2 1306.8 L559.2 1310.2 L561.7 1310.2 L561.7 1311.8 L564.2 1311.8 L564.2 1309.9 L566.7 1309.9 L566.7 1306.8 L569.2 1306.8 L569.2 1307.0 L571.6 1307.0 L571.6 1306.8 L574.1 1306.8 L574.1 1306.8 L576.6 1306.8 L576.6 1306.8 L579.1 1306.8 L579.1 1306.8 L581.6 1306.8 L581.6 1306.8 L584.0 1306.8 L584.0 1306.8 L586.5 1306.8 L586.5 1306.8 L589.0 1306.8 L589.0 1306.8 L591.5 1306.8 L591.5 1306.8 L594.0 1306.8 L594.0 1306.8 L596.4 1306.8 L596.4 1306.8 L598.9 1306.8 L598.9 1306.8 L601.4 1306.8 L601.4 1306.8 L603.9 1306.8 L603.9 1306.8 L606.4 1306.8 L606.4 1307.8 L608.8 1307.8 L608.8 1311.7 L611.3 1311.7 L611.3 1312.3 L613.8 1312.3 L613.8 1315.1 L616.3 1315.1 L616.3 1316.3 L618.8 1316.3 L618.8 1318.9 L621.2 1318.9 L621.2 1320.3 L623.7 1320.3 L623.7 1320.1 L626.2 1320.1 L626.2 1318.7 L628.7 1318.7 L628.7 1319.7 L631.2 1319.7 L631.2 1318.4 L633.6 1318.4 L633.6 1316.2 L636.1 1316.2 L636.1 1317.4 L638.6 1317.4 L638.6 1318.8 L641.1 1318.8 L641.1 1315.0 L643.6 1315.0 L643.6 1317.4 L646.0 1317.4 L646.0 1317.2 L648.5 1317.2 L648.5 1318.9 L651.0 1318.9 L651.0 1316.1 L653.5 1316.1 L653.5 1315.4 L656.0 1315.4 L656.0 1314.3 L658.4 1314.3 L658.4 1316.4 L660.9 1316.4 L660.9 1318.1 L663.4 1318.1 L663.4 1317.6 L665.9 1317.6 L665.9 1318.5 L668.4 1318.5 L668.4 1319.0 L670.8 1319.0 L670.8 1319.2 L673.3 1319.2 L673.3 1321.1 L675.8 1321.1 L675.8 1317.8 L678.3 1317.8 L678.3 1317.2 L680.8 1317.2 L680.8 1319.4 L683.2 1319.4 L683.2 1317.3 L685.7 1317.3 L685.7 1317.2 L688.2 1317.2 L688.2 1317.2 L690.7 1317.2 L690.7 1320.8 L693.2 1320.8 L693.2 1320.7 L695.6 1320.7 L695.6 1318.9 L698.1 1318.9 L698.1 1319.2 L700.6 1319.2 L700.6 1316.4 L703.1 1316.4 L703.1 1312.3 L705.6 1312.3 L705.6 1306.8 L708.0 1306.8 L708.0 1306.8 L710.5 1306.8 L710.5 1307.4 L713.0 1307.4 L713.0 1306.8 L715.5 1306.8 L715.5 1306.8 L718.0 1306.8 L718.0 1306.8 L720.4 1306.8 L720.4 1306.8 L722.9 1306.8 L722.9 1306.8 L725.4 1306.8 L725.4 1307.4 L727.9 1307.4 L727.9 1306.8 L730.4 1306.8 L730.4 1306.8 L732.8 1306.8 L732.8 1306.8 L735.3 1306.8 L735.3 1306.8 L737.8 1306.8 L737.8 1306.8 L740.3 1306.8 L740.3 1311.3 L742.8 1311.3 L742.8 1322.2 L745.2 1322.2 L745.2 1318.7 L747.7 1318.7 L747.7 1319.8 L750.2 1319.8 L750.2 1323.0 L752.7 1323.0 L752.7 1319.5 L755.2 1319.5 L755.2 1320.0 L757.6 1320.0 L757.6 1321.6 L760.1 1321.6 L760.1 1322.4 L762.6 1322.4 L762.6 1322.1 L765.1 1322.1 L765.1 1321.1 L767.6 1321.1 L767.6 1322.9 L770.0 1322.9 L770.0 1325.8 L772.5 1325.8 L772.5 1328.1 L775.0 1328.1 L775.0 1326.9 L777.5 1326.9 L777.5 1322.7 L780.0 1322.7 L780.0 1322.1 L782.4 1322.1 L782.4 1320.8 L784.9 1320.8 L784.9 1320.7 L787.4 1320.7 L787.4 1321.3 L789.9 1321.3 L789.9 1320.1 L792.4 1320.1 L792.4 1319.6 L794.8 1319.6 L794.8 1317.5 L797.3 1317.5 L797.3 1315.7 L799.8 1315.7 L799.8 1317.7 L802.3 1317.7 L802.3 1317.8 L804.8 1317.8 L804.8 1316.3 L807.2 1316.3 L807.2 1317.1 L809.7 1317.1 L809.7 1317.8 L812.2 1317.8 L812.2 1318.4 L814.7 1318.4 L814.7 1317.5 L817.2 1317.5 L817.2 1317.5 L819.6 1317.5 L819.6 1316.9 L822.1 1316.9 L822.1 1318.6 L824.6 1318.6 L824.6 1317.2 L827.1 1317.2 L827.1 1314.3 L829.6 1314.3 L829.6 1315.4 L832.0 1315.4 L832.0 1317.9 L834.5 1317.9 L834.5 1323.0 L837.0 1323.0 L837.0 1321.7 L839.5 1321.7 L839.5 1320.5 L842.0 1320.5 L842.0 1322.2 L844.4 1322.2 L844.4 1322.4 L846.9 1322.4 L846.9 1321.0 L849.4 1321.0 L849.4 1319.0 L851.9 1319.0 L851.9 1319.6 L854.4 1319.6 L854.4 1319.2 L856.8 1319.2 L856.8 1318.7 L859.3 1318.7 L859.3 1319.3 L861.8 1319.3 L861.8 1321.0 L864.3 1321.0 L864.3 1321.0 L866.8 1321.0 L866.8 1321.0 L869.2 1321.0 L869.2 1319.4 L871.7 1319.4 L871.7 1322.6 L874.2 1322.6 L874.2 1319.6 L876.7 1319.6 L876.7 1320.1 L879.2 1320.1 L879.2 1319.8 L881.6 1319.8 L881.6 1317.9 L884.1 1317.9 L884.1 1317.9 L886.6 1317.9 L886.6 1315.0 L889.1 1315.0 L889.1 1315.8 L891.6 1315.8 L891.6 1314.8 L894.0 1314.8 L894.0 1312.2 L896.5 1312.2 L896.5 1310.5 L899.0 1310.5 L899.0 1310.5 L901.5 1310.5 L901.5 1306.8 L904.0 1306.8 L904.0 1306.8 L906.4 1306.8 L906.4 1306.8 L908.9 1306.8 L908.9 1306.8 L911.4 1306.8 L911.4 1306.8 L913.9 1306.8 L913.9 1306.8 L916.4 1306.8 L916.4 1306.8 L918.8 1306.8 L918.8 1306.8 L921.3 1306.8 L921.3 1306.8 L923.8 1306.8 L923.8 1306.8 L926.3 1306.8 L926.3 1306.8 L928.8 1306.8 L928.8 1306.8 L931.2 1306.8 L931.2 1306.8 L933.7 1306.8 L933.7 1306.8 L936.2 1306.8 L936.2 1306.8 L938.7 1306.8 L938.7 1306.8 L941.2 1306.8 L941.2 1306.8 L943.6 1306.8 L943.6 1306.8 L946.1 1306.8 L946.1 1306.8 L948.6 1306.8 L948.6 1306.8 L951.1 1306.8 L951.1 1306.8 L953.6 1306.8 L953.6 1306.8 L956.0 1306.8 L956.0 1306.8 L958.5 1306.8 L958.5 1306.8 L961.0 1306.8 L961.0 1306.8 L963.5 1306.8 L963.5 1306.8 L966.0 1306.8 L966.0 1306.8 L968.4 1306.8 L968.4 1306.8 L970.9 1306.8 L970.9 1306.8 L973.4 1306.8 L973.4 1306.8 L975.9 1306.8 L975.9 1306.8 L978.4 1306.8 L978.4 1306.8 L980.8 1306.8 L980.8 1306.8 L983.3 1306.8 L983.3 1306.8 L985.8 1306.8 L985.8 1306.8 L988.3 1306.8 L988.3 1306.8 L990.8 1306.8 L990.8 1306.8 L993.2 1306.8 L993.2 1306.8 L995.7 1306.8 L995.7 1306.8 L998.2 1306.8 L998.2 1306.8 L1000.7 1306.8 L1000.7 1306.8 L1003.2 1306.8 L1003.2 1306.8 L1005.6 1306.8 L1005.6 1306.8 L1008.1 1306.8 L1008.1 1306.8 L1010.6 1306.8 L1010.6 1306.8 L1013.1 1306.8 L1013.1 1306.8 L1015.6 1306.8 L1015.6 1306.8 L1018.0 1306.8 L1018.0 1306.8 L1020.5 1306.8 L1020.5 1306.8 L1023.0 1306.8 L1023.0 1306.8 L1025.5 1306.8 L1025.5 1306.8 L1028.0 1306.8 L1028.0 1306.8 L1030.4 1306.8 L1030.4 1306.8 L1032.9 1306.8 L1032.9 1306.8 L1035.4 1306.8 L1035.4 1306.8 L1037.9 1306.8 L1037.9 1306.8 L1040.4 1306.8 L1040.4 1309.7 L1042.8 1309.7 L1042.8 1312.6 L1045.3 1312.6 L1045.3 1308.2 L1047.8 1308.2 L1047.8 1306.8 L1050.3 1306.8 L1050.3 1306.8 L1052.8 1306.8 L1052.8 1306.8 L1055.2 1306.8 L1055.2 1306.8 L1057.7 1306.8 L1057.7 1306.8 L1060.2 1306.8 L1060.2 1306.8 L1062.7 1306.8 L1062.7 1306.8 L1065.2 1306.8 L1065.2 1306.8 L1067.6 1306.8 L1067.6 1306.8 L1070.1 1306.8 L1070.1 1306.8 L1072.6 1306.8 L1072.6 1306.8 L1075.1 1306.8 L1075.1 1306.8 L1077.6 1306.8 L1077.6 1306.8 L1080.0 1306.8 L1080.0 1306.8 L1082.5 1306.8 L1082.5 1306.8 L1085.0 1306.8 L1085.0 1306.8 L1087.5 1306.8 L1087.5 1306.8 L1090.0 1306.8 L1090.0 1306.8 L1092.4 1306.8 L1092.4 1306.8 L1094.9 1306.8 L1094.9 1306.8 L1097.4 1306.8 L1097.4 1306.8 L1099.9 1306.8 L1099.9 1306.8 L1102.4 1306.8 L1102.4 1306.8 L1104.8 1306.8 L1104.8 1306.8 L1107.3 1306.8 L1107.3 1306.8 L1109.8 1306.8 L1109.8 1306.8 L1112.3 1306.8 L1112.3 1306.8 L1114.8 1306.8 L1114.8 1306.8 L1117.2 1306.8 L1117.2 1306.8 L1119.7 1306.8 L1119.7 1306.8 L1122.2 1306.8 L1122.2 1306.8 L1124.7 1306.8 L1124.7 1306.8 L1127.2 1306.8 L1127.2 1306.8 L1129.6 1306.8 L1129.6 1306.8 L1132.1 1306.8 L1132.1 1306.8 L1134.6 1306.8 L1134.6 1306.8 L1137.1 1306.8 L1137.1 1306.8 L1139.6 1306.8 L1139.6 1306.8 L1142.0 1306.8 L1142.0 1306.8 L1144.5 1306.8 L1144.5 1306.8 L1147.0 1306.8 L1147.0 1306.8 L1149.5 1306.8 L1149.5 1306.8 L1152.0 1306.8 L1152.0 1306.8 L1154.4 1306.8 L1154.4 1306.8 L1156.9 1306.8 L1156.9 1306.8 L1159.4 1306.8 L1159.4 1306.8 L1161.9 1306.8 L1161.9 1306.8 L1164.4 1306.8 L1164.4 1306.8 L1166.8 1306.8 L1166.8 1306.8 L1169.3 1306.8 L1169.3 1306.8 L1171.8 1306.8 L1171.8 1306.8 L1174.3 1306.8 L1174.3 1306.8 L1176.8 1306.8 L1176.8 1306.8 L1179.2 1306.8 L1179.2 1306.8 L1181.7 1306.8 L1181.7 1306.8 L1184.2 1306.8 L1184.2 1306.8 L1186.7 1306.8 L1186.7 1306.8 L1189.2 1306.8 L1189.2 1306.8 L1191.6 1306.8 L1191.6 1306.8 L1194.1 1306.8 L1194.1 1306.8 L1196.6 1306.8 L1196.6 1306.8 L1199.1 1306.8 L1199.1 1306.8 L1201.6 1306.8 L1201.6 1306.8 L1204.0 1306.8 L1204.0 1306.8 L1206.5 1306.8 L1206.5 1306.8 L1209.0 1306.8 L1209.0 1306.8 L1211.5 1306.8 L1211.5 1306.8 L1214.0 1306.8 L1214.0 1306.8 L1216.4 1306.8 L1216.4 1306.8 L1218.9 1306.8 L1218.9 1306.8 L1221.4 1306.8 L1221.4 1306.8 L1223.9 1306.8 L1223.9 1306.8 L1226.4 1306.8 L1226.4 1306.8 L1228.8 1306.8 L1228.8 1306.8 L1231.3 1306.8 L1231.3 1306.8 L1233.8 1306.8 L1233.8 1306.8 L1236.3 1306.8 L1236.3 1306.8 L1238.8 1306.8 L1238.8 1306.8 L1241.2 1306.8 L1241.2 1306.8 L1243.7 1306.8 L1243.7 1306.8 L1246.2 1306.8 L1246.2 1306.8 L1248.7 1306.8 L1248.7 1306.8 L1251.2 1306.8 L1251.2 1306.8 L1253.6 1306.8 L1253.6 1306.8 L1256.1 1306.8 L1256.1 1306.8 L1258.6 1306.8 L1258.6 1306.8 L1261.1 1306.8 L1261.1 1306.8 L1263.6 1306.8 L1263.6 1306.8 L1266.0 1306.8 L1266.0 1306.8 L1268.5 1306.8 L1268.5 1306.8 L1271.0 1306.8 L1271.0 1306.8 L1273.5 1306.8 L1273.5 1306.8 L1276.0 1306.8 L1276.0 1306.8 L1278.4 1306.8 L1278.4 1306.8 L1280.9 1306.8 L1280.9 1306.8 L1283.4 1306.8 L1283.4 1306.8 L1285.9 1306.8 L1285.9 1306.8 L1288.4 1306.8 L1288.4 1306.8 L1290.8 1306.8 L1290.8 1306.8 L1293.3 1306.8 L1293.3 1306.8 L1295.8 1306.8 L1295.8 1306.8 L1298.3 1306.8 L1298.3 1306.8 L1300.8 1306.8 L1300.8 1306.8 L1303.2 1306.8 L1303.2 1306.8 L1305.7 1306.8 L1305.7 1306.8 L1308.2 1306.8 L1308.2 1306.8 L1310.7 1306.8 L1310.7 1306.8 L1313.2 1306.8 L1313.2 1306.8 L1315.6 1306.8 L1315.6 1306.8 L1318.1 1306.8 L1318.1 1306.8 L1320.6 1306.8 L1320.6 1306.8 L1323.1 1306.8 L1323.1 1306.8 L1325.6 1306.8 L1325.6 1306.8 L1328.0 1306.8 L1328.0 1306.8 L1330.5 1306.8 L1330.5 1306.8 L1333.0 1306.8 L1333.0 1306.8 L1335.5 1306.8 L1335.5 1306.8 L1338.0 1306.8 L1338.0 1306.8 L1340.4 1306.8 L1340.4 1306.8 L1342.9 1306.8 L1342.9 1306.8 L1345.4 1306.8 L1345.4 1306.8 L1347.9 1306.8 L1347.9 1306.8 L1350.4 1306.8 L1350.4 1306.8 L1352.8 1306.8 L1352.8 1306.8 L1355.3 1306.8 L1355.3 1306.8 L1357.8 1306.8 L1357.8 1306.8 L1360.3 1306.8 L1360.3 1306.8 L1362.8 1306.8 L1362.8 1306.8 L1365.2 1306.8 L1365.2 1306.8 L1367.7 1306.8 L1367.7 1306.8 L1370.2 1306.8 L1370.2 1306.8 L1372.7 1306.8 L1372.7 1306.8 L1375.2 1306.8 L1375.2 1306.8 L1377.6 1306.8 L1377.6 1306.8 L1380.1 1306.8 L1380.1 1306.8 L1382.6 1306.8 L1382.6 1306.8 L1385.1 1306.8 L1385.1 1306.8 L1387.6 1306.8 L1387.6 1306.8 L1390.0 1306.8 L1390.0 1306.8 L1392.5 1306.8 L1392.5 1306.8 L1395.0 1306.8 L1395.0 1306.8 L1397.5 1306.8 L1397.5 1306.8 L1400.0 1306.8 L1400.0 1306.8 L1402.4 1306.8 L1402.4 1306.8 L1404.9 1306.8 L1404.9 1306.8 L1407.4 1306.8 L1407.4 1306.8 L1409.9 1306.8 L1409.9 1306.8 L1412.4 1306.8 L1412.4 1306.8 L1414.8 1306.8 L1414.8 1306.8 L1417.3 1306.8 L1417.3 1306.8 L1419.8 1306.8 L1419.8 1306.8 L1422.3 1306.8 L1422.3 1306.8 L1424.8 1306.8 L1424.8 1306.8 L1427.2 1306.8 L1427.2 1306.8 L1429.7 1306.8 L1429.7 1306.8 L1432.2 1306.8 L1432.2 1306.8 L1434.7 1306.8 L1434.7 1306.8 L1437.2 1306.8 L1437.2 1306.8 L1439.6 1306.8 L1439.6 1306.8 L1442.1 1306.8 L1442.1 1306.8 L1444.6 1306.8 L1444.6 1306.8 L1447.1 1306.8 L1447.1 1306.8 L1449.6 1306.8 L1449.6 1306.8 L1452.0 1306.8 L1452.0 1306.8 L1454.5 1306.8 L1454.5 1306.8 L1457.0 1306.8 L1457.0 1306.8 L1459.5 1306.8 L1459.5 1306.8 L1462.0 1306.8 L1462.0 1306.8 L1464.4 1306.8 L1464.4 1306.8 L1466.9 1306.8 L1466.9 1306.8 L1469.4 1306.8 L1469.4 1306.8 L1471.9 1306.8 L1471.9 1306.8 L1474.4 1306.8 L1474.4 1306.8 L1476.8 1306.8 L1476.8 1306.8 L1479.3 1306.8 L1479.3 1306.8 L1481.8 1306.8 L1481.8 1306.8 L1484.3 1306.8 L1484.3 1306.8 L1486.8 1306.8 L1486.8 1306.8 L1489.2 1306.8 L1489.2 1306.8 L1491.7 1306.8 L1491.7 1306.8 L1494.2 1306.8 L1494.2 1306.8 L1496.7 1306.8 L1496.7 1306.8 L1499.2 1306.8 L1499.2 1306.8 L1501.6 1306.8 L1501.6 1306.8 L1504.1 1306.8 L1504.1 1306.8 L1506.6 1306.8 L1506.6 1306.8 L1509.1 1306.8 L1509.1 1306.8 L1511.6 1306.8 L1511.6 1306.8 L1514.0 1306.8 L1514.0 1306.8 L1516.5 1306.8 L1516.5 1306.8 L1519.0 1306.8 L1519.0 1306.8 L1521.5 1306.8 L1521.5 1306.8 L1524.0 1306.8 L1524.0 1306.8 L1526.4 1306.8 L1526.4 1306.8 L1528.9 1306.8 L1528.9 1306.8 L1531.4 1306.8 L1531.4 1306.8 L1533.9 1306.8 L1533.9 1306.8 L1536.4 1306.8 L1536.4 1306.8 L1538.8 1306.8 L1538.8 1306.8 L1541.3 1306.8 L1541.3 1306.8 L1543.8 1306.8 L1543.8 1306.8 L1546.3 1306.8 L1546.3 1306.8 L1548.8 1306.8 L1548.8 1306.8 L1551.2 1306.8 L1551.2 1306.8 L1553.7 1306.8 L1553.7 1306.8 L1556.2 1306.8 L1556.2 1306.8 L1558.7 1306.8 L1558.7 1306.8 L1561.2 1306.8 L1561.2 1306.8 L1563.6 1306.8 L1563.6 1306.8 L1566.1 1306.8 L1566.1 1306.8 L1568.6 1306.8 L1568.6 1306.8 L1571.1 1306.8 L1571.1 1306.8 L1573.6 1306.8 L1573.6 1306.8 L1576.0 1306.8 L1576.0 1306.8 L1578.5 1306.8 L1578.5 1306.8 L1581.0 1306.8 L1581.0 1306.8 L1583.5 1306.8 L1583.5 1306.8 L1586.0 1306.8 L1586.0 1306.8 L1588.4 1306.8 L1588.4 1306.8 L1590.9 1306.8 L1590.9 1306.8 L1593.4 1306.8 L1593.4 1306.8 L1595.9 1306.8 L1595.9 1306.8 L1598.4 1306.8 L1598.4 1306.8 L1600.8 1306.8 L1600.8 1306.8 L1603.3 1306.8 L1603.3 1306.8 L1605.8 1306.8 L1605.8 1306.8 L1608.3 1306.8 L1608.3 1306.8 L1610.8 1306.8 L1610.8 1306.8 L1613.2 1306.8 L1613.2 1306.8 L1615.7 1306.8 L1615.7 1306.8 L1618.2 1306.8 L1618.2 1306.8 L1620.7 1306.8 L1620.7 1306.8 L1623.2 1306.8 L1623.2 1306.8 L1625.6 1306.8 L1625.6 1306.8 L1628.1 1306.8 L1628.1 1306.8 L1630.6 1306.8 L1630.6 1306.8 L1633.1 1306.8 L1633.1 1306.8 L1635.6 1306.8 L1635.6 1306.8 L1638.0 1306.8 L1638.0 1306.8 L1640.5 1306.8 L1640.5 1306.8 L1643.0 1306.8 L1643.0 1306.8 L1645.5 1306.8 L1645.5 1306.8 L1648.0 1306.8 L1648.0 1306.8 L1650.4 1306.8 L1650.4 1306.8 L1652.9 1306.8 L1652.9 1306.8 L1655.4 1306.8 L1655.4 1306.8 L1657.9 1306.8 L1657.9 1306.8 L1660.4 1306.8 L1660.4 1306.8 L1662.8 1306.8 L1662.8 1306.8 L1665.3 1306.8 L1665.3 1306.8 L1667.8 1306.8 L1667.8 1306.8 L1670.3 1306.8 L1670.3 1306.8 L1672.8 1306.8 L1672.8 1306.8 L1675.2 1306.8 L1675.2 1306.8 L1677.7 1306.8 L1677.7 1306.8 L1680.2 1306.8 L1680.2 1306.8 L1682.7 1306.8 L1682.7 1306.8 L1685.2 1306.8 L1685.2 1306.8 L1687.6 1306.8 L1687.6 1306.8 L1690.1 1306.8 L1690.1 1306.8 L1692.6 1306.8 L1692.6 1306.8 L1695.1 1306.8 L1695.1 1306.8 L1697.6 1306.8 L1697.6 1306.8 L1700.0 1306.8 L1700.0 1306.8 L1702.5 1306.8 L1702.5 1306.8 L1705.0 1306.8 L1705.0 1306.8 L1707.5 1306.8 L1707.5 1306.8 L1710.0 1306.8 L1710.0 1306.8 L1712.4 1306.8 L1712.4 1306.8 L1714.9 1306.8 L1714.9 1306.8 L1717.4 1306.8 L1717.4 1306.8 L1719.9 1306.8 L1719.9 1306.8 L1722.4 1306.8 L1722.4 1306.8 L1724.8 1306.8 L1724.8 1306.8 L1727.3 1306.8 L1727.3 1306.8 L1729.8 1306.8 L1729.8 1306.8 L1732.3 1306.8 L1732.3 1306.8 L1734.8 1306.8 L1734.8 1306.8 L1737.2 1306.8 L1737.2 1306.8 L1739.7 1306.8 L1739.7 1306.8 L1742.2 1306.8 L1742.2 1306.8 L1744.7 1306.8 L1744.7 1306.8 L1747.2 1306.8 L1747.2 1306.8 L1749.6 1306.8 L1749.6 1306.8 L1752.1 1306.8 L1752.1 1306.8 L1754.6 1306.8 L1754.6 1306.8 L1757.1 1306.8 L1757.1 1306.8 L1759.6 1306.8 L1759.6 1306.8 L1762.0 1306.8 L1762.0 1306.8 L1764.5 1306.8 L1764.5 1306.8 L1767.0 1306.8 L1767.0 1306.8 L1769.5 1306.8 L1769.5 1306.8 L1772.0 1306.8 L1772.0 1306.8 L1774.4 1306.8 L1774.4 1306.8 L1776.9 1306.8 L1776.9 1306.8 L1779.4 1306.8 L1779.4 1306.8 L1781.9 1306.8 L1781.9 1306.8 L1784.4 1306.8 L1784.4 1306.8 L1786.8 1306.8 L1786.8 1306.8 L1789.3 1306.8 L1789.3 1306.8 L1791.8 1306.8 L1791.8 1306.8 L1794.3 1306.8 L1794.3 1306.8 L1796.8 1306.8 L1796.8 1306.8 L1799.2 1306.8 L1799.2 1306.8 L1801.7 1306.8 L1801.7 1306.8 L1804.2 1306.8 L1804.2 1306.8 L1806.7 1306.8 L1806.7 1306.8 L1809.2 1306.8 L1809.2 1306.8 L1811.6 1306.8 L1811.6 1306.8 L1814.1 1306.8 L1814.1 1306.8 L1816.6 1306.8 L1816.6 1306.8 L1819.1 1306.8 L1819.1 1306.8 L1821.6 1306.8 L1821.6 1306.8 L1824.0 1306.8 L1824.0 1306.8 L1826.5 1306.8 L1826.5 1306.8 L1829.0 1306.8 L1829.0 1306.8 L1831.5 1306.8 L1831.5 1306.8 L1834.0 1306.8 L1834.0 1306.8 L1836.4 1306.8 L1836.4 1306.8 L1838.9 1306.8 L1838.9 1306.8 L1841.4 1306.8 L1841.4 1306.8 L1843.9 1306.8 L1843.9 1306.8 L1846.4 1306.8 L1846.4 1306.8 L1848.8 1306.8 L1848.8 1306.8 L1851.3 1306.8 L1851.3 1306.8 L1853.8 1306.8 L1853.8 1306.8 L1856.3 1306.8 L1856.3 1306.8 L1858.8 1306.8 L1858.8 1306.8 L1861.2 1306.8 L1861.2 1306.8 L1863.7 1306.8 L1863.7 1306.8 L1866.2 1306.8 L1866.2 1306.8 L1868.7 1306.8 L1868.7 1306.8 L1871.2 1306.8 L1871.2 1306.8 L1873.6 1306.8 L1873.6 1306.8 L1876.1 1306.8 L1876.1 1306.8 L1878.6 1306.8 L1878.6 1306.8 L1881.1 1306.8 L1881.1 1306.8 L1883.6 1306.8 L1883.6 1306.8 L1886.0 1306.8 L1886.0 1306.8 L1888.5 1306.8 L1888.5 1306.8 L1891.0 1306.8 L1891.0 1306.8 L1893.5 1306.8 L1893.5 1306.8 L1896.0 1306.8 L1896.0 1306.8 L1898.4 1306.8 L1898.4 1306.8 L1900.9 1306.8 L1900.9 1306.8 L1903.4 1306.8 L1903.4 1306.8 L1905.9 1306.8 L1905.9 1306.8 L1908.4 1306.8 L1908.4 1306.8 L1910.8 1306.8 L1910.8 1306.8 L1913.3 1306.8 L1913.3 1306.8 L1915.8 1306.8 L1915.8 1306.8 L1918.3 1306.8 L1918.3 1306.8 L1920.8 1306.8 L1920.8 1306.8 L1923.2 1306.8 L1923.2 1306.8 L1925.7 1306.8 L1925.7 1306.8 L1928.2 1306.8 L1928.2 1306.8 L1930.7 1306.8 L1930.7 1306.8 L1933.2 1306.8 L1933.2 1306.8 L1935.6 1306.8 L1935.6 1306.8 L1938.1 1306.8 L1938.1 1306.8 L1940.6 1306.8 L1940.6 1306.8 L1943.1 1306.8 L1943.1 1306.8 L1945.6 1306.8 L1945.6 1306.8 L1948.0 1306.8 L1948.0 1306.8 L1950.5 1306.8 L1950.5 1306.8 L1953.0 1306.8 L1953.0 1306.8 L1955.5 1306.8 L1955.5 1306.8 L1958.0 1306.8 L1958.0 1306.8 L1960.4 1306.8 L1960.4 1306.8 L1962.9 1306.8 L1962.9 1306.8 L1965.4 1306.8 L1965.4 1306.8 L1967.9 1306.8 L1967.9 1306.8 L1970.4 1306.8 L1970.4 1306.8 L1972.8 1306.8 L1972.8 1306.8 L1975.3 1306.8 L1975.3 1306.8 L1977.8 1306.8 L1977.8 1306.8 L1980.3 1306.8 L1980.3 1306.8 L1982.8 1306.8 L1982.8 1306.8 L1985.2 1306.8 L1985.2 1306.8 L1987.7 1306.8 L1987.7 1306.8 L1990.2 1306.8 L1990.2 1306.8 L1992.7 1306.8 L1992.7 1306.8 L1995.2 1306.8 L1995.2 1306.8 L1997.6 1306.8 L1997.6 1306.8 L2000.1 1306.8 L2000.1 1306.8 L2002.6 1306.8 L2002.6 1306.8 L2005.1 1306.8 L2005.1 1306.8 L2007.6 1306.8 L2007.6 1306.8 L2010.0 1306.8 L2010.0 1306.8 L2012.5 1306.8 L2012.5 1306.8 L2015.0 1306.8 L2015.0 1306.8 L2017.5 1306.8 L2017.5 1306.8 L2020.0 1306.8 L2020.0 1306.8 L2022.4 1306.8 L2022.4 1306.8 L2024.9 1306.8 L2024.9 1306.8 L2027.4 1306.8 L2027.4 1306.8 L2029.9 1306.8 L2029.9 1306.8 L2032.4 1306.8 L2032.4 1306.8 L2034.8 1306.8 L2034.8 1306.8 L2037.3 1306.8 L2037.3 1306.8 L2039.8 1306.8 L2039.8 1306.8 L2042.3 1306.8 L2042.3 1306.8 L2044.8 1306.8 L2044.8 1306.8 L2047.2 1306.8 L2047.2 1306.8 L2049.7 1306.8 L2049.7 1306.8 L2052.2 1306.8 L2052.2 1306.8 L2054.7 1306.8 L2054.7 1306.8 L2057.2 1306.8 L2057.2 1306.8 L2059.6 1306.8 L2059.6 1306.8 L2062.1 1306.8 L2062.1 1306.8 L2064.6 1306.8 L2064.6 1306.8 L2067.1 1306.8 L2067.1 1306.8 L2069.6 1306.8 L2069.6 1306.8 L2072.0 1306.8 L2072.0 1306.8 L2074.5 1306.8 L2074.5 1306.8 L2077.0 1306.8 L2077.0 1306.8 L2079.5 1306.8 L2079.5 1306.8 L2082.0 1306.8 L2082.0 1306.8 L2084.4 1306.8 L2084.4 1306.8 L2086.9 1306.8 L2086.9 1306.8 L2089.4 1306.8 L2089.4 1306.8 L2091.9 1306.8 L2091.9 1306.8 L2094.4 1306.8 L2094.4 1306.8 L2096.8 1306.8 L2096.8 1306.8 L2099.3 1306.8 L2099.3 1306.8 L2101.8 1306.8 L2101.8 1306.8 L2104.3 1306.8 L2104.3 1306.8 L2106.8 1306.8 L2106.8 1306.8 L2109.2 1306.8 L2109.2 1306.8 L2111.7 1306.8 L2111.7 1306.8 L2114.2 1306.8 L2114.2 1306.8 L2116.7 1306.8 L2116.7 1306.8 L2119.2 1306.8 L2119.2 1306.8 L2121.6 1306.8 L2121.6 1306.8 L2124.1 1306.8 L2124.1 1306.8 L2126.6 1306.8 L2126.6 1306.8 L2129.1 1306.8 L2129.1 1306.8 L2131.6 1306.8 L2131.6 1306.8 L2134.0 1306.8 L2134.0 1306.8 L2136.5 1306.8 L2136.5 1306.8 L2139.0 1306.8 L2139.0 1306.8 L2141.5 1306.8 L2141.5 1306.8 L2144.0 1306.8 L2144.0 1306.8 L2146.4 1306.8 L2146.4 1306.8 L2148.9 1306.8 L2148.9 1306.8 L2151.4 1306.8 L2151.4 1306.8 L2153.9 1306.8 L2153.9 1306.8 L2156.4 1306.8 L2156.4 1306.8 L2158.8 1306.8 L2158.8 1306.8 L2161.3 1306.8 L2161.3 1306.8 L2163.8 1306.8 L2163.8 1306.8 L2166.3 1306.8 L2166.3 1306.8 L2168.8 1306.8 L2168.8 1306.8 L2171.2 1306.8 L2171.2 1306.8 L2173.7 1306.8 L2173.7 1306.8 L2176.2 1306.8 L2176.2 1306.8 L2178.7 1306.8 L2178.7 1306.8 L2181.2 1306.8 L2181.2 1306.8 L2183.6 1306.8 L2183.6 1306.8 L2186.1 1306.8 L2186.1 1306.8 L2188.6 1306.8 L2188.6 1306.8 L2191.1 1306.8 L2191.1 1306.8 L2193.6 1306.8 L2193.6 1306.8 L2196.0 1306.8 L2196.0 1306.8 L2198.5 1306.8 L2198.5 1306.8 L2201.0 1306.8 L2201.0 1306.8 L2203.5 1306.8 L2203.5 1306.8 L2206.0 1306.8 L2206.0 1306.8 L2208.4 1306.8 L2208.4 1306.8 L2210.9 1306.8 L2210.9 1306.8 L2213.4 1306.8 L2213.4 1306.8 L2215.9 1306.8 L2215.9 1306.8 L2218.4 1306.8 L2218.4 1306.8 L2220.8 1306.8 L2220.8 1306.8 L2223.3 1306.8 L2223.3 1306.8 L2225.8 1306.8 L2225.8 1306.8 L2228.3 1306.8 L2228.3 1306.8 L2230.8 1306.8 L2230.8 1306.8 L2233.2 1306.8 L2233.2 1306.8 L2235.7 1306.8 L2235.7 1306.8 L2238.2 1306.8 L2238.2 1306.8 L2240.7 1306.8 L2240.7 1306.8 L2243.2 1306.8 L2243.2 1306.8 L2245.6 1306.8 L2245.6 1306.8 L2248.1 1306.8 L2248.1 1306.8 L2250.6 1306.8 L2250.6 1306.8 L2253.1 1306.8 L2253.1 1306.8 L2255.6 1306.8 L2255.6 1306.8 L2258.0 1306.8 L2258.0 1306.8 L2260.5 1306.8 L2260.5 1306.8 L2263.0 1306.8 L2263.0 1306.8 L2265.5 1306.8 L2265.5 1306.8 L2268.0 1306.8 L2268.0 1306.8 L2270.4 1306.8 L2270.4 1306.8 L2272.9 1306.8 L2272.9 1306.8 L2275.4 1306.8 L2275.4 1306.8 L2277.9 1306.8 L2277.9 1306.8 L2280.4 1306.8 L2280.4 1306.8 L2282.8 1306.8 L2282.8 1306.8 L2285.3 1306.8 L2285.3 1306.8 L2287.8 1306.8 L2287.8 1306.8 L2290.3 1306.8 L2290.3 1306.8 L2292.8 1306.8 L2292.8 1306.8 L2295.2 1306.8 L2295.2 1306.8 L2297.7 1306.8 L2297.7 1306.8 L2300.2 1306.8 L2300.2 1306.8 L2302.7 1306.8 L2302.7 1306.8 L2305.2 1306.8 L2305.2 1306.8 L2307.6 1306.8 L2307.6 1306.8 L2310.1 1306.8 L2310.1 1306.8 L2312.6 1306.8 L2312.6 1306.8 L2315.1 1306.8 L2315.1 1306.8 L2317.6 1306.8 L2317.6 1306.8 L2320.0 1306.8 L2320.0 1306.8 L2322.5 1306.8 L2322.5 1306.8 L2325.0 1306.8 L2325.0 1306.8 L2327.5 1306.8 L2327.5 1306.8 L2330.0 1306.8 L2330.0 1306.8 L2332.4 1306.8 L2332.4 1306.8 L2334.9 1306.8 L2334.9 1306.8 L2337.4 1306.8 L2337.4 1306.8 L2339.9 1306.8 L2339.9 1306.8 L2342.4 1306.8 L2342.4 1306.8 L2344.8 1306.8 L2344.8 1306.8 L2347.3 1306.8 L2347.3 1306.8 L2349.8 1306.8 L2349.8 1306.8 L2352.3 1306.8 L2352.3 1306.8 L2354.8 1306.8 L2354.8 1306.8 L2357.2 1306.8 L2357.2 1306.8 L2359.7 1306.8 L2359.7 1306.8 L2362.2 1306.8 L2362.2 1306.8 L2364.7 1306.8 L2364.7 1306.8 L2367.2 1306.8 L2367.2 1306.8 L2369.6 1306.8 L2369.6 1306.8 L2372.1 1306.8 L2372.1 1306.8 L2374.6 1306.8 L2374.6 1306.8 L2377.1 1306.8 L2377.1 1306.8 L2379.6 1306.8 L2379.6 1306.8 L2382.0 1306.8 L2382.0 1306.8 L2384.5 1306.8 L2384.5 1306.8 L2387.0 1306.8 L2387.0 1306.8 L2389.5 1306.8 L2389.5 1306.8 L2392.0 1306.8 L2392.0 1306.8 L2394.4 1306.8 L2394.4 1306.8 L2396.9 1306.8 L2396.9 1306.8 L2399.4 1306.8 L2399.4 1306.8 L2401.9 1306.8 L2401.9 1306.8 L2404.4 1306.8 L2404.4 1306.8 L2406.8 1306.8 L2406.8 1306.8 L2409.3 1306.8 L2409.3 1306.8 L2411.8 1306.8 L2411.8 1306.8 L2414.3 1306.8 L2414.3 1306.8 L2416.8 1306.8 L2416.8 1306.8 L2419.2 1306.8 L2419.2 1306.8 L2421.7 1306.8 L2421.7 1306.8 L2424.2 1306.8 L2424.2 1306.8 L2426.7 1306.8 L2426.7 1306.8 L2429.2 1306.8 L2429.2 1306.8 L2431.6 1306.8 L2431.6 1306.8 L2434.1 1306.8 L2434.1 1306.8 L2436.6 1306.8 L2436.6 1306.8 L2439.1 1306.8 L2439.1 1306.8 L2441.6 1306.8 L2441.6 1306.8 L2444.0 1306.8 L2444.0 1306.8 L2446.5 1306.8 L2446.5 1306.8 L2449.0 1306.8 L2449.0 1306.8 L2451.5 1306.8 L2451.5 1306.8 L2454.0 1306.8 L2454.0 1306.8 L2456.4 1306.8 L2456.4 1306.8 L2458.9 1306.8 L2458.9 1306.8 L2461.4 1306.8 L2461.4 1306.8 L2463.9 1306.8 L2463.9 1306.8 L2466.4 1306.8 L2466.4 1306.8 L2468.8 1306.8 L2468.8 1306.8 L2471.3 1306.8 L2471.3 1306.8 L2473.8 1306.8 L2473.8 1306.8 L2476.3 1306.8 L2476.3 1306.8 L2478.8 1306.8 L2478.8 1306.8 L2481.2 1306.8 L2481.2 1306.8 L2483.7 1306.8 L2483.7 1306.8 L2486.2 1306.8 L2486.2 1306.8 L2488.7 1306.8 L2488.7 1306.8 L2491.2 1306.8 L2491.2 1306.8 L2493.6 1306.8 L2493.6 1306.8 L2496.1 1306.8 L2496.1 1306.8 L2498.6 1306.8 L2498.6 1306.8 L2501.1 1306.8 L2501.1 1306.8 L2503.6 1306.8 L2503.6 1306.8 L2506.0 1306.8 L2506.0 1306.8 L2508.5 1306.8 L2508.5 1306.8 L2511.0 1306.8 L2511.0 1306.8 L2513.5 1306.8 L2513.5 1306.8 L2516.0 1306.8 L2516.0 1306.8 L2518.4 1306.8 L2518.4 1306.8 L2520.9 1306.8 L2520.9 1306.8 L2523.4 1306.8 L2523.4 1306.8 L2525.9 1306.8 L2525.9 1306.8 L2528.4 1306.8 L2528.4 1306.8 L2530.8 1306.8 L2530.8 1306.8 L2533.3 1306.8 L2533.3 1306.8 L2535.8 1306.8 L2535.8 1306.8 L2538.3 1306.8 L2538.3 1306.8 L2540.8 1306.8 L2540.8 1306.8 L2543.2 1306.8 L2543.2 1306.8 L2545.7 1306.8 L2545.7 1306.8 L2548.2 1306.8 L2548.2 1306.8 L2550.7 1306.8 L2550.7 1306.8 L2553.2 1306.8 L2553.2 1306.8 L2555.6 1306.8 L2555.6 1306.8 L2558.1 1306.8 L2558.1 1306.8 L2560.6 1306.8 L2560.6 1306.8 L2563.1 1306.8 L2563.1 1306.8 L2565.6 1306.8 L2565.6 1306.8 L2568.0 1306.8 L2568.0 1306.8 L2570.5 1306.8 L2570.5 1306.8 L2573.0 1306.8 L2573.0 1306.8 L2575.5 1306.8 L2575.5 1306.8 L2578.0 1306.8 L2578.0 1306.8 L2580.4 1306.8 L2580.4 1306.8 L2582.9 1306.8 L2582.9 1306.8 L2585.4 1306.8 L2585.4 1306.8 L2587.9 1306.8 L2587.9 1306.8 L2590.4 1306.8 L2590.4 1306.8 L2592.8 1306.8 L2592.8 1306.8 L2595.3 1306.8 L2595.3 1306.8 L2597.8 1306.8 L2597.8 1306.8 L2600.3 1306.8 L2600.3 1306.8 L2602.8 1306.8 L2602.8 1306.8 L2605.2 1306.8 L2605.2 1306.8 L2607.7 1306.8 L2607.7 1306.8 L2610.2 1306.8 L2610.2 1306.8 L2612.7 1306.8 L2612.7 1306.8 L2615.2 1306.8 L2615.2 1306.8 L2617.6 1306.8 L2617.6 1306.8 L2620.1 1306.8 L2620.1 1306.8 L2622.6 1306.8 L2622.6 1306.8 L2625.1 1306.8 L2625.1 1306.8 L2627.6 1306.8 L2627.6 1306.8 L2630.0 1306.8 L2630.0 1306.8 L2632.5 1306.8 L2632.5 1306.8 L2635.0 1306.8 L2635.0 1306.8 L2637.5 1306.8 L2637.5 1306.8 L2640.0 1306.8 L2640.0 1306.8 L2642.4 1306.8 L2642.4 1306.8 L2644.9 1306.8 L2644.9 1306.8 L2647.4 1306.8 L2647.4 1306.8 L2649.9 1306.8 L2649.9 1306.8 L2652.4 1306.8 L2652.4 1306.8 L2654.8 1306.8 L2654.8 1306.8 L2657.3 1306.8 L2657.3 1306.8 L2659.8 1306.8 L2659.8 1306.8 L2662.3 1306.8 L2662.3 1306.8 L2664.8 1306.8 L2664.8 1306.8 L2667.2 1306.8 L2667.2 1306.8 L2669.7 1306.8 L2669.7 1306.8 L2672.2 1306.8 L2672.2 1306.8 L2674.7 1306.8 L2674.7 1306.8 L2677.2 1306.8 L2677.2 1306.8 L2679.6 1306.8 L2679.6 1306.8 L2682.1 1306.8 L2682.1 1306.8 L2684.6 1306.8 L2684.6 1306.8 L2687.1 1306.8 L2687.1 1306.8 L2689.6 1306.8 L2689.6 1306.8 L2692.0 1306.8 L2692.0 1306.8 L2694.5 1306.8 L2694.5 1306.8 L2697.0 1306.8 L2697.0 1306.8 L2699.5 1306.8 L2699.5 1306.8 L2702.0 1306.8 L2702.0 1306.8 L2704.4 1306.8 L2704.4 1306.8 L2706.9 1306.8 L2706.9 1306.8 L2709.4 1306.8 L2709.4 1306.8 L2711.9 1306.8 L2711.9 1306.8 L2714.4 1306.8 L2714.4 1306.8 L2716.8 1306.8 L2716.8 1306.8 L2719.3 1306.8 L2719.3 1306.8 L2721.8 1306.8 L2721.8 1306.8 L2724.3 1306.8 L2724.3 1306.8 L2726.8 1306.8 L2726.8 1306.8 L2729.2 1306.8 L2729.2 1306.8 L2731.7 1306.8 L2731.7 1306.8 L2734.2 1306.8 L2734.2 1306.8 L2736.7 1306.8 L2736.7 1306.8 L2739.2 1306.8 L2739.2 1306.8 L2741.6 1306.8 L2741.6 1306.8 L2744.1 1306.8 L2744.1 1306.8 L2746.6 1306.8 L2746.6 1306.8 L2749.1 1306.8 L2749.1 1306.8 L2751.6 1306.8 L2751.6 1306.8 L2754.0 1306.8 L2754.0 1306.8 L2756.5 1306.8 L2756.5 1306.8 L2759.0 1306.8 L2759.0 1306.8 L2761.5 1306.8 L2761.5 1306.8 L2764.0 1306.8 L2764.0 1306.8 L2766.4 1306.8 L2766.4 1306.8 L2768.9 1306.8 L2768.9 1306.8 L2771.4 1306.8 L2771.4 1306.8 L2773.9 1306.8 L2773.9 1306.8 L2776.4 1306.8 L2776.4 1306.8 L2778.8 1306.8 L2778.8 1306.8 L2781.3 1306.8 L2781.3 1306.8 L2783.8 1306.8 L2783.8 1306.8 L2786.3 1306.8 L2786.3 1306.8 L2788.8 1306.8 L2788.8 1306.8 L2791.2 1306.8 L2791.2 1306.8 L2793.7 1306.8 L2793.7 1306.8 L2796.2 1306.8 L2796.2 1306.8 L2798.7 1306.8 L2798.7 1306.8 L2801.2 1306.8 L2801.2 1306.8 L2803.6 1306.8 L2803.6 1306.8 L2806.1 1306.8 L2806.1 1306.8 L2808.6 1306.8 L2808.6 1306.8 L2811.1 1306.8 L2811.1 1306.8 L2813.6 1306.8 L2813.6 1306.8 L2816.0 1306.8 L2816.0 1306.8 L2818.5 1306.8 L2818.5 1306.8 L2821.0 1306.8 L2821.0 1306.8 L2823.5 1306.8 L2823.5 1306.8 L2826.0 1306.8 L2826.0 1306.8 L2828.4 1306.8 L2828.4 1306.8 L2830.9 1306.8 L2830.9 1306.8 L2833.4 1306.8 L2833.4 1306.8 L2835.9 1306.8 L2835.9 1306.8 L2838.4 1306.8 L2838.4 1306.8 L2840.8 1306.8 L2840.8 1306.8 L2843.3 1306.8 L2843.3 1306.8 L2845.8 1306.8 L2845.8 1306.8 L2848.3 1306.8 L2848.3 1306.8 L2850.8 1306.8 L2850.8 1306.8 L2853.2 1306.8 L2853.2 1306.8 L2855.7 1306.8 L2855.7 1316.0 L2858.2 1316.0 L2858.2 1306.8 Z" fill="#fb0558" stroke="none"/>
<rect x="341" y="1305.9" width="2517" height="1.2" fill="#a877d6"/><rect x="341" y="1307.1" width="2517" height="1.2" fill="#e26fc0"/>
</g>
<text x="79" y="1719.6" font-size="40.3" fill="#808080">© 2025 Glassnode. All Rights Reserved.</text>
<text x="2724.5 2774.3 2794.1 2842.4 2881.8 2920.6 2970.7 3020.9 3071.4" y="1732" font-size="84" fill="#d9d9d9" stroke="#d9d9d9" stroke-width="1" stroke-linejoin="round">glassnode</text>
</svg></body></html>
